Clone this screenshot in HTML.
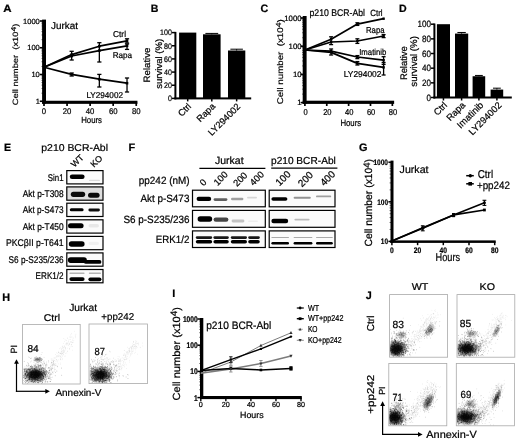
<!DOCTYPE html>
<html lang="en">
<head>
<meta charset="utf-8">
<title>Figure</title>
<style>
html,body{margin:0;padding:0;background:#fff;}
body{width:520px;height:442px;overflow:hidden;}
svg{display:block;font-family:"Liberation Sans", Arial, Helvetica, sans-serif;fill:#000;text-rendering:geometricPrecision;filter:blur(0.3px);}
text{stroke:#000;stroke-width:0.22px;}
</style>
</head>
<body>
<svg width="520" height="442" viewBox="0 0 520 442">
<defs>
<filter id="b1" x="-20%" y="-60%" width="140%" height="220%"><feGaussianBlur stdDeviation="0.75 0.5"/></filter>
<filter id="soft" x="-5%" y="-5%" width="110%" height="110%"><feGaussianBlur stdDeviation="0.32"/></filter>
<radialGradient id="g1"><stop offset="0" stop-color="#000" stop-opacity="0.95"/><stop offset="0.3" stop-color="#000" stop-opacity="0.85"/><stop offset="0.55" stop-color="#000" stop-opacity="0.45"/><stop offset="0.8" stop-color="#000" stop-opacity="0.12"/><stop offset="1" stop-color="#000" stop-opacity="0"/></radialGradient>
<radialGradient id="g2"><stop offset="0" stop-color="#000" stop-opacity="0.8"/><stop offset="0.5" stop-color="#000" stop-opacity="0.45"/><stop offset="1" stop-color="#000" stop-opacity="0"/></radialGradient>
</defs>
<rect width="520" height="442" fill="#fff"/>
<text x="3.20" y="11.80" font-size="10.6" font-weight="bold" textLength="8.30" lengthAdjust="spacingAndGlyphs">A</text>
<rect x="42.10" y="19.60" width="3.90" height="84.05" fill="#000"/>
<line x1="41.50" y1="93.20" x2="43.00" y2="93.20" stroke="#000" stroke-width="0.6"/>
<line x1="41.50" y1="88.49" x2="43.00" y2="88.49" stroke="#000" stroke-width="0.6"/>
<line x1="41.50" y1="85.14" x2="43.00" y2="85.14" stroke="#000" stroke-width="0.6"/>
<line x1="41.50" y1="82.55" x2="43.00" y2="82.55" stroke="#000" stroke-width="0.6"/>
<line x1="41.50" y1="80.43" x2="43.00" y2="80.43" stroke="#000" stroke-width="0.6"/>
<line x1="41.50" y1="78.64" x2="43.00" y2="78.64" stroke="#000" stroke-width="0.6"/>
<line x1="41.50" y1="77.09" x2="43.00" y2="77.09" stroke="#000" stroke-width="0.6"/>
<line x1="41.50" y1="75.72" x2="43.00" y2="75.72" stroke="#000" stroke-width="0.6"/>
<line x1="41.50" y1="66.45" x2="43.00" y2="66.45" stroke="#000" stroke-width="0.6"/>
<line x1="41.50" y1="61.74" x2="43.00" y2="61.74" stroke="#000" stroke-width="0.6"/>
<line x1="41.50" y1="58.39" x2="43.00" y2="58.39" stroke="#000" stroke-width="0.6"/>
<line x1="41.50" y1="55.80" x2="43.00" y2="55.80" stroke="#000" stroke-width="0.6"/>
<line x1="41.50" y1="53.68" x2="43.00" y2="53.68" stroke="#000" stroke-width="0.6"/>
<line x1="41.50" y1="51.89" x2="43.00" y2="51.89" stroke="#000" stroke-width="0.6"/>
<line x1="41.50" y1="50.34" x2="43.00" y2="50.34" stroke="#000" stroke-width="0.6"/>
<line x1="41.50" y1="48.97" x2="43.00" y2="48.97" stroke="#000" stroke-width="0.6"/>
<line x1="41.50" y1="39.70" x2="43.00" y2="39.70" stroke="#000" stroke-width="0.6"/>
<line x1="41.50" y1="34.99" x2="43.00" y2="34.99" stroke="#000" stroke-width="0.6"/>
<line x1="41.50" y1="31.64" x2="43.00" y2="31.64" stroke="#000" stroke-width="0.6"/>
<line x1="41.50" y1="29.05" x2="43.00" y2="29.05" stroke="#000" stroke-width="0.6"/>
<line x1="41.50" y1="26.93" x2="43.00" y2="26.93" stroke="#000" stroke-width="0.6"/>
<line x1="41.50" y1="25.14" x2="43.00" y2="25.14" stroke="#000" stroke-width="0.6"/>
<line x1="41.50" y1="23.59" x2="43.00" y2="23.59" stroke="#000" stroke-width="0.6"/>
<line x1="41.50" y1="22.22" x2="43.00" y2="22.22" stroke="#000" stroke-width="0.6"/>
<line x1="39.80" y1="21.00" x2="43.00" y2="21.00" stroke="#000" stroke-width="1.6"/>
<text x="39.80" y="23.70" font-size="7.5" text-anchor="end">1000</text>
<line x1="39.80" y1="47.75" x2="43.00" y2="47.75" stroke="#000" stroke-width="1.6"/>
<text x="39.80" y="50.45" font-size="7.5" text-anchor="end">100</text>
<line x1="39.80" y1="74.50" x2="43.00" y2="74.50" stroke="#000" stroke-width="1.6"/>
<text x="39.80" y="77.20" font-size="7.5" text-anchor="end">10</text>
<line x1="39.80" y1="101.25" x2="43.00" y2="101.25" stroke="#000" stroke-width="1.6"/>
<text x="39.80" y="103.95" font-size="7.5" text-anchor="end">1</text>
<rect x="42.10" y="100.75" width="95.34" height="3.10" fill="#000"/>
<line x1="44.00" y1="102.25" x2="44.00" y2="105.95" stroke="#000" stroke-width="1.7"/>
<text x="44.00" y="114.40" font-size="8.3" text-anchor="middle" textLength="4.30" lengthAdjust="spacingAndGlyphs">0</text>
<line x1="67.06" y1="102.25" x2="67.06" y2="105.95" stroke="#000" stroke-width="1.7"/>
<text x="67.06" y="114.40" font-size="8.3" text-anchor="middle" textLength="8.60" lengthAdjust="spacingAndGlyphs">20</text>
<line x1="90.12" y1="102.25" x2="90.12" y2="105.95" stroke="#000" stroke-width="1.7"/>
<text x="90.12" y="114.40" font-size="8.3" text-anchor="middle" textLength="8.60" lengthAdjust="spacingAndGlyphs">40</text>
<line x1="113.18" y1="102.25" x2="113.18" y2="105.95" stroke="#000" stroke-width="1.7"/>
<text x="113.18" y="114.40" font-size="8.3" text-anchor="middle" textLength="8.60" lengthAdjust="spacingAndGlyphs">60</text>
<line x1="136.24" y1="102.25" x2="136.24" y2="105.95" stroke="#000" stroke-width="1.7"/>
<text x="136.24" y="114.40" font-size="8.3" text-anchor="middle" textLength="8.60" lengthAdjust="spacingAndGlyphs">80</text>
<text x="91.60" y="123.20" font-size="8.8" text-anchor="middle" textLength="20.80" lengthAdjust="spacingAndGlyphs">Hours</text>
<text xml:space="preserve" font-size="9.4" transform="translate(17.61 105.20) scale(0.82 1) rotate(-90)" textLength="81.50" lengthAdjust="spacingAndGlyphs">Cell number  (x10<tspan font-size="8.5" dy="-2.5">4</tspan><tspan dy="2.5">)</tspan></text>
<text x="51.00" y="28.70" font-size="9.8" textLength="27.00" lengthAdjust="spacingAndGlyphs">Jurkat</text>
<polyline points="44.00,67.30 71.67,54.60 99.34,46.20 127.02,40.80" fill="none" stroke="#000" stroke-width="1.7" stroke-linejoin="round"/>
<polyline points="44.00,67.30 71.67,56.00 99.34,50.60 127.02,45.80" fill="none" stroke="#000" stroke-width="1.7" stroke-linejoin="round"/>
<polyline points="44.00,67.30 71.67,74.40 99.34,79.20 127.02,83.20" fill="none" stroke="#000" stroke-width="1.7" stroke-linejoin="round"/>
<line x1="71.67" y1="51.30" x2="71.67" y2="60.00" stroke="#000" stroke-width="1.3"/>
<line x1="69.57" y1="51.30" x2="73.77" y2="51.30" stroke="#000" stroke-width="1.3"/>
<line x1="69.57" y1="60.00" x2="73.77" y2="60.00" stroke="#000" stroke-width="1.3"/>
<line x1="99.34" y1="42.70" x2="99.34" y2="62.00" stroke="#000" stroke-width="1.3"/>
<line x1="97.24" y1="42.70" x2="101.44" y2="42.70" stroke="#000" stroke-width="1.3"/>
<line x1="97.24" y1="62.00" x2="101.44" y2="62.00" stroke="#000" stroke-width="1.3"/>
<line x1="127.02" y1="38.80" x2="127.02" y2="43.00" stroke="#000" stroke-width="1.3"/>
<line x1="124.92" y1="38.80" x2="129.12" y2="38.80" stroke="#000" stroke-width="1.3"/>
<line x1="124.92" y1="43.00" x2="129.12" y2="43.00" stroke="#000" stroke-width="1.3"/>
<line x1="127.02" y1="44.00" x2="127.02" y2="49.40" stroke="#000" stroke-width="1.3"/>
<line x1="124.92" y1="44.00" x2="129.12" y2="44.00" stroke="#000" stroke-width="1.3"/>
<line x1="124.92" y1="49.40" x2="129.12" y2="49.40" stroke="#000" stroke-width="1.3"/>
<line x1="71.67" y1="73.00" x2="71.67" y2="76.00" stroke="#000" stroke-width="1.3"/>
<line x1="69.57" y1="73.00" x2="73.77" y2="73.00" stroke="#000" stroke-width="1.3"/>
<line x1="69.57" y1="76.00" x2="73.77" y2="76.00" stroke="#000" stroke-width="1.3"/>
<line x1="99.34" y1="74.40" x2="99.34" y2="87.00" stroke="#000" stroke-width="1.3"/>
<line x1="97.24" y1="74.40" x2="101.44" y2="74.40" stroke="#000" stroke-width="1.3"/>
<line x1="97.24" y1="87.00" x2="101.44" y2="87.00" stroke="#000" stroke-width="1.3"/>
<line x1="127.02" y1="78.00" x2="127.02" y2="92.00" stroke="#000" stroke-width="1.3"/>
<line x1="124.92" y1="78.00" x2="129.12" y2="78.00" stroke="#000" stroke-width="1.3"/>
<line x1="124.92" y1="92.00" x2="129.12" y2="92.00" stroke="#000" stroke-width="1.3"/>
<rect x="70.37" y="53.30" width="2.60" height="2.60" fill="#000"/>
<rect x="98.04" y="44.90" width="2.60" height="2.60" fill="#000"/>
<rect x="125.72" y="39.50" width="2.60" height="2.60" fill="#000"/>
<rect x="70.37" y="54.70" width="2.60" height="2.60" fill="#000"/>
<rect x="98.04" y="49.30" width="2.60" height="2.60" fill="#000"/>
<rect x="125.72" y="44.50" width="2.60" height="2.60" fill="#000"/>
<rect x="70.37" y="73.10" width="2.60" height="2.60" fill="#000"/>
<rect x="98.04" y="77.90" width="2.60" height="2.60" fill="#000"/>
<rect x="125.72" y="81.90" width="2.60" height="2.60" fill="#000"/>
<text x="113.00" y="36.50" font-size="8.5" textLength="13.00" lengthAdjust="spacingAndGlyphs">Ctrl</text>
<text x="112.70" y="58.30" font-size="8.4" textLength="19.40" lengthAdjust="spacingAndGlyphs">Rapa</text>
<text x="86.40" y="97.70" font-size="8.4" textLength="36.60" lengthAdjust="spacingAndGlyphs">LY294002</text>
<text x="150.80" y="11.50" font-size="10.6" font-weight="bold">B</text>
<rect x="174.40" y="31.90" width="2.00" height="67.50" fill="#000"/>
<rect x="174.40" y="97.40" width="76.80" height="2.00" fill="#000"/>
<line x1="172.00" y1="98.40" x2="175.40" y2="98.40" stroke="#000" stroke-width="1.5"/>
<text x="171.90" y="101.20" font-size="8.0" text-anchor="end" textLength="3.95" lengthAdjust="spacingAndGlyphs">0</text>
<line x1="172.00" y1="85.24" x2="175.40" y2="85.24" stroke="#000" stroke-width="1.5"/>
<text x="171.90" y="88.04" font-size="8.0" text-anchor="end" textLength="7.90" lengthAdjust="spacingAndGlyphs">20</text>
<line x1="172.00" y1="72.08" x2="175.40" y2="72.08" stroke="#000" stroke-width="1.5"/>
<text x="171.90" y="74.88" font-size="8.0" text-anchor="end" textLength="7.90" lengthAdjust="spacingAndGlyphs">40</text>
<line x1="172.00" y1="58.92" x2="175.40" y2="58.92" stroke="#000" stroke-width="1.5"/>
<text x="171.90" y="61.72" font-size="8.0" text-anchor="end" textLength="7.90" lengthAdjust="spacingAndGlyphs">60</text>
<line x1="172.00" y1="45.76" x2="175.40" y2="45.76" stroke="#000" stroke-width="1.5"/>
<text x="171.90" y="48.56" font-size="8.0" text-anchor="end" textLength="7.90" lengthAdjust="spacingAndGlyphs">80</text>
<line x1="172.00" y1="32.60" x2="175.40" y2="32.60" stroke="#000" stroke-width="1.5"/>
<text x="171.90" y="35.40" font-size="8.0" text-anchor="end" textLength="11.85" lengthAdjust="spacingAndGlyphs">100</text>
<rect x="179.10" y="32.60" width="17.20" height="65.80" fill="#000"/>
<line x1="187.70" y1="98.40" x2="187.70" y2="101.40" stroke="#000" stroke-width="1.5"/>
<rect x="203.00" y="34.31" width="17.60" height="64.09" fill="#000"/>
<line x1="211.80" y1="33.41" x2="211.80" y2="34.31" stroke="#000" stroke-width="1.0"/>
<line x1="205.40" y1="33.41" x2="218.20" y2="33.41" stroke="#000" stroke-width="1.0"/>
<line x1="211.80" y1="98.40" x2="211.80" y2="101.40" stroke="#000" stroke-width="1.5"/>
<rect x="228.00" y="50.50" width="17.30" height="47.90" fill="#000"/>
<line x1="236.65" y1="49.20" x2="236.65" y2="50.50" stroke="#000" stroke-width="1.0"/>
<line x1="230.40" y1="49.20" x2="242.90" y2="49.20" stroke="#000" stroke-width="1.0"/>
<line x1="236.65" y1="98.40" x2="236.65" y2="101.40" stroke="#000" stroke-width="1.5"/>
<text x="149.60" y="65.00" font-size="9.3" text-anchor="middle" transform="rotate(-90 149.60 65.00)" textLength="35.00" lengthAdjust="spacingAndGlyphs">Relative</text>
<text x="162.00" y="63.80" font-size="9.3" text-anchor="middle" transform="rotate(-90 162.00 63.80)" textLength="50.00" lengthAdjust="spacingAndGlyphs">survival (%)</text>
<text x="191.80" y="107.00" font-size="9.2" text-anchor="end" transform="rotate(-45 191.80 107.00)">Ctrl</text>
<text x="215.80" y="107.00" font-size="9.2" text-anchor="end" transform="rotate(-45 215.80 107.00)">Rapa</text>
<text x="241.00" y="107.20" font-size="9.2" text-anchor="end" transform="rotate(-45 241.00 107.20)">LY294002</text>
<text x="260.40" y="11.60" font-size="10.8" font-weight="bold">C</text>
<rect x="302.70" y="16.00" width="3.90" height="87.90" fill="#000"/>
<line x1="302.20" y1="94.11" x2="304.00" y2="94.11" stroke="#000" stroke-width="0.6"/>
<line x1="302.20" y1="89.15" x2="304.00" y2="89.15" stroke="#000" stroke-width="0.6"/>
<line x1="302.20" y1="85.62" x2="304.00" y2="85.62" stroke="#000" stroke-width="0.6"/>
<line x1="302.20" y1="82.89" x2="304.00" y2="82.89" stroke="#000" stroke-width="0.6"/>
<line x1="302.20" y1="80.66" x2="304.00" y2="80.66" stroke="#000" stroke-width="0.6"/>
<line x1="302.20" y1="78.77" x2="304.00" y2="78.77" stroke="#000" stroke-width="0.6"/>
<line x1="302.20" y1="77.13" x2="304.00" y2="77.13" stroke="#000" stroke-width="0.6"/>
<line x1="302.20" y1="75.69" x2="304.00" y2="75.69" stroke="#000" stroke-width="0.6"/>
<line x1="302.20" y1="65.91" x2="304.00" y2="65.91" stroke="#000" stroke-width="0.6"/>
<line x1="302.20" y1="60.95" x2="304.00" y2="60.95" stroke="#000" stroke-width="0.6"/>
<line x1="302.20" y1="57.42" x2="304.00" y2="57.42" stroke="#000" stroke-width="0.6"/>
<line x1="302.20" y1="54.69" x2="304.00" y2="54.69" stroke="#000" stroke-width="0.6"/>
<line x1="302.20" y1="52.46" x2="304.00" y2="52.46" stroke="#000" stroke-width="0.6"/>
<line x1="302.20" y1="50.57" x2="304.00" y2="50.57" stroke="#000" stroke-width="0.6"/>
<line x1="302.20" y1="48.93" x2="304.00" y2="48.93" stroke="#000" stroke-width="0.6"/>
<line x1="302.20" y1="47.49" x2="304.00" y2="47.49" stroke="#000" stroke-width="0.6"/>
<line x1="302.20" y1="37.71" x2="304.00" y2="37.71" stroke="#000" stroke-width="0.6"/>
<line x1="302.20" y1="32.75" x2="304.00" y2="32.75" stroke="#000" stroke-width="0.6"/>
<line x1="302.20" y1="29.22" x2="304.00" y2="29.22" stroke="#000" stroke-width="0.6"/>
<line x1="302.20" y1="26.49" x2="304.00" y2="26.49" stroke="#000" stroke-width="0.6"/>
<line x1="302.20" y1="24.26" x2="304.00" y2="24.26" stroke="#000" stroke-width="0.6"/>
<line x1="302.20" y1="22.37" x2="304.00" y2="22.37" stroke="#000" stroke-width="0.6"/>
<line x1="302.20" y1="20.73" x2="304.00" y2="20.73" stroke="#000" stroke-width="0.6"/>
<line x1="302.20" y1="19.29" x2="304.00" y2="19.29" stroke="#000" stroke-width="0.6"/>
<line x1="300.60" y1="18.00" x2="304.00" y2="18.00" stroke="#000" stroke-width="1.6"/>
<text x="301.60" y="20.80" font-size="7.8" text-anchor="end">1000</text>
<line x1="300.60" y1="46.20" x2="304.00" y2="46.20" stroke="#000" stroke-width="1.6"/>
<text x="301.60" y="49.00" font-size="7.8" text-anchor="end">100</text>
<line x1="300.60" y1="74.40" x2="304.00" y2="74.40" stroke="#000" stroke-width="1.6"/>
<text x="301.60" y="77.20" font-size="7.8" text-anchor="end">10</text>
<line x1="300.60" y1="102.60" x2="304.00" y2="102.60" stroke="#000" stroke-width="1.6"/>
<text x="301.60" y="105.40" font-size="7.8" text-anchor="end">1</text>
<rect x="302.70" y="100.70" width="91.44" height="3.20" fill="#000"/>
<line x1="304.90" y1="102.60" x2="304.90" y2="106.00" stroke="#000" stroke-width="1.7"/>
<text x="305.50" y="115.20" font-size="8.6" text-anchor="middle" textLength="4.20" lengthAdjust="spacingAndGlyphs">0</text>
<line x1="326.76" y1="102.60" x2="326.76" y2="106.00" stroke="#000" stroke-width="1.7"/>
<text x="327.36" y="115.20" font-size="8.6" text-anchor="middle" textLength="8.40" lengthAdjust="spacingAndGlyphs">20</text>
<line x1="348.62" y1="102.60" x2="348.62" y2="106.00" stroke="#000" stroke-width="1.7"/>
<text x="349.22" y="115.20" font-size="8.6" text-anchor="middle" textLength="8.40" lengthAdjust="spacingAndGlyphs">40</text>
<line x1="370.48" y1="102.60" x2="370.48" y2="106.00" stroke="#000" stroke-width="1.7"/>
<text x="371.08" y="115.20" font-size="8.6" text-anchor="middle" textLength="8.40" lengthAdjust="spacingAndGlyphs">60</text>
<line x1="392.34" y1="102.60" x2="392.34" y2="106.00" stroke="#000" stroke-width="1.7"/>
<text x="392.94" y="115.20" font-size="8.6" text-anchor="middle" textLength="8.40" lengthAdjust="spacingAndGlyphs">80</text>
<text x="350.80" y="125.80" font-size="9.2" text-anchor="middle" textLength="20.80" lengthAdjust="spacingAndGlyphs">Hours</text>
<text xml:space="preserve" font-size="9.6" transform="translate(283.28 104.20) scale(0.86 1) rotate(-90)" textLength="85.00" lengthAdjust="spacingAndGlyphs">Cell number  (x10<tspan font-size="8.6" dy="-2.6">4</tspan><tspan dy="2.6">)</tspan></text>
<text x="309.50" y="15.50" font-size="9.7" textLength="55.50" lengthAdjust="spacingAndGlyphs">p210 BCR-Abl</text>
<polyline points="304.90,50.00 331.13,39.20 357.36,24.10 383.60,18.70" fill="none" stroke="#000" stroke-width="1.7" stroke-linejoin="round"/>
<polyline points="304.90,50.00 331.13,42.00 357.36,41.00 383.60,36.00" fill="none" stroke="#000" stroke-width="1.7" stroke-linejoin="round"/>
<polyline points="304.90,50.00 331.13,51.20 357.36,57.00 383.60,60.20" fill="none" stroke="#000" stroke-width="1.7" stroke-linejoin="round"/>
<polyline points="304.90,50.00 331.13,52.40 357.36,63.40 383.60,67.40" fill="none" stroke="#000" stroke-width="1.7" stroke-linejoin="round"/>
<line x1="331.13" y1="36.80" x2="331.13" y2="44.60" stroke="#000" stroke-width="1.3"/>
<line x1="329.13" y1="36.80" x2="333.13" y2="36.80" stroke="#000" stroke-width="1.3"/>
<line x1="329.13" y1="44.60" x2="333.13" y2="44.60" stroke="#000" stroke-width="1.3"/>
<line x1="331.13" y1="49.00" x2="331.13" y2="55.00" stroke="#000" stroke-width="1.3"/>
<line x1="329.13" y1="49.00" x2="333.13" y2="49.00" stroke="#000" stroke-width="1.3"/>
<line x1="329.13" y1="55.00" x2="333.13" y2="55.00" stroke="#000" stroke-width="1.3"/>
<line x1="357.36" y1="22.80" x2="357.36" y2="25.40" stroke="#000" stroke-width="1.3"/>
<line x1="355.36" y1="22.80" x2="359.36" y2="22.80" stroke="#000" stroke-width="1.3"/>
<line x1="355.36" y1="25.40" x2="359.36" y2="25.40" stroke="#000" stroke-width="1.3"/>
<line x1="357.36" y1="38.80" x2="357.36" y2="43.40" stroke="#000" stroke-width="1.3"/>
<line x1="355.36" y1="38.80" x2="359.36" y2="38.80" stroke="#000" stroke-width="1.3"/>
<line x1="355.36" y1="43.40" x2="359.36" y2="43.40" stroke="#000" stroke-width="1.3"/>
<line x1="357.36" y1="55.60" x2="357.36" y2="58.60" stroke="#000" stroke-width="1.3"/>
<line x1="355.36" y1="55.60" x2="359.36" y2="55.60" stroke="#000" stroke-width="1.3"/>
<line x1="355.36" y1="58.60" x2="359.36" y2="58.60" stroke="#000" stroke-width="1.3"/>
<line x1="357.36" y1="61.60" x2="357.36" y2="65.00" stroke="#000" stroke-width="1.3"/>
<line x1="355.36" y1="61.60" x2="359.36" y2="61.60" stroke="#000" stroke-width="1.3"/>
<line x1="355.36" y1="65.00" x2="359.36" y2="65.00" stroke="#000" stroke-width="1.3"/>
<line x1="383.60" y1="34.60" x2="383.60" y2="37.60" stroke="#000" stroke-width="1.3"/>
<line x1="381.60" y1="34.60" x2="385.60" y2="34.60" stroke="#000" stroke-width="1.3"/>
<line x1="381.60" y1="37.60" x2="385.60" y2="37.60" stroke="#000" stroke-width="1.3"/>
<line x1="383.60" y1="56.70" x2="383.60" y2="64.40" stroke="#000" stroke-width="1.3"/>
<line x1="381.60" y1="56.70" x2="385.60" y2="56.70" stroke="#000" stroke-width="1.3"/>
<line x1="381.60" y1="64.40" x2="385.60" y2="64.40" stroke="#000" stroke-width="1.3"/>
<line x1="383.60" y1="62.50" x2="383.60" y2="75.00" stroke="#000" stroke-width="1.3"/>
<line x1="381.60" y1="62.50" x2="385.60" y2="62.50" stroke="#000" stroke-width="1.3"/>
<line x1="381.60" y1="75.00" x2="385.60" y2="75.00" stroke="#000" stroke-width="1.3"/>
<rect x="329.93" y="38.00" width="2.40" height="2.40" fill="#000"/>
<rect x="356.16" y="22.90" width="2.40" height="2.40" fill="#000"/>
<rect x="382.40" y="17.50" width="2.40" height="2.40" fill="#000"/>
<rect x="329.93" y="40.80" width="2.40" height="2.40" fill="#000"/>
<rect x="356.16" y="39.80" width="2.40" height="2.40" fill="#000"/>
<rect x="382.40" y="34.80" width="2.40" height="2.40" fill="#000"/>
<rect x="329.93" y="50.00" width="2.40" height="2.40" fill="#000"/>
<rect x="356.16" y="55.80" width="2.40" height="2.40" fill="#000"/>
<rect x="382.40" y="59.00" width="2.40" height="2.40" fill="#000"/>
<rect x="329.93" y="51.20" width="2.40" height="2.40" fill="#000"/>
<rect x="356.16" y="62.20" width="2.40" height="2.40" fill="#000"/>
<rect x="382.40" y="66.20" width="2.40" height="2.40" fill="#000"/>
<text x="370.20" y="16.30" font-size="9.0" textLength="12.40" lengthAdjust="spacingAndGlyphs">Ctrl</text>
<text x="366.00" y="32.70" font-size="8.7" textLength="18.60" lengthAdjust="spacingAndGlyphs">Rapa</text>
<text x="359.20" y="54.80" font-size="8.6" textLength="27.20" lengthAdjust="spacingAndGlyphs">Imatinib</text>
<text x="343.80" y="76.60" font-size="8.6" textLength="37.60" lengthAdjust="spacingAndGlyphs">LY294002</text>
<text x="399.00" y="11.80" font-size="10.6" font-weight="bold">D</text>
<rect x="433.40" y="23.50" width="2.00" height="75.00" fill="#000"/>
<rect x="433.40" y="96.50" width="78.40" height="2.00" fill="#000"/>
<line x1="431.00" y1="97.50" x2="434.40" y2="97.50" stroke="#000" stroke-width="1.5"/>
<text x="430.90" y="100.72" font-size="9.2" text-anchor="end" textLength="4.50" lengthAdjust="spacingAndGlyphs">0</text>
<line x1="431.00" y1="82.84" x2="434.40" y2="82.84" stroke="#000" stroke-width="1.5"/>
<text x="430.90" y="86.06" font-size="9.2" text-anchor="end" textLength="9.00" lengthAdjust="spacingAndGlyphs">20</text>
<line x1="431.00" y1="68.18" x2="434.40" y2="68.18" stroke="#000" stroke-width="1.5"/>
<text x="430.90" y="71.40" font-size="9.2" text-anchor="end" textLength="9.00" lengthAdjust="spacingAndGlyphs">40</text>
<line x1="431.00" y1="53.52" x2="434.40" y2="53.52" stroke="#000" stroke-width="1.5"/>
<text x="430.90" y="56.74" font-size="9.2" text-anchor="end" textLength="9.00" lengthAdjust="spacingAndGlyphs">60</text>
<line x1="431.00" y1="38.86" x2="434.40" y2="38.86" stroke="#000" stroke-width="1.5"/>
<text x="430.90" y="42.08" font-size="9.2" text-anchor="end" textLength="9.00" lengthAdjust="spacingAndGlyphs">80</text>
<line x1="431.00" y1="24.20" x2="434.40" y2="24.20" stroke="#000" stroke-width="1.5"/>
<text x="430.90" y="27.42" font-size="9.2" text-anchor="end" textLength="13.50" lengthAdjust="spacingAndGlyphs">100</text>
<rect x="436.90" y="24.20" width="13.10" height="73.30" fill="#000"/>
<line x1="443.45" y1="97.50" x2="443.45" y2="100.50" stroke="#000" stroke-width="1.5"/>
<rect x="455.00" y="33.58" width="13.20" height="63.92" fill="#000"/>
<line x1="461.60" y1="32.48" x2="461.60" y2="33.58" stroke="#000" stroke-width="1.0"/>
<line x1="457.40" y1="32.48" x2="465.80" y2="32.48" stroke="#000" stroke-width="1.0"/>
<line x1="461.60" y1="97.50" x2="461.60" y2="100.50" stroke="#000" stroke-width="1.5"/>
<rect x="472.60" y="76.24" width="12.60" height="21.26" fill="#000"/>
<line x1="478.90" y1="75.44" x2="478.90" y2="76.24" stroke="#000" stroke-width="1.0"/>
<line x1="475.00" y1="75.44" x2="482.80" y2="75.44" stroke="#000" stroke-width="1.0"/>
<line x1="478.90" y1="97.50" x2="478.90" y2="100.50" stroke="#000" stroke-width="1.5"/>
<rect x="490.60" y="89.58" width="12.60" height="7.92" fill="#000"/>
<line x1="496.90" y1="88.18" x2="496.90" y2="89.58" stroke="#000" stroke-width="1.0"/>
<line x1="493.00" y1="88.18" x2="500.80" y2="88.18" stroke="#000" stroke-width="1.0"/>
<line x1="496.90" y1="97.50" x2="496.90" y2="100.50" stroke="#000" stroke-width="1.5"/>
<text x="406.80" y="63.20" font-size="9.6" text-anchor="middle" transform="rotate(-90 406.80 63.20)" textLength="33.80" lengthAdjust="spacingAndGlyphs">Relative</text>
<text x="417.10" y="61.40" font-size="9.6" text-anchor="middle" transform="rotate(-90 417.10 61.40)" textLength="50.60" lengthAdjust="spacingAndGlyphs">survival (%)</text>
<text x="447.80" y="105.70" font-size="9.4" text-anchor="end" transform="rotate(-45 447.80 105.70)">Ctrl</text>
<text x="466.00" y="105.70" font-size="9.4" text-anchor="end" transform="rotate(-45 466.00 105.70)">Rapa</text>
<text x="484.00" y="105.70" font-size="9.4" text-anchor="end" transform="rotate(-45 484.00 105.70)">Imatinib</text>
<text x="502.20" y="105.90" font-size="9.4" text-anchor="end" transform="rotate(-45 502.20 105.90)">LY294002</text>
<text x="4.00" y="151.00" font-size="10.6" font-weight="bold">E</text>
<text x="41.30" y="150.90" font-size="10" textLength="66.70" lengthAdjust="spacingAndGlyphs">p210 BCR-Abl</text>
<text x="74.60" y="167.80" font-size="8.8" transform="rotate(-45 74.60 167.80)">WT</text>
<text x="94.00" y="167.80" font-size="8.8" transform="rotate(-45 94.00 167.80)">KO</text>
<rect x="66.80" y="170.60" width="36.20" height="13.30" fill="#fbfbfb" stroke="#000" stroke-width="1.2"/>
<text x="63.60" y="180.55" font-size="9.7" text-anchor="end" textLength="15.80" lengthAdjust="spacingAndGlyphs">Sin1</text>
<rect x="66.80" y="186.90" width="36.20" height="13.30" fill="#dedede" stroke="#000" stroke-width="1.2"/>
<text x="63.60" y="196.85" font-size="9.7" text-anchor="end" textLength="40.80" lengthAdjust="spacingAndGlyphs">Akt p-T308</text>
<rect x="66.80" y="203.20" width="36.20" height="13.30" fill="#fbfbfb" stroke="#000" stroke-width="1.2"/>
<text x="63.60" y="213.15" font-size="9.7" text-anchor="end" textLength="40.80" lengthAdjust="spacingAndGlyphs">Akt p-S473</text>
<rect x="66.80" y="219.80" width="36.20" height="13.30" fill="#fbfbfb" stroke="#000" stroke-width="1.2"/>
<text x="63.60" y="229.75" font-size="9.7" text-anchor="end" textLength="40.80" lengthAdjust="spacingAndGlyphs">Akt p-T450</text>
<rect x="66.80" y="236.40" width="36.20" height="13.30" fill="#fbfbfb" stroke="#000" stroke-width="1.2"/>
<text x="63.60" y="246.35" font-size="9.7" text-anchor="end" textLength="57.60" lengthAdjust="spacingAndGlyphs">PKCβII p-T641</text>
<rect x="66.80" y="252.90" width="36.20" height="13.30" fill="#fbfbfb" stroke="#000" stroke-width="1.2"/>
<text x="63.60" y="262.85" font-size="9.7" text-anchor="end" textLength="55.00" lengthAdjust="spacingAndGlyphs">S6 p-S235/236</text>
<rect x="66.80" y="269.50" width="36.20" height="13.30" fill="#fbfbfb" stroke="#000" stroke-width="1.2"/>
<text x="63.60" y="279.45" font-size="9.7" text-anchor="end" textLength="28.00" lengthAdjust="spacingAndGlyphs">ERK1/2</text>
<rect x="69.80" y="174.50" width="14.80" height="4.60" rx="2.30" fill="#000" filter="url(#b1)"/>
<rect x="89.00" y="179.70" width="11.00" height="1.40" rx="0.70" fill="#000" opacity="0.12" filter="url(#b1)"/>
<rect x="70.80" y="191.70" width="14.40" height="5.20" rx="2.60" fill="#000" opacity="0.95" filter="url(#b1)"/>
<rect x="88.00" y="192.80" width="11.60" height="5.00" rx="2.50" fill="#000" opacity="0.95" filter="url(#b1)"/>
<rect x="69.80" y="208.30" width="13.80" height="3.00" rx="1.50" fill="#000" filter="url(#b1)"/>
<rect x="88.40" y="208.60" width="11.50" height="2.80" rx="1.40" fill="#000" opacity="0.95" filter="url(#b1)"/>
<rect x="68.00" y="223.30" width="15.60" height="5.00" rx="2.50" fill="#000" filter="url(#b1)"/>
<rect x="88.50" y="224.10" width="10.50" height="3.40" rx="1.70" fill="#000" opacity="0.07" filter="url(#b1)"/>
<rect x="68.80" y="241.30" width="15.80" height="5.40" rx="2.70" fill="#000" filter="url(#b1)"/>
<rect x="88.50" y="241.70" width="10.50" height="3.40" rx="1.70" fill="#000" opacity="0.04" filter="url(#b1)"/>
<rect x="67.80" y="257.30" width="19.00" height="5.60" rx="2.80" fill="#000" filter="url(#b1)"/>
<rect x="84.00" y="260.00" width="17.40" height="3.80" rx="1.90" fill="#000" filter="url(#b1)"/>
<rect x="69.40" y="272.60" width="15.20" height="1.40" rx="0.70" fill="#000" opacity="0.28" filter="url(#b1)"/>
<rect x="88.80" y="272.60" width="12.20" height="1.40" rx="0.70" fill="#000" opacity="0.28" filter="url(#b1)"/>
<rect x="69.40" y="277.20" width="15.20" height="3.80" rx="1.90" fill="#000" filter="url(#b1)"/>
<rect x="88.40" y="277.40" width="13.00" height="3.80" rx="1.90" fill="#000" filter="url(#b1)"/>
<text x="128.40" y="151.20" font-size="10.9" font-weight="bold">F</text>
<text x="215.00" y="164.40" font-size="10.5" textLength="28.60" lengthAdjust="spacingAndGlyphs">Jurkat</text>
<text x="271.00" y="164.40" font-size="10.1" textLength="64.80" lengthAdjust="spacingAndGlyphs">p210 BCR-Abl</text>
<line x1="199.40" y1="168.40" x2="265.40" y2="168.40" stroke="#000" stroke-width="1.2"/>
<line x1="271.20" y1="168.20" x2="337.40" y2="168.20" stroke="#000" stroke-width="1.2"/>
<text x="138.80" y="184.40" font-size="10.5" textLength="50.80" lengthAdjust="spacingAndGlyphs">pp242 (nM)</text>
<text x="203.60" y="186.60" font-size="9.4" transform="rotate(-45 203.60 186.60)">0</text>
<text x="217.40" y="186.20" font-size="9.4" transform="rotate(-45 217.40 186.20)">100</text>
<text x="237.00" y="187.00" font-size="9.4" transform="rotate(-45 237.00 187.00)">200</text>
<text x="253.60" y="186.20" font-size="9.4" transform="rotate(-45 253.60 186.20)">400</text>
<text x="279.60" y="186.60" font-size="10" transform="rotate(-45 279.60 186.60)">100</text>
<text x="302.00" y="187.40" font-size="10" transform="rotate(-45 302.00 187.40)">200</text>
<text x="324.20" y="186.60" font-size="10" transform="rotate(-45 324.20 186.60)">400</text>
<rect x="192.50" y="190.20" width="72.80" height="16.60" fill="#fbfbfb" stroke="#000" stroke-width="1.2"/>
<rect x="269.20" y="190.20" width="65.80" height="16.60" fill="#fbfbfb" stroke="#000" stroke-width="1.2"/>
<text x="189.40" y="202.20" font-size="10.5" text-anchor="end" textLength="49.00" lengthAdjust="spacingAndGlyphs">Akt p-S473</text>
<rect x="192.50" y="210.40" width="72.80" height="16.90" fill="#fbfbfb" stroke="#000" stroke-width="1.2"/>
<rect x="269.20" y="210.40" width="65.80" height="16.90" fill="#fbfbfb" stroke="#000" stroke-width="1.2"/>
<text x="189.40" y="222.55" font-size="10.5" text-anchor="end" textLength="66.00" lengthAdjust="spacingAndGlyphs">S6 p-S235/236</text>
<rect x="192.50" y="230.90" width="72.80" height="16.60" fill="#fbfbfb" stroke="#000" stroke-width="1.2"/>
<rect x="269.20" y="230.90" width="65.80" height="16.60" fill="#fbfbfb" stroke="#000" stroke-width="1.2"/>
<text x="189.40" y="242.90" font-size="10.5" text-anchor="end" textLength="33.60" lengthAdjust="spacingAndGlyphs">ERK1/2</text>
<rect x="196.60" y="196.80" width="14.60" height="4.20" rx="2.10" fill="#000" filter="url(#b1)"/>
<rect x="213.60" y="198.20" width="13.80" height="2.80" rx="1.40" fill="#000" opacity="0.62" filter="url(#b1)"/>
<rect x="231.00" y="197.80" width="12.40" height="2.40" rx="1.20" fill="#000" opacity="0.36" filter="url(#b1)"/>
<rect x="247.00" y="196.70" width="10.00" height="1.80" rx="0.90" fill="#000" opacity="0.14" filter="url(#b1)"/>
<rect x="271.40" y="197.20" width="16.00" height="3.60" rx="1.80" fill="#000" filter="url(#b1)"/>
<rect x="293.60" y="196.80" width="17.20" height="2.00" rx="1.00" fill="#000" opacity="0.42" filter="url(#b1)"/>
<rect x="316.00" y="195.50" width="15.20" height="1.80" rx="0.90" fill="#000" opacity="0.36" filter="url(#b1)"/>
<rect x="197.60" y="216.30" width="14.60" height="5.40" rx="2.70" fill="#000" filter="url(#b1)"/>
<rect x="213.60" y="217.40" width="14.80" height="4.40" rx="2.20" fill="#000" opacity="0.72" filter="url(#b1)"/>
<rect x="231.60" y="219.60" width="12.80" height="2.80" rx="1.40" fill="#000" opacity="0.22" filter="url(#b1)"/>
<rect x="248.00" y="220.40" width="10.00" height="1.60" rx="0.80" fill="#000" opacity="0.05" filter="url(#b1)"/>
<rect x="271.40" y="218.80" width="16.80" height="4.40" rx="2.20" fill="#000" filter="url(#b1)"/>
<rect x="294.40" y="218.70" width="15.20" height="1.80" rx="0.90" fill="#000" opacity="0.25" filter="url(#b1)"/>
<rect x="195.80" y="236.30" width="16.40" height="2.60" rx="1.30" fill="#000" opacity="0.90" filter="url(#b1)"/>
<rect x="195.80" y="240.00" width="16.40" height="3.60" rx="1.80" fill="#000" filter="url(#b1)"/>
<rect x="213.40" y="236.30" width="15.40" height="2.60" rx="1.30" fill="#000" opacity="0.90" filter="url(#b1)"/>
<rect x="213.40" y="240.00" width="15.40" height="3.60" rx="1.80" fill="#000" filter="url(#b1)"/>
<rect x="230.80" y="236.30" width="16.20" height="2.60" rx="1.30" fill="#000" opacity="0.90" filter="url(#b1)"/>
<rect x="230.80" y="240.00" width="16.20" height="3.60" rx="1.80" fill="#000" filter="url(#b1)"/>
<rect x="248.20" y="236.30" width="11.60" height="2.60" rx="1.30" fill="#000" opacity="0.90" filter="url(#b1)"/>
<rect x="248.20" y="240.00" width="11.60" height="3.60" rx="1.80" fill="#000" filter="url(#b1)"/>
<rect x="271.40" y="236.90" width="17.60" height="1.00" rx="0.50" fill="#000" opacity="0.32" filter="url(#b1)"/>
<rect x="271.40" y="242.00" width="17.60" height="2.40" rx="1.20" fill="#000" filter="url(#b1)"/>
<rect x="293.60" y="236.90" width="18.80" height="1.00" rx="0.50" fill="#000" opacity="0.32" filter="url(#b1)"/>
<rect x="293.60" y="242.00" width="18.80" height="2.40" rx="1.20" fill="#000" filter="url(#b1)"/>
<rect x="316.00" y="236.90" width="16.80" height="1.00" rx="0.50" fill="#000" opacity="0.32" filter="url(#b1)"/>
<rect x="316.00" y="242.00" width="16.80" height="2.40" rx="1.20" fill="#000" filter="url(#b1)"/>
<text x="359.00" y="150.60" font-size="10.9" font-weight="bold">G</text>
<rect x="390.50" y="160.60" width="3.00" height="82.20" fill="#000"/>
<line x1="389.60" y1="229.48" x2="392.00" y2="229.48" stroke="#000" stroke-width="0.6"/>
<line x1="389.60" y1="222.51" x2="392.00" y2="222.51" stroke="#000" stroke-width="0.6"/>
<line x1="389.60" y1="217.56" x2="392.00" y2="217.56" stroke="#000" stroke-width="0.6"/>
<line x1="389.60" y1="213.72" x2="392.00" y2="213.72" stroke="#000" stroke-width="0.6"/>
<line x1="389.60" y1="210.59" x2="392.00" y2="210.59" stroke="#000" stroke-width="0.6"/>
<line x1="389.60" y1="207.93" x2="392.00" y2="207.93" stroke="#000" stroke-width="0.6"/>
<line x1="389.60" y1="205.64" x2="392.00" y2="205.64" stroke="#000" stroke-width="0.6"/>
<line x1="389.60" y1="203.61" x2="392.00" y2="203.61" stroke="#000" stroke-width="0.6"/>
<line x1="389.60" y1="189.88" x2="392.00" y2="189.88" stroke="#000" stroke-width="0.6"/>
<line x1="389.60" y1="182.91" x2="392.00" y2="182.91" stroke="#000" stroke-width="0.6"/>
<line x1="389.60" y1="177.96" x2="392.00" y2="177.96" stroke="#000" stroke-width="0.6"/>
<line x1="389.60" y1="174.12" x2="392.00" y2="174.12" stroke="#000" stroke-width="0.6"/>
<line x1="389.60" y1="170.99" x2="392.00" y2="170.99" stroke="#000" stroke-width="0.6"/>
<line x1="389.60" y1="168.33" x2="392.00" y2="168.33" stroke="#000" stroke-width="0.6"/>
<line x1="389.60" y1="166.04" x2="392.00" y2="166.04" stroke="#000" stroke-width="0.6"/>
<line x1="389.60" y1="164.01" x2="392.00" y2="164.01" stroke="#000" stroke-width="0.6"/>
<line x1="388.40" y1="162.20" x2="392.00" y2="162.20" stroke="#000" stroke-width="1.5"/>
<text x="388.00" y="165.00" font-size="7.9" text-anchor="end" font-weight="bold" textLength="14.60" lengthAdjust="spacingAndGlyphs">1000</text>
<line x1="388.40" y1="201.80" x2="392.00" y2="201.80" stroke="#000" stroke-width="1.5"/>
<text x="388.00" y="204.60" font-size="7.9" text-anchor="end" font-weight="bold" textLength="10.80" lengthAdjust="spacingAndGlyphs">100</text>
<line x1="388.40" y1="241.40" x2="392.00" y2="241.40" stroke="#000" stroke-width="1.5"/>
<text x="388.00" y="244.20" font-size="7.9" text-anchor="end" font-weight="bold" textLength="7.20" lengthAdjust="spacingAndGlyphs">10</text>
<rect x="390.20" y="240.40" width="105.50" height="2.50" fill="#000"/>
<line x1="391.90" y1="241.40" x2="391.90" y2="245.20" stroke="#000" stroke-width="1.5"/>
<text x="391.90" y="252.70" font-size="8.0" text-anchor="middle" font-weight="bold" textLength="3.75" lengthAdjust="spacingAndGlyphs">0</text>
<line x1="417.60" y1="241.40" x2="417.60" y2="245.20" stroke="#000" stroke-width="1.5"/>
<text x="417.60" y="252.70" font-size="8.0" text-anchor="middle" font-weight="bold" textLength="7.50" lengthAdjust="spacingAndGlyphs">20</text>
<line x1="443.30" y1="241.40" x2="443.30" y2="245.20" stroke="#000" stroke-width="1.5"/>
<text x="443.30" y="252.70" font-size="8.0" text-anchor="middle" font-weight="bold" textLength="7.50" lengthAdjust="spacingAndGlyphs">40</text>
<line x1="469.00" y1="241.40" x2="469.00" y2="245.20" stroke="#000" stroke-width="1.5"/>
<text x="469.00" y="252.70" font-size="8.0" text-anchor="middle" font-weight="bold" textLength="7.50" lengthAdjust="spacingAndGlyphs">60</text>
<line x1="494.70" y1="241.40" x2="494.70" y2="245.20" stroke="#000" stroke-width="1.5"/>
<text x="494.70" y="252.70" font-size="8.0" text-anchor="middle" font-weight="bold" textLength="7.50" lengthAdjust="spacingAndGlyphs">80</text>
<text x="447.80" y="260.70" font-size="11.4" text-anchor="middle" textLength="24.50" lengthAdjust="spacingAndGlyphs">Hours</text>
<text xml:space="preserve" font-size="10.4" transform="translate(372.32 246.50) scale(1.0 1) rotate(-90)" textLength="87.50" lengthAdjust="spacingAndGlyphs">Cell number (x10<tspan font-size="9.4" dy="-2.8">4</tspan><tspan dy="2.8">)</tspan></text>
<text x="399.60" y="172.50" font-size="10.5" textLength="28.90" lengthAdjust="spacingAndGlyphs">Jurkat</text>
<polyline points="391.90,241.00 422.74,228.20 453.58,215.00 484.42,202.80" fill="none" stroke="#000" stroke-width="1.6" stroke-linejoin="round"/>
<polyline points="391.90,241.00 422.74,227.80 453.58,214.90 484.42,210.00" fill="none" stroke="#000" stroke-width="1.6" stroke-linejoin="round"/>
<line x1="422.74" y1="225.80" x2="422.74" y2="230.80" stroke="#000" stroke-width="1.1"/>
<line x1="420.84" y1="225.80" x2="424.64" y2="225.80" stroke="#000" stroke-width="1.1"/>
<line x1="420.84" y1="230.80" x2="424.64" y2="230.80" stroke="#000" stroke-width="1.1"/>
<line x1="453.58" y1="213.60" x2="453.58" y2="216.60" stroke="#000" stroke-width="1.1"/>
<line x1="451.98" y1="213.60" x2="455.18" y2="213.60" stroke="#000" stroke-width="1.1"/>
<line x1="451.98" y1="216.60" x2="455.18" y2="216.60" stroke="#000" stroke-width="1.1"/>
<line x1="484.42" y1="200.30" x2="484.42" y2="205.40" stroke="#000" stroke-width="1.1"/>
<line x1="482.52" y1="200.30" x2="486.32" y2="200.30" stroke="#000" stroke-width="1.1"/>
<line x1="482.52" y1="205.40" x2="486.32" y2="205.40" stroke="#000" stroke-width="1.1"/>
<circle cx="422.74" cy="228.20" r="1.5"/>
<circle cx="453.58" cy="215.00" r="1.5"/>
<circle cx="484.42" cy="202.80" r="1.5"/>
<rect x="421.34" y="226.40" width="2.80" height="2.80" fill="#000"/>
<rect x="452.18" y="213.50" width="2.80" height="2.80" fill="#000"/>
<rect x="483.02" y="208.60" width="2.80" height="2.80" fill="#000"/>
<line x1="466.20" y1="175.70" x2="473.80" y2="175.70" stroke="#000" stroke-width="1.5"/>
<circle cx="470.3" cy="175.7" r="1.7"/>
<text x="477.70" y="177.70" font-size="11.4" textLength="15.40" lengthAdjust="spacingAndGlyphs">Ctrl</text>
<line x1="466.20" y1="183.80" x2="473.80" y2="183.80" stroke="#000" stroke-width="1.5"/>
<rect x="468.40" y="182.00" width="3.60" height="3.60" fill="#000"/>
<text x="476.90" y="188.50" font-size="10.8" textLength="33.10" lengthAdjust="spacingAndGlyphs">+pp242</text>
<text x="2.20" y="300.80" font-size="10.8" font-weight="bold">H</text>
<text x="69.20" y="311.00" font-size="10.2" textLength="27.80" lengthAdjust="spacingAndGlyphs">Jurkat</text>
<text x="43.70" y="321.40" font-size="9.8" textLength="16.30" lengthAdjust="spacingAndGlyphs">Ctrl</text>
<text x="101.30" y="320.20" font-size="10.0" textLength="32.80" lengthAdjust="spacingAndGlyphs">+pp242</text>
<rect x="22.60" y="324.40" width="57.60" height="59.60" fill="#fff" stroke="#a9a9a9" stroke-width="0.8"/>
<clipPath id="cH1"><rect x="23.00" y="324.80" width="56.80" height="58.80"/></clipPath>
<g clip-path="url(#cH1)" filter="url(#soft)">
<ellipse cx="35.00" cy="374.80" rx="13.95" ry="9.30" fill="url(#g1)" opacity="1.0"/>
<path d="M33.6 373.0h0.6M33.8 375.9h0.6M30.0 375.6h0.6M41.0 373.3h0.6M40.6 373.9h0.6M37.1 374.1h0.6M26.0 371.7h0.6M37.7 373.0h0.6M25.9 381.1h0.6M30.2 376.5h0.6M36.6 375.0h0.6M37.8 377.1h0.6M36.7 373.4h0.6M31.4 368.6h0.6M38.0 370.5h0.6M31.7 377.5h0.6M33.1 375.2h0.6M38.4 373.9h0.6M32.6 378.2h0.6M32.2 370.4h0.6M30.6 373.9h0.6M37.3 380.2h0.6M35.3 370.1h0.6M24.1 376.0h0.6M34.4 377.7h0.6M37.7 375.0h0.6M27.1 371.8h0.6M38.6 371.4h0.6M42.8 373.5h0.6M35.6 379.5h0.6M38.3 377.0h0.6M32.6 379.4h0.6M29.8 376.7h0.6M42.0 382.1h0.6M27.1 373.9h0.6M42.8 372.7h0.6M36.9 377.5h0.6M29.0 371.3h0.6M40.9 374.2h0.6M36.3 373.2h0.6M43.6 372.6h0.6M37.8 372.8h0.6M26.5 370.2h0.6M40.2 372.9h0.6M24.3 377.1h0.6M39.5 381.3h0.6M34.0 371.1h0.6M27.9 369.0h0.6M38.0 375.3h0.6M36.8 372.5h0.6M35.7 370.7h0.6M31.4 376.3h0.6M40.6 374.7h0.6M30.2 371.4h0.6M42.9 376.4h0.6M27.5 375.3h0.6M34.2 375.9h0.6M42.6 378.5h0.6M41.8 379.4h0.6M30.7 372.5h0.6M41.1 371.7h0.6M36.9 374.3h0.6M35.8 372.7h0.6M34.0 373.8h0.6M38.1 374.8h0.6M39.1 372.8h0.6M45.9 373.6h0.6M32.7 376.1h0.6M34.9 371.5h0.6M33.2 373.4h0.6M28.9 373.9h0.6M37.2 373.9h0.6M32.7 372.4h0.6M36.5 376.7h0.6M48.1 373.5h0.6M32.0 375.2h0.6M33.8 375.0h0.6M40.4 379.0h0.6M34.6 371.4h0.6M39.6 369.4h0.6M25.8 376.1h0.6M33.2 372.6h0.6M40.9 380.0h0.6M38.7 380.2h0.6M35.9 370.5h0.6M34.2 374.1h0.6M39.3 374.3h0.6M34.5 369.3h0.6M40.7 375.9h0.6M49.8 378.9h0.6M39.9 375.8h0.6M35.7 372.3h0.6M36.2 372.5h0.6M26.8 380.2h0.6M38.3 378.3h0.6M29.5 380.1h0.6M41.8 372.1h0.6M43.0 378.2h0.6M35.0 378.9h0.6M39.1 369.1h0.6M30.2 369.2h0.6M40.3 375.4h0.6M24.4 369.7h0.6M34.5 377.0h0.6M37.2 373.3h0.6M43.1 378.5h0.6M41.1 369.4h0.6M42.8 375.5h0.6M31.0 371.1h0.6M35.6 374.4h0.6M42.7 375.7h0.6M25.0 371.9h0.6M36.7 377.0h0.6M34.9 371.8h0.6M35.4 370.0h0.6M34.7 371.1h0.6M43.1 369.0h0.6M31.4 371.6h0.6M24.9 378.7h0.6M24.4 371.0h0.6M28.3 374.8h0.6M34.0 374.9h0.6M31.8 374.0h0.6M44.7 374.6h0.6M37.9 371.2h0.6M33.9 379.3h0.6M32.0 370.9h0.6M26.1 377.0h0.6M40.4 371.9h0.6M35.0 371.9h0.6M35.9 379.0h0.6M26.6 377.1h0.6M40.0 376.8h0.6M30.1 377.6h0.6M26.7 375.2h0.6M28.6 373.5h0.6M31.5 381.8h0.6M38.9 375.8h0.6M36.6 376.5h0.6M39.2 372.1h0.6M38.6 373.6h0.6M42.2 372.4h0.6M37.4 382.3h0.6M39.8 370.1h0.6M33.4 376.5h0.6M45.5 381.1h0.6M37.5 366.1h0.6M30.0 372.3h0.6M45.2 375.2h0.6M38.0 371.6h0.6M30.1 375.1h0.6M36.6 371.8h0.6M34.8 375.5h0.6M29.5 376.1h0.6M39.8 374.4h0.6M30.4 377.8h0.6M49.4 370.7h0.6M38.4 373.1h0.6M44.1 373.3h0.6M34.6 372.9h0.6M24.5 371.1h0.6M36.8 377.3h0.6M42.2 368.3h0.6M27.4 377.2h0.6M36.6 374.1h0.6M32.8 378.3h0.6M46.5 371.1h0.6M28.6 379.6h0.6M44.2 371.2h0.6M44.8 371.9h0.6M30.3 373.9h0.6M23.3 377.5h0.6M34.7 372.9h0.6M31.1 375.2h0.6M37.5 373.4h0.6M38.4 374.0h0.6M33.3 372.0h0.6M35.3 377.8h0.6M31.6 374.8h0.6M34.4 374.2h0.6M35.0 374.2h0.6M34.3 379.3h0.6M37.3 371.0h0.6M37.3 375.5h0.6M37.4 378.3h0.6M24.8 374.6h0.6M30.0 372.1h0.6M29.4 369.1h0.6M32.9 379.7h0.6M30.9 372.9h0.6M37.7 374.2h0.6M43.0 372.3h0.6M34.9 372.7h0.6M43.9 371.3h0.6M40.5 378.7h0.6M34.2 372.2h0.6M33.4 371.0h0.6M38.2 371.5h0.6M33.9 365.6h0.6M41.7 375.6h0.6M35.5 365.5h0.6M33.1 371.7h0.6M40.3 374.8h0.6M28.7 374.1h0.6M36.9 370.7h0.6M39.2 374.7h0.6M39.6 372.9h0.6M36.1 374.6h0.6M33.7 372.3h0.6M29.3 377.1h0.6M35.0 380.1h0.6M32.6 382.0h0.6M31.3 372.8h0.6M38.1 375.0h0.6M33.7 379.9h0.6M44.9 372.9h0.6M40.9 378.0h0.6M34.0 381.4h0.6M39.2 371.4h0.6M24.8 375.0h0.6M38.4 381.1h0.6M25.1 378.6h0.6M31.6 379.9h0.6M35.2 373.9h0.6M38.4 372.3h0.6M43.1 370.6h0.6M27.9 376.6h0.6M29.3 378.7h0.6M34.6 374.8h0.6M37.6 380.5h0.6M28.3 374.9h0.6M33.9 375.9h0.6M34.7 377.5h0.6M38.8 373.5h0.6M34.5 377.2h0.6M29.7 374.7h0.6M26.9 374.1h0.6M35.8 379.8h0.6M33.6 375.9h0.6M37.5 372.6h0.6M34.8 377.9h0.6M34.2 375.0h0.6M39.0 373.7h0.6M31.1 379.7h0.6M33.0 377.5h0.6M29.0 375.2h0.6M32.3 374.4h0.6M37.8 376.3h0.6M47.6 376.0h0.6M40.9 374.4h0.6M41.0 383.4h0.6M30.9 373.9h0.6M38.3 366.4h0.6M36.7 370.2h0.6M39.1 371.4h0.6M37.8 375.4h0.6M37.7 378.7h0.6M41.4 378.5h0.6M36.3 367.2h0.6M33.8 374.7h0.6M41.3 374.7h0.6M30.6 373.9h0.6M38.1 372.2h0.6M30.8 368.5h0.6M44.0 374.7h0.6M36.5 376.3h0.6M42.6 377.3h0.6M38.6 376.5h0.6M31.3 372.2h0.6M42.2 374.8h0.6M31.3 371.9h0.6M34.7 373.7h0.6M43.2 370.7h0.6M32.2 366.6h0.6M35.0 372.0h0.6M31.5 375.0h0.6M25.6 368.4h0.6M42.4 379.2h0.6M26.9 380.6h0.6M41.3 376.5h0.6M34.7 375.9h0.6M34.3 378.7h0.6M35.1 380.0h0.6M34.6 373.7h0.6M37.5 375.6h0.6M30.1 374.2h0.6M32.4 369.2h0.6M39.1 375.2h0.6M32.5 377.3h0.6M29.9 376.1h0.6M36.6 372.9h0.6M38.1 367.2h0.6M31.2 374.8h0.6M50.1 381.5h0.6M32.2 374.2h0.6M35.8 373.3h0.6M33.7 373.5h0.6M35.3 372.0h0.6M24.8 378.0h0.6M35.0 378.5h0.6M29.4 372.5h0.6M31.5 372.5h0.6M39.0 373.7h0.6M37.7 375.2h0.6M27.4 374.9h0.6M37.5 376.7h0.6M34.5 372.1h0.6M30.3 372.5h0.6M45.1 376.8h0.6M35.8 375.3h0.6M43.3 373.7h0.6M39.8 377.3h0.6M34.9 374.8h0.6M25.4 369.6h0.6M39.9 381.1h0.6M39.0 375.3h0.6M37.4 373.5h0.6M26.9 375.6h0.6M43.1 376.9h0.6M29.5 379.7h0.6M28.4 373.6h0.6M44.1 373.3h0.6M36.3 366.8h0.6M32.2 377.2h0.6M37.9 372.8h0.6M29.5 379.0h0.6M36.6 373.9h0.6M27.9 375.5h0.6M32.1 373.1h0.6M34.4 375.1h0.6M33.1 371.0h0.6M42.5 376.1h0.6M39.6 377.5h0.6M35.4 372.1h0.6M43.2 376.2h0.6M34.6 374.1h0.6M26.9 374.7h0.6M31.4 373.5h0.6M28.9 381.9h0.6M35.2 373.9h0.6M32.0 371.6h0.6M33.5 377.0h0.6M37.6 380.4h0.6M31.3 374.9h0.6M39.6 375.4h0.6M36.7 377.2h0.6M36.6 368.8h0.6M31.3 366.3h0.6M31.5 374.7h0.6M35.9 371.1h0.6M28.3 382.4h0.6M38.3 371.9h0.6M38.4 365.3h0.6M36.1 373.9h0.6M40.0 373.5h0.6M44.0 379.3h0.6M39.4 376.1h0.6M40.0 367.0h0.6M35.0 375.7h0.6M32.3 377.8h0.6M31.6 372.5h0.6M35.2 374.6h0.6M34.1 371.5h0.6M37.7 375.3h0.6M38.6 375.3h0.6M28.8 369.6h0.6M37.5 378.2h0.6M40.8 373.6h0.6M26.6 369.0h0.6M36.8 371.6h0.6M36.1 375.3h0.6M26.6 371.3h0.6M35.2 375.8h0.6M36.9 374.5h0.6M38.6 376.1h0.6M34.8 382.5h0.6M32.7 372.4h0.6M42.2 376.1h0.6M34.3 369.1h0.6M33.2 372.2h0.6M44.1 374.7h0.6M41.6 377.4h0.6M36.1 375.1h0.6M35.6 370.7h0.6M47.9 377.2h0.6M31.9 373.0h0.6M29.3 373.0h0.6M38.1 375.8h0.6M37.9 380.4h0.6M39.1 380.4h0.6M31.2 376.8h0.6M32.8 371.7h0.6M35.4 376.2h0.6M37.9 369.1h0.6M35.0 373.5h0.6M41.7 373.8h0.6M28.1 365.8h0.6M46.9 381.9h0.6M34.8 373.3h0.6M40.2 372.4h0.6M33.5 378.6h0.6M35.6 371.1h0.6M29.1 378.5h0.6M34.9 381.8h0.6M33.6 376.4h0.6M37.4 377.3h0.6M30.2 376.2h0.6M34.7 377.2h0.6M35.1 372.1h0.6M41.4 368.7h0.6M30.8 376.3h0.6M31.1 374.9h0.6M37.8 379.7h0.6M37.5 374.9h0.6M25.1 373.7h0.6M41.5 381.5h0.6M39.4 374.0h0.6M37.6 373.2h0.6M42.0 375.6h0.6M39.7 376.3h0.6M38.9 377.7h0.6M34.4 368.6h0.6M37.4 375.4h0.6M28.8 377.6h0.6M36.0 371.4h0.6M37.3 372.9h0.6M34.8 369.9h0.6M32.9 376.8h0.6M39.8 374.6h0.6M33.5 376.9h0.6M33.6 372.6h0.6M36.9 379.2h0.6M37.3 374.2h0.6M29.6 372.0h0.6M33.5 376.0h0.6M39.3 370.0h0.6M31.3 373.2h0.6M30.3 366.5h0.6M32.3 370.5h0.6M31.5 371.9h0.6M32.7 373.0h0.6M34.5 377.2h0.6M46.6 374.5h0.6M26.1 371.7h0.6M25.7 370.7h0.6M31.9 374.3h0.6M41.8 374.4h0.6M27.5 380.9h0.6M41.4 372.1h0.6M30.6 371.7h0.6M37.7 372.5h0.6M39.9 372.2h0.6M35.9 373.0h0.6M48.8 378.2h0.6M33.2 374.7h0.6M39.8 376.4h0.6M41.2 377.6h0.6M36.4 376.7h0.6M35.9 377.3h0.6M26.4 370.9h0.6M36.6 376.8h0.6M36.1 371.2h0.6M29.7 375.2h0.6M37.9 372.9h0.6M33.2 382.4h0.6M41.7 373.6h0.6M35.1 375.8h0.6M36.4 376.3h0.6M29.5 377.5h0.6M31.8 377.0h0.6M28.7 372.5h0.6M27.9 372.4h0.6M29.5 373.5h0.6M42.4 374.1h0.6M31.1 374.6h0.6M35.8 381.0h0.6M31.7 374.2h0.6M32.5 374.5h0.6M39.0 372.0h0.6M39.9 372.7h0.6M33.4 374.9h0.6M33.5 375.9h0.6M34.0 381.0h0.6M33.2 374.9h0.6M29.7 374.9h0.6M37.8 375.4h0.6M33.9 381.4h0.6M40.3 365.2h0.6M37.8 375.9h0.6M38.0 382.9h0.6M39.6 373.5h0.6M35.1 376.9h0.6M38.4 376.5h0.6M36.2 376.6h0.6M36.1 372.1h0.6M30.3 374.9h0.6M38.3 374.3h0.6M41.7 367.6h0.6M30.1 381.7h0.6M39.6 369.3h0.6M40.0 371.9h0.6M31.7 377.4h0.6M39.8 378.1h0.6M25.2 378.4h0.6M48.5 367.9h0.6M31.3 377.4h0.6M36.2 377.5h0.6M42.1 375.1h0.6M29.1 370.1h0.6M31.9 374.0h0.6M34.9 375.9h0.6M36.8 377.3h0.6M25.0 382.7h0.6M28.2 377.5h0.6M34.9 374.6h0.6M38.0 374.4h0.6M30.7 377.4h0.6M23.6 375.4h0.6M37.6 372.9h0.6M34.3 375.4h0.6M40.1 374.7h0.6M39.0 372.7h0.6M36.2 370.1h0.6M31.9 376.1h0.6M30.6 377.7h0.6M43.4 368.5h0.6M35.1 372.8h0.6M41.3 371.9h0.6M41.5 379.3h0.6M31.5 373.2h0.6M42.8 374.4h0.6M30.4 376.1h0.6M31.4 377.9h0.6M43.1 377.1h0.6M35.1 367.0h0.6M41.4 373.6h0.6M31.7 373.3h0.6M43.8 372.6h0.6M41.8 374.4h0.6M37.8 375.5h0.6M37.3 370.1h0.6M27.3 375.0h0.6M36.3 376.9h0.6M33.3 372.0h0.6M45.8 372.5h0.6M36.8 380.4h0.6M45.4 374.5h0.6M34.8 378.8h0.6M34.7 378.7h0.6M35.4 373.1h0.6M35.2 373.8h0.6M30.4 369.7h0.6M31.5 381.3h0.6M34.0 377.5h0.6M29.5 376.1h0.6M36.6 379.1h0.6M34.3 369.7h0.6M38.7 375.3h0.6M35.7 375.2h0.6M34.7 372.2h0.6M34.9 378.0h0.6M38.5 377.0h0.6M35.8 367.0h0.6M29.3 378.8h0.6M24.9 373.5h0.6M31.6 381.5h0.6M27.0 372.6h0.6M30.8 376.1h0.6M36.8 369.9h0.6M45.5 371.1h0.6M35.8 374.1h0.6M44.7 369.7h0.6M33.3 373.2h0.6M36.5 374.6h0.6M32.3 379.6h0.6M32.1 380.4h0.6M41.6 372.9h0.6M28.5 369.8h0.6M39.8 381.7h0.6M44.9 371.9h0.6M46.1 379.2h0.6M37.9 373.3h0.6M36.1 374.2h0.6M40.7 380.2h0.6M28.3 379.8h0.6M32.0 377.0h0.6M37.0 373.8h0.6M35.2 377.2h0.6M32.6 371.4h0.6M39.1 374.4h0.6M33.3 369.2h0.6M31.8 372.5h0.6M41.2 375.8h0.6M39.5 378.8h0.6M40.5 374.1h0.6M26.4 372.4h0.6M30.2 370.2h0.6M31.3 375.4h0.6M36.5 376.0h0.6M36.4 376.8h0.6M38.6 374.8h0.6M41.3 374.7h0.6M25.4 374.5h0.6M37.5 370.9h0.6M29.2 369.2h0.6M34.1 366.2h0.6M34.2 372.4h0.6M33.0 378.8h0.6M40.9 371.5h0.6M43.3 371.7h0.6M31.9 380.8h0.6M31.5 377.2h0.6M30.6 372.7h0.6M36.8 375.8h0.6M35.9 375.3h0.6M36.1 372.1h0.6M40.2 377.3h0.6M26.9 369.7h0.6M35.6 370.8h0.6M26.1 376.0h0.6M35.1 380.0h0.6M32.2 372.2h0.6M40.8 369.1h0.6M30.3 379.8h0.6M37.8 371.4h0.6M36.0 379.5h0.6M39.2 371.9h0.6M38.0 376.6h0.6M36.6 372.0h0.6" stroke="#000" stroke-width="0.6" opacity="0.8" fill="none"/>
<path d="M38.4 371.2h0.55M35.7 369.2h0.55M30.6 375.2h0.55M33.0 371.2h0.55M49.2 374.3h0.55M53.2 363.8h0.55M42.4 370.2h0.55M50.7 373.7h0.55M34.6 380.3h0.55M39.6 366.2h0.55M40.2 371.4h0.55M33.9 373.4h0.55M23.4 369.5h0.55M32.1 380.8h0.55M29.2 379.5h0.55M42.9 367.5h0.55M24.0 370.1h0.55M43.2 376.7h0.55M30.2 372.8h0.55M37.6 382.6h0.55M43.3 380.2h0.55M29.7 379.6h0.55M31.0 367.3h0.55M42.9 370.1h0.55M38.3 382.6h0.55M31.1 377.8h0.55M27.2 372.2h0.55M29.3 378.8h0.55M40.7 366.2h0.55M37.1 379.6h0.55M46.0 371.5h0.55M43.5 365.1h0.55M45.2 375.7h0.55M44.6 368.9h0.55M23.4 376.0h0.55M40.5 379.7h0.55M38.8 365.6h0.55M24.3 369.4h0.55M53.3 361.1h0.55M33.8 372.9h0.55M34.3 368.7h0.55M44.5 372.8h0.55M24.0 371.2h0.55M31.6 371.1h0.55M37.8 364.8h0.55M45.3 375.8h0.55M38.6 364.0h0.55M31.0 372.2h0.55M45.8 366.1h0.55M40.0 381.2h0.55M24.8 373.9h0.55M38.9 359.5h0.55M28.2 368.5h0.55M42.2 383.0h0.55M28.6 374.0h0.55M31.4 375.5h0.55M39.6 378.4h0.55M39.6 377.4h0.55M30.9 371.6h0.55M30.7 373.1h0.55M49.3 372.7h0.55M34.4 370.2h0.55M32.5 368.4h0.55M24.6 371.8h0.55M31.2 379.1h0.55M50.7 377.5h0.55M50.6 369.0h0.55M48.0 378.5h0.55M45.9 365.0h0.55M34.6 375.0h0.55M56.6 371.1h0.55M32.0 378.1h0.55M39.4 372.0h0.55M37.1 364.3h0.55M32.8 371.8h0.55M48.1 378.6h0.55M44.5 363.0h0.55M24.0 381.5h0.55M39.9 365.6h0.55M29.3 376.3h0.55M36.1 371.1h0.55M32.6 374.4h0.55M30.9 374.0h0.55M25.6 374.8h0.55M52.0 372.1h0.55M24.8 373.8h0.55M29.3 370.7h0.55M38.9 374.4h0.55M27.7 381.1h0.55M47.1 371.7h0.55M23.9 361.4h0.55M25.8 375.6h0.55M37.4 374.9h0.55M33.2 382.2h0.55M26.6 365.6h0.55M29.1 370.1h0.55M37.8 368.1h0.55M26.0 371.8h0.55M38.9 378.0h0.55M39.7 378.9h0.55M28.8 375.0h0.55M27.0 383.3h0.55M32.0 370.3h0.55M32.1 367.4h0.55M25.7 382.6h0.55M48.9 370.6h0.55M43.7 378.1h0.55M42.5 372.0h0.55M41.1 373.5h0.55M45.9 376.8h0.55M27.4 383.4h0.55M45.5 377.4h0.55M26.7 380.4h0.55M31.8 381.7h0.55M33.1 378.0h0.55M30.9 380.1h0.55M35.9 376.8h0.55M36.6 372.7h0.55M31.0 379.1h0.55M42.2 382.4h0.55M29.5 376.5h0.55M32.7 368.9h0.55M31.8 369.1h0.55M46.0 370.7h0.55M39.8 373.1h0.55M39.7 380.6h0.55M43.7 376.4h0.55M44.0 372.9h0.55M45.2 374.0h0.55M32.2 373.2h0.55M32.0 377.6h0.55M36.5 373.3h0.55M48.6 372.6h0.55M51.7 362.4h0.55M50.3 366.8h0.55M36.7 373.3h0.55M34.4 378.4h0.55M35.0 377.9h0.55M49.6 369.8h0.55M35.1 376.6h0.55M26.3 381.5h0.55M35.0 359.7h0.55M35.3 375.1h0.55M47.9 372.2h0.55M37.0 376.2h0.55M30.4 366.3h0.55M44.2 363.7h0.55M32.6 374.3h0.55M28.1 369.5h0.55M23.7 372.2h0.55M45.0 365.3h0.55M27.6 368.9h0.55M29.5 379.1h0.55M24.3 368.8h0.55M49.7 376.1h0.55M29.1 376.8h0.55M57.0 366.4h0.55M29.8 368.1h0.55M51.6 374.1h0.55M29.7 377.7h0.55M26.3 369.1h0.55M38.1 378.3h0.55M42.3 373.5h0.55M25.6 371.7h0.55M51.2 369.8h0.55M29.4 376.8h0.55M44.8 381.5h0.55M33.5 372.5h0.55M40.0 364.8h0.55M41.3 375.3h0.55M25.5 380.5h0.55M29.9 373.9h0.55M35.2 364.8h0.55M38.1 380.0h0.55M48.8 367.5h0.55M36.5 378.2h0.55M43.4 377.9h0.55M24.3 374.2h0.55M37.7 370.6h0.55M41.2 365.7h0.55M28.4 369.4h0.55M27.2 371.1h0.55M37.1 372.7h0.55M43.9 373.5h0.55M45.1 368.3h0.55M36.8 377.3h0.55M29.2 377.8h0.55M33.9 374.5h0.55M61.1 368.1h0.55M42.2 378.4h0.55M29.5 376.6h0.55M37.2 379.9h0.55M49.4 376.0h0.55M35.5 372.6h0.55M37.2 370.6h0.55M38.0 373.0h0.55M38.2 375.0h0.55M28.6 378.2h0.55M51.4 362.9h0.55M35.1 367.0h0.55M31.5 379.5h0.55M30.8 373.6h0.55M61.5 375.3h0.55M36.0 372.6h0.55M35.3 369.0h0.55M50.8 379.7h0.55M37.0 375.6h0.55M38.6 382.5h0.55M40.1 372.7h0.55M32.4 378.8h0.55M23.5 380.6h0.55M41.6 370.5h0.55M35.4 371.3h0.55M30.4 374.3h0.55M35.9 371.0h0.55M35.0 375.1h0.55M34.4 377.9h0.55M54.7 369.4h0.55M39.3 360.9h0.55M47.6 381.8h0.55M41.5 368.9h0.55M51.7 365.2h0.55M42.2 380.2h0.55M28.2 373.4h0.55M39.9 379.5h0.55M32.3 376.8h0.55M36.1 372.3h0.55M33.1 381.4h0.55M46.2 364.1h0.55M34.7 368.5h0.55M39.4 370.1h0.55M39.7 378.1h0.55M40.5 368.0h0.55M27.9 363.9h0.55M53.5 362.1h0.55M52.6 368.3h0.55M32.7 377.9h0.55M28.6 374.2h0.55M35.3 370.5h0.55M55.1 372.4h0.55M41.4 370.9h0.55M37.9 375.1h0.55M34.6 379.0h0.55M37.1 374.2h0.55M38.3 378.7h0.55M35.9 373.9h0.55M40.8 379.7h0.55M39.2 368.3h0.55M40.7 375.8h0.55M31.4 376.0h0.55M41.8 364.8h0.55M34.2 378.0h0.55M38.8 372.7h0.55M27.8 379.1h0.55M34.7 370.5h0.55M25.4 381.0h0.55M39.9 380.7h0.55M36.5 372.1h0.55M34.7 380.0h0.55M35.1 376.1h0.55M38.5 378.6h0.55M44.9 382.7h0.55M34.1 374.3h0.55M43.8 376.8h0.55M40.3 376.9h0.55M41.9 363.8h0.55M32.2 372.0h0.55M27.7 369.5h0.55M46.0 373.0h0.55M25.9 372.9h0.55M45.4 367.1h0.55M29.8 366.8h0.55M25.1 368.9h0.55M51.7 368.3h0.55M45.2 375.1h0.55M25.1 375.8h0.55M33.9 374.6h0.55M41.6 374.4h0.55M37.2 371.6h0.55M35.6 363.8h0.55M39.4 373.3h0.55M33.8 377.9h0.55M47.1 372.2h0.55M26.4 378.3h0.55M34.4 376.8h0.55M44.9 379.8h0.55M39.8 373.0h0.55M25.5 374.9h0.55M34.8 371.5h0.55M31.8 372.9h0.55M42.3 367.7h0.55M35.5 377.6h0.55M28.8 371.1h0.55M41.2 379.5h0.55M36.9 379.1h0.55M36.1 369.1h0.55M45.3 371.0h0.55M54.9 375.7h0.55M35.6 368.3h0.55M30.1 378.7h0.55M32.4 374.9h0.55M26.3 372.4h0.55M40.2 373.3h0.55M50.1 374.6h0.55M46.8 376.2h0.55M37.3 375.0h0.55M31.4 378.1h0.55M32.6 378.6h0.55M30.9 377.6h0.55M26.6 375.9h0.55M42.3 374.9h0.55M31.4 367.0h0.55M44.0 368.2h0.55M45.5 375.1h0.55M34.5 368.0h0.55M30.9 375.3h0.55M38.8 371.8h0.55M33.2 368.9h0.55M34.1 370.3h0.55M44.8 369.6h0.55M41.9 380.1h0.55M24.4 378.8h0.55M39.7 365.3h0.55M25.1 373.5h0.55M28.3 379.1h0.55M33.2 370.5h0.55M37.4 367.4h0.55M27.2 370.0h0.55M43.6 373.0h0.55M39.7 377.0h0.55M26.3 377.4h0.55M30.1 358.5h0.55M31.5 365.3h0.55M37.3 372.3h0.55M42.0 378.0h0.55" stroke="#000" stroke-width="0.55" opacity="0.6" fill="none"/>
<path d="M44.2 368.3h0.5M41.0 368.0h0.5M50.3 374.0h0.5M40.6 365.6h0.5M27.9 363.2h0.5M40.7 380.2h0.5M36.6 381.0h0.5M40.0 373.8h0.5M36.6 372.5h0.5M37.2 382.4h0.5M27.6 376.4h0.5M29.1 377.5h0.5M26.5 370.2h0.5M34.7 378.6h0.5M27.1 366.4h0.5M30.1 367.9h0.5M26.2 372.8h0.5M39.1 365.5h0.5M43.2 363.1h0.5M32.6 374.0h0.5M43.0 374.8h0.5M41.9 372.9h0.5M38.8 371.6h0.5M26.3 376.6h0.5M49.6 377.4h0.5M25.2 374.0h0.5M32.5 379.6h0.5M28.4 364.3h0.5M31.1 381.1h0.5M43.1 366.9h0.5M26.6 366.9h0.5M46.1 373.1h0.5M24.3 369.0h0.5M44.3 371.4h0.5M39.8 365.5h0.5M52.7 372.5h0.5M31.7 372.7h0.5M46.9 378.5h0.5M43.2 376.7h0.5M40.1 366.2h0.5M25.4 373.6h0.5M38.2 367.1h0.5M27.6 380.6h0.5M34.3 373.9h0.5M31.2 361.0h0.5M43.7 371.2h0.5M42.5 380.3h0.5M33.1 376.8h0.5M24.6 372.9h0.5M34.7 360.7h0.5M27.7 376.4h0.5M39.8 368.4h0.5M36.3 375.8h0.5M40.5 368.7h0.5M23.6 382.5h0.5M37.3 371.4h0.5M37.0 378.9h0.5M34.2 379.4h0.5M39.4 366.2h0.5M51.8 360.5h0.5M28.8 376.3h0.5M27.6 370.3h0.5M53.8 364.8h0.5M24.4 368.9h0.5M36.0 369.6h0.5M52.0 377.2h0.5M28.4 357.0h0.5M39.1 377.9h0.5M36.4 364.1h0.5M34.7 377.6h0.5M29.3 357.5h0.5M36.2 367.1h0.5M32.4 368.3h0.5M43.3 372.5h0.5M31.9 373.8h0.5M27.3 374.4h0.5M33.3 370.6h0.5M48.0 360.5h0.5M32.0 367.6h0.5M38.7 365.7h0.5M36.2 369.9h0.5M31.8 378.6h0.5M43.8 361.0h0.5M42.0 368.0h0.5M38.4 375.4h0.5M37.8 376.3h0.5M27.3 362.6h0.5M41.8 352.6h0.5M29.5 372.7h0.5M31.4 371.2h0.5M34.1 378.1h0.5M45.7 377.4h0.5M31.4 368.0h0.5M31.2 375.9h0.5M39.2 374.6h0.5M24.8 373.8h0.5M34.0 358.6h0.5M26.1 365.2h0.5M28.9 375.5h0.5M33.1 370.1h0.5M43.8 357.4h0.5M30.3 361.9h0.5M45.0 364.7h0.5M29.2 365.4h0.5M35.0 369.3h0.5M33.6 366.9h0.5M46.0 362.1h0.5M34.2 364.2h0.5M49.1 378.3h0.5M49.3 381.5h0.5M40.9 366.8h0.5M49.3 368.6h0.5M31.7 378.7h0.5M24.7 366.9h0.5M33.9 377.9h0.5M40.8 377.7h0.5M32.1 376.0h0.5M50.9 359.0h0.5M38.5 371.2h0.5M39.1 367.2h0.5M33.1 364.9h0.5M43.5 369.7h0.5M32.3 376.2h0.5M42.2 380.2h0.5M34.6 378.1h0.5M23.5 368.3h0.5M35.8 371.7h0.5M43.9 383.2h0.5M35.4 369.8h0.5M43.5 380.0h0.5M42.4 369.7h0.5M48.2 361.9h0.5M40.9 354.5h0.5M36.0 375.4h0.5M32.9 379.8h0.5" stroke="#000" stroke-width="0.5" opacity="0.4" fill="none"/>
<ellipse cx="37.80" cy="359.60" rx="5.10" ry="3.06" fill="url(#g2)" opacity="0.45"/>
<path d="M37.7 362.5h0.5M37.6 358.9h0.5M40.3 360.1h0.5M41.3 360.6h0.5M37.5 362.5h0.5M35.9 360.8h0.5M41.5 358.8h0.5M35.1 358.8h0.5M39.0 359.9h0.5M37.9 360.1h0.5M36.4 362.2h0.5M37.6 357.7h0.5M41.4 360.0h0.5M35.9 359.9h0.5M40.0 359.1h0.5M36.3 359.1h0.5M37.3 358.8h0.5M36.8 361.8h0.5M37.9 358.5h0.5M35.0 359.8h0.5M40.0 360.2h0.5M36.2 356.6h0.5M39.9 358.1h0.5M35.5 357.2h0.5M33.7 360.4h0.5M39.6 357.6h0.5M35.5 360.6h0.5M38.3 362.5h0.5M39.4 358.8h0.5M36.7 358.8h0.5M39.7 359.1h0.5M39.1 357.4h0.5M36.6 359.4h0.5M36.5 358.1h0.5M36.8 358.9h0.5M38.1 359.5h0.5M42.0 359.7h0.5M41.3 358.4h0.5M41.1 359.8h0.5M40.1 358.5h0.5M36.3 359.2h0.5M37.5 359.7h0.5M41.0 360.7h0.5M33.7 362.2h0.5M36.7 360.6h0.5M37.8 358.8h0.5M42.1 359.1h0.5M38.9 360.7h0.5M39.2 357.6h0.5M41.1 362.5h0.5M40.0 357.3h0.5M39.8 361.8h0.5M37.0 358.7h0.5M38.8 360.8h0.5M35.6 358.2h0.5M34.5 357.5h0.5M37.8 359.2h0.5M34.5 360.5h0.5M39.5 361.8h0.5M42.9 361.7h0.5M34.8 359.5h0.5M39.0 358.5h0.5M36.9 359.9h0.5M37.2 360.4h0.5M31.5 358.2h0.5M38.4 359.4h0.5M36.3 359.2h0.5M37.8 359.7h0.5M40.5 362.1h0.5M38.4 361.2h0.5" stroke="#000" stroke-width="0.5" opacity="0.55" fill="none"/>
<path d="M53.2 359.9h.5M56.6 359.8h.5M66.6 343.4h.5M51.1 369.6h.5M60.5 353.6h.5M48.8 372.4h.5M75.7 334.2h.5M74.9 336.1h.5M71.1 344.4h.5M61.6 353.7h.5M67.1 338.2h.5M52.2 366.4h.5M50.1 375.6h.5M62.0 358.4h.5M54.6 357.9h.5M58.3 352.4h.5M53.1 373.7h.5M65.1 356.1h.5M56.7 365.4h.5M50.7 363.9h.5M52.3 364.1h.5M59.4 353.5h.5M60.3 359.1h.5M64.8 339.8h.5M72.1 350.2h.5M69.2 349.2h.5M60.5 364.3h.5M61.7 350.8h.5M68.4 345.0h.5M60.4 359.6h.5M51.9 369.0h.5M61.0 354.9h.5M63.6 338.5h.5M71.0 344.5h.5M56.5 356.5h.5M69.6 344.2h.5M69.6 344.4h.5M48.1 370.7h.5M61.6 351.5h.5M69.3 337.0h.5M47.9 367.5h.5M62.4 351.8h.5M51.2 367.3h.5M60.3 356.3h.5M60.4 363.1h.5M59.2 348.7h.5M73.1 338.1h.5M46.3 367.4h.5M68.8 343.7h.5M66.5 340.4h.5M62.2 359.6h.5M59.9 355.9h.5M49.0 371.8h.5M68.8 339.5h.5M50.2 369.0h.5M60.0 353.2h.5M46.1 371.7h.5M41.1 374.2h.5M51.4 374.4h.5M54.1 365.9h.5M51.4 362.0h.5M71.7 337.6h.5M62.1 347.0h.5M64.1 341.6h.5M55.8 364.1h.5M72.6 339.2h.5M55.7 357.5h.5M58.6 352.4h.5M60.5 353.1h.5M52.6 367.5h.5M58.3 356.6h.5M52.8 365.5h.5M50.1 370.7h.5M56.7 355.6h.5M54.1 367.6h.5M54.9 358.3h.5M67.3 343.3h.5M63.4 352.2h.5M64.4 351.3h.5M61.9 346.6h.5M44.1 371.0h.5M54.6 363.4h.5M51.5 370.9h.5M51.8 365.9h.5M64.9 347.9h.5M52.0 359.1h.5M66.6 353.0h.5M68.2 341.8h.5M47.4 364.8h.5M64.9 348.5h.5M55.8 357.1h.5M56.7 355.9h.5M48.7 371.3h.5M61.5 352.4h.5M62.2 353.8h.5M51.3 371.0h.5M75.1 337.7h.5M64.8 347.2h.5M54.5 370.7h.5M51.2 367.2h.5M58.1 351.3h.5M61.9 347.3h.5M65.6 349.7h.5M66.7 342.6h.5M69.4 344.0h.5M48.6 361.8h.5M54.1 368.3h.5M64.1 346.3h.5M72.3 340.7h.5M51.5 369.9h.5M46.1 370.7h.5M54.7 365.4h.5M53.5 371.3h.5M70.4 339.4h.5M67.0 351.6h.5M58.4 352.7h.5M65.0 344.0h.5M73.0 342.2h.5M48.0 368.5h.5M71.9 342.3h.5M63.3 354.8h.5M63.4 351.8h.5M52.6 364.1h.5M53.1 361.8h.5M57.0 361.9h.5M64.5 356.2h.5M68.4 345.2h.5M67.3 344.8h.5M60.8 354.1h.5M62.1 346.1h.5M63.2 350.4h.5M66.3 343.8h.5M70.9 345.8h.5M71.7 336.7h.5M51.0 368.8h.5M72.4 342.7h.5M52.3 372.8h.5M47.1 374.6h.5M70.5 341.6h.5M49.2 376.4h.5M67.5 348.2h.5M52.5 364.9h.5M50.7 372.1h.5M71.3 342.6h.5M49.8 368.7h.5M67.0 351.1h.5M61.9 356.0h.5M62.0 353.5h.5M58.4 363.9h.5M65.3 347.5h.5M55.1 363.5h.5M57.4 356.0h.5M60.7 359.8h.5M60.5 347.9h.5M69.8 346.9h.5M63.4 347.8h.5M60.6 357.1h.5M56.0 359.5h.5M75.5 336.2h.5M70.1 342.3h.5M57.1 360.8h.5M53.3 364.9h.5M73.6 340.6h.5M53.8 358.4h.5M55.7 361.3h.5M67.8 342.9h.5M64.1 351.0h.5M63.0 347.2h.5M62.6 348.6h.5M61.7 348.3h.5M61.3 349.2h.5M62.2 356.0h.5M58.8 352.4h.5M59.7 356.8h.5M67.1 338.1h.5M61.4 351.7h.5M53.4 364.0h.5M65.9 344.4h.5M71.3 341.6h.5M68.5 341.0h.5M51.7 368.5h.5M57.6 356.8h.5M61.1 357.6h.5M71.0 333.4h.5M60.8 351.1h.5M50.5 365.2h.5M60.7 356.2h.5M55.8 360.8h.5M52.0 365.2h.5M51.9 364.4h.5M56.0 365.9h.5M46.8 365.7h.5M48.8 367.7h.5M62.3 350.7h.5M55.9 359.7h.5M51.9 364.1h.5M65.9 345.1h.5M63.4 350.8h.5M70.7 334.6h.5M63.5 349.2h.5M63.8 347.2h.5M63.5 352.1h.5M46.2 370.5h.5M60.5 353.6h.5M61.5 353.7h.5M55.0 354.5h.5M63.9 345.6h.5M47.6 368.5h.5M66.6 343.2h.5M57.5 367.1h.5M54.1 371.5h.5M65.2 353.4h.5M64.2 346.8h.5M61.6 349.1h.5M74.1 331.3h.5M49.9 370.3h.5M50.2 372.6h.5M53.5 365.1h.5M65.7 340.2h.5M60.2 358.2h.5M70.4 336.1h.5M54.4 364.3h.5M58.8 355.2h.5M57.6 353.7h.5M69.0 348.9h.5M63.5 353.1h.5M58.0 355.1h.5M55.1 365.6h.5M53.8 357.7h.5M56.4 352.8h.5M59.3 355.9h.5M57.9 356.3h.5M71.9 342.6h.5M55.3 364.8h.5M63.3 343.4h.5M63.7 349.7h.5M71.7 346.6h.5M53.9 366.0h.5M69.4 343.2h.5M63.5 354.3h.5M65.0 348.4h.5M69.5 348.5h.5M55.4 365.5h.5M54.3 360.6h.5M67.6 343.7h.5M53.9 360.4h.5M59.9 359.0h.5M63.9 352.5h.5M46.2 370.5h.5M57.8 355.9h.5M72.1 346.4h.5M74.9 335.0h.5M52.5 365.8h.5M61.0 354.1h.5M61.9 352.4h.5M62.2 353.7h.5M58.4 359.8h.5M54.0 364.3h.5M64.7 350.4h.5M70.2 337.4h.5" stroke="#000" stroke-width=".5" opacity="0.2" fill="none"/>
</g>
<rect x="89.00" y="324.00" width="58.40" height="59.60" fill="#fff" stroke="#a9a9a9" stroke-width="0.8"/>
<clipPath id="cH2"><rect x="89.40" y="324.40" width="57.60" height="58.80"/></clipPath>
<g clip-path="url(#cH2)" filter="url(#soft)">
<ellipse cx="100.20" cy="375.00" rx="13.33" ry="9.30" fill="url(#g1)" opacity="1.0"/>
<path d="M97.4 371.6h0.6M100.3 369.1h0.6M104.1 369.3h0.6M99.6 373.7h0.6M98.0 375.6h0.6M91.6 377.0h0.6M95.5 377.3h0.6M106.3 374.1h0.6M106.3 372.0h0.6M104.8 371.5h0.6M97.2 372.2h0.6M98.6 376.8h0.6M106.1 367.5h0.6M95.3 369.0h0.6M104.3 377.9h0.6M101.6 373.7h0.6M102.1 376.2h0.6M93.8 374.9h0.6M104.5 372.3h0.6M103.5 371.2h0.6M95.3 375.1h0.6M101.9 371.5h0.6M101.0 373.2h0.6M100.9 367.7h0.6M112.5 374.2h0.6M91.1 374.5h0.6M93.1 377.4h0.6M101.3 369.1h0.6M102.5 372.7h0.6M105.3 374.3h0.6M95.9 375.3h0.6M101.9 376.0h0.6M96.9 376.2h0.6M92.7 378.6h0.6M99.7 376.3h0.6M100.4 370.1h0.6M101.7 375.1h0.6M94.4 378.7h0.6M102.1 378.0h0.6M102.3 378.7h0.6M100.9 375.3h0.6M105.1 376.4h0.6M98.4 374.1h0.6M100.5 369.1h0.6M98.9 376.9h0.6M98.6 373.4h0.6M101.4 372.6h0.6M93.3 366.4h0.6M109.3 375.1h0.6M94.2 374.5h0.6M102.3 382.7h0.6M100.3 380.1h0.6M102.5 370.2h0.6M105.3 380.2h0.6M107.1 371.9h0.6M98.4 373.3h0.6M107.7 376.1h0.6M100.1 376.9h0.6M105.9 382.5h0.6M107.2 378.4h0.6M104.8 380.6h0.6M95.5 377.1h0.6M104.3 380.6h0.6M103.2 377.2h0.6M106.4 376.1h0.6M102.6 375.6h0.6M109.1 376.2h0.6M100.1 368.1h0.6M100.6 372.6h0.6M96.5 374.3h0.6M97.0 380.2h0.6M93.2 371.0h0.6M102.3 380.3h0.6M109.2 377.4h0.6M98.4 374.1h0.6M94.6 380.6h0.6M96.5 370.9h0.6M104.9 380.5h0.6M106.2 374.9h0.6M102.7 374.8h0.6M102.3 378.5h0.6M95.7 377.4h0.6M98.4 372.9h0.6M94.2 369.5h0.6M97.1 377.0h0.6M103.7 373.5h0.6M98.5 378.7h0.6M95.2 380.5h0.6M105.9 371.2h0.6M109.5 373.3h0.6M101.9 372.4h0.6M104.9 375.9h0.6M101.9 367.5h0.6M91.8 379.9h0.6M95.4 372.4h0.6M106.1 376.2h0.6M103.5 375.2h0.6M101.7 376.9h0.6M100.1 375.0h0.6M105.8 367.3h0.6M91.2 373.2h0.6M100.2 371.6h0.6M105.5 372.3h0.6M104.2 378.3h0.6M91.7 369.2h0.6M106.2 378.3h0.6M106.6 372.7h0.6M95.3 371.0h0.6M96.8 377.6h0.6M92.5 375.8h0.6M105.3 377.3h0.6M91.0 367.6h0.6M109.4 372.6h0.6M97.5 379.2h0.6M92.1 373.1h0.6M106.7 378.7h0.6M100.2 376.0h0.6M98.9 373.3h0.6M110.6 377.2h0.6M104.4 371.2h0.6M98.8 375.5h0.6M93.5 371.3h0.6M97.6 377.3h0.6M100.5 378.0h0.6M95.0 376.0h0.6M107.6 375.7h0.6M102.8 380.1h0.6M90.5 368.7h0.6M98.2 380.3h0.6M99.7 372.9h0.6M91.6 378.1h0.6M101.5 378.2h0.6M104.2 371.7h0.6M102.4 376.5h0.6M100.0 377.2h0.6M99.6 373.9h0.6M98.7 371.6h0.6M113.1 376.9h0.6M101.9 372.1h0.6M103.4 375.8h0.6M97.8 371.5h0.6M103.3 373.2h0.6M96.2 372.8h0.6M104.2 375.6h0.6M103.4 367.4h0.6M90.8 372.9h0.6M94.4 379.7h0.6M99.0 373.1h0.6M100.5 379.1h0.6M93.0 376.9h0.6M100.3 377.9h0.6M92.7 368.9h0.6M96.0 375.5h0.6M97.5 377.0h0.6M100.4 376.0h0.6M103.3 379.1h0.6M92.8 368.2h0.6M99.8 372.3h0.6M106.1 373.1h0.6M100.4 380.4h0.6M92.2 371.6h0.6M103.6 373.0h0.6M91.9 382.4h0.6M94.9 379.1h0.6M101.0 378.6h0.6M108.1 377.2h0.6M97.4 372.0h0.6M101.8 378.1h0.6M104.3 368.3h0.6M94.1 375.9h0.6M94.8 381.8h0.6M103.3 372.6h0.6M105.1 373.5h0.6M90.1 375.1h0.6M96.9 379.1h0.6M94.7 372.3h0.6M98.7 368.1h0.6M102.6 381.7h0.6M104.7 370.6h0.6M100.4 379.2h0.6M109.1 379.6h0.6M99.8 381.7h0.6M93.9 381.0h0.6M105.7 370.9h0.6M98.2 379.7h0.6M99.9 373.7h0.6M92.5 379.1h0.6M99.7 372.5h0.6M100.6 373.4h0.6M101.8 378.2h0.6M99.6 376.3h0.6M102.6 377.7h0.6M107.5 374.9h0.6M102.9 372.8h0.6M105.4 373.6h0.6M91.4 377.2h0.6M109.6 373.3h0.6M103.0 373.4h0.6M97.0 377.4h0.6M96.9 370.9h0.6M102.0 368.7h0.6M102.7 368.3h0.6M102.5 379.2h0.6M109.0 373.8h0.6M106.2 374.2h0.6M98.5 374.4h0.6M94.5 379.2h0.6M95.7 376.9h0.6M93.3 375.4h0.6M101.7 367.8h0.6M109.5 375.2h0.6M104.7 375.8h0.6M102.2 375.1h0.6M97.5 374.7h0.6M92.7 373.4h0.6M98.7 378.8h0.6M98.4 373.0h0.6M96.8 373.3h0.6M103.1 369.5h0.6M94.7 375.4h0.6M102.8 369.7h0.6M101.5 372.3h0.6M92.7 377.1h0.6M108.6 376.0h0.6M111.2 377.6h0.6M98.8 380.7h0.6M103.4 374.1h0.6M110.5 374.4h0.6M98.9 380.0h0.6M99.8 371.6h0.6M104.0 370.6h0.6M104.6 375.2h0.6M103.3 374.4h0.6M93.4 368.9h0.6M102.1 378.7h0.6M102.2 374.0h0.6M105.3 369.9h0.6M108.0 378.4h0.6M90.7 374.0h0.6M101.9 373.8h0.6M94.5 376.7h0.6M101.2 372.3h0.6M111.4 374.0h0.6M105.7 375.5h0.6M99.6 378.5h0.6M104.0 381.4h0.6M100.8 374.6h0.6M101.7 370.3h0.6M99.7 374.7h0.6M104.6 380.5h0.6M98.7 374.8h0.6M105.1 377.9h0.6M104.3 373.6h0.6M92.6 380.3h0.6M92.9 374.5h0.6M101.3 372.4h0.6M104.4 377.0h0.6M105.7 372.1h0.6M102.6 373.3h0.6M93.6 373.7h0.6M94.9 379.3h0.6M98.4 374.5h0.6M99.9 376.2h0.6M95.1 374.3h0.6M96.4 380.0h0.6M100.7 369.8h0.6M98.1 378.8h0.6M107.3 368.9h0.6M98.7 375.8h0.6M101.3 364.4h0.6M100.9 371.4h0.6M102.5 381.5h0.6M94.5 379.4h0.6M102.4 374.6h0.6M109.4 376.0h0.6M101.8 374.7h0.6M100.9 366.7h0.6M101.7 369.7h0.6M106.9 377.2h0.6M103.7 376.4h0.6M100.8 374.4h0.6M100.3 376.7h0.6M108.2 376.0h0.6M103.8 369.0h0.6M103.4 371.3h0.6M107.3 371.1h0.6M109.0 380.1h0.6M110.3 374.9h0.6M91.2 377.3h0.6M93.0 375.1h0.6M92.5 378.6h0.6M101.7 374.4h0.6M96.1 375.8h0.6M99.7 374.7h0.6M100.2 375.8h0.6M104.7 380.8h0.6M97.7 374.5h0.6M98.1 377.0h0.6M97.9 374.2h0.6M106.6 375.7h0.6M98.8 373.7h0.6M99.0 382.0h0.6M101.6 376.4h0.6M97.2 372.7h0.6M100.4 377.0h0.6M100.3 375.4h0.6M102.5 374.2h0.6M97.7 379.6h0.6M94.6 375.5h0.6M94.3 372.3h0.6M93.4 381.4h0.6M99.2 381.4h0.6M108.6 378.6h0.6M99.9 375.9h0.6M96.0 381.4h0.6M90.6 371.9h0.6M105.5 367.2h0.6M92.7 373.0h0.6M100.1 372.0h0.6M97.5 372.4h0.6M104.8 372.8h0.6M107.7 375.6h0.6M108.2 377.5h0.6M100.3 377.9h0.6M100.2 371.3h0.6M103.9 374.7h0.6M109.0 380.3h0.6M96.0 369.6h0.6M101.9 382.5h0.6M102.0 379.3h0.6M107.8 370.9h0.6M97.4 370.3h0.6M95.9 371.7h0.6M103.2 375.5h0.6M92.9 376.0h0.6M90.7 370.6h0.6M103.2 373.7h0.6M97.6 367.4h0.6M104.2 374.8h0.6M102.7 371.5h0.6M97.1 380.1h0.6M100.0 381.0h0.6M100.2 372.2h0.6M108.0 374.0h0.6M101.2 372.3h0.6M107.4 376.1h0.6M93.9 377.8h0.6M93.7 378.2h0.6M99.6 373.8h0.6M101.0 374.7h0.6M98.4 373.5h0.6M104.8 372.3h0.6M107.9 376.0h0.6M98.9 368.9h0.6M101.2 373.5h0.6M98.5 371.5h0.6M98.1 378.6h0.6M99.9 376.6h0.6M104.5 376.4h0.6M100.8 375.8h0.6M102.0 377.3h0.6M105.9 380.1h0.6M98.2 377.6h0.6M103.5 374.9h0.6M102.7 376.2h0.6M96.5 379.0h0.6M98.5 376.9h0.6M101.6 373.7h0.6M105.2 375.4h0.6M96.3 378.8h0.6M100.5 373.7h0.6M110.3 374.3h0.6M109.3 368.3h0.6M94.8 370.6h0.6M106.1 370.2h0.6M100.1 371.6h0.6M97.7 375.3h0.6M100.3 368.6h0.6M99.1 371.6h0.6M100.5 377.6h0.6M101.5 372.6h0.6M96.5 372.7h0.6M96.5 378.2h0.6M101.3 375.8h0.6M95.1 380.9h0.6M100.3 374.1h0.6M97.8 374.3h0.6M92.3 373.6h0.6M102.3 374.0h0.6M97.0 374.7h0.6M100.9 371.2h0.6M101.6 374.1h0.6M96.5 371.9h0.6M106.3 376.8h0.6M103.5 373.9h0.6M100.0 379.6h0.6M109.3 381.7h0.6M101.8 376.4h0.6M106.1 376.5h0.6M100.4 372.8h0.6M102.6 376.9h0.6M103.7 373.6h0.6M105.3 376.8h0.6M100.0 376.4h0.6M95.9 374.1h0.6M102.3 369.9h0.6M98.5 373.6h0.6M106.1 375.4h0.6M100.5 374.5h0.6M96.6 378.5h0.6M105.9 374.4h0.6M99.8 379.5h0.6M100.8 370.8h0.6M94.3 378.2h0.6M105.9 369.9h0.6M108.2 377.0h0.6M103.3 377.7h0.6M102.9 376.3h0.6M101.2 370.2h0.6M101.9 375.9h0.6M100.5 374.0h0.6M97.6 374.3h0.6M103.3 369.4h0.6M89.6 379.3h0.6M93.8 371.9h0.6M112.7 374.3h0.6M100.8 370.9h0.6M97.6 376.7h0.6M101.9 377.1h0.6M105.9 375.0h0.6M102.2 365.9h0.6M97.9 371.7h0.6M96.0 370.5h0.6M105.1 374.5h0.6M105.3 369.2h0.6M107.3 375.0h0.6M99.9 371.0h0.6M92.7 377.2h0.6M102.7 373.0h0.6M109.7 368.7h0.6M101.9 373.4h0.6M93.5 375.7h0.6M101.5 375.8h0.6M100.5 372.8h0.6M95.3 377.0h0.6M91.1 370.9h0.6M94.8 381.1h0.6M104.1 375.8h0.6M105.1 376.3h0.6M111.1 372.5h0.6M101.0 374.6h0.6M99.1 372.1h0.6M110.4 376.5h0.6M94.6 372.9h0.6M105.6 380.3h0.6M96.7 378.5h0.6M103.1 373.2h0.6M96.5 379.0h0.6M103.7 382.3h0.6M103.5 375.6h0.6M110.0 371.5h0.6M97.2 376.0h0.6M98.8 377.6h0.6M100.6 371.6h0.6M92.5 375.8h0.6M107.8 372.4h0.6M96.1 377.9h0.6M95.9 380.7h0.6M106.1 374.8h0.6M96.7 380.1h0.6M98.2 376.8h0.6M109.0 376.6h0.6M100.8 371.2h0.6M103.6 375.6h0.6M103.2 376.5h0.6M99.7 378.4h0.6M95.6 380.3h0.6M102.7 373.2h0.6M101.1 372.2h0.6M102.9 374.6h0.6M95.7 372.9h0.6M106.2 372.8h0.6M106.5 376.7h0.6M95.2 370.6h0.6M97.2 374.1h0.6M99.2 374.9h0.6M98.8 376.9h0.6M91.2 368.3h0.6M101.2 381.8h0.6M95.6 379.0h0.6M103.1 369.2h0.6M99.0 372.4h0.6M103.2 379.4h0.6M106.4 381.0h0.6M97.3 376.3h0.6M106.6 374.6h0.6M99.6 377.8h0.6M100.7 374.9h0.6M103.9 370.1h0.6M103.9 374.9h0.6M99.4 369.4h0.6M101.2 375.1h0.6M109.3 369.5h0.6M103.1 375.4h0.6M97.0 371.2h0.6M97.9 371.6h0.6M96.2 374.6h0.6M102.2 374.5h0.6M101.4 373.7h0.6M94.5 378.9h0.6M99.5 368.6h0.6M99.6 378.3h0.6M96.9 374.9h0.6M106.2 377.0h0.6M103.0 374.3h0.6M98.4 378.3h0.6M99.4 377.5h0.6M102.9 381.2h0.6M105.9 372.3h0.6M103.1 369.7h0.6M103.2 381.0h0.6M100.5 373.4h0.6M96.8 379.0h0.6M102.4 373.2h0.6M98.1 375.9h0.6M97.6 377.0h0.6M99.9 371.2h0.6M92.1 376.2h0.6M108.3 373.9h0.6M101.0 372.1h0.6M95.1 379.2h0.6M91.8 380.1h0.6M101.5 372.0h0.6M98.1 377.4h0.6M102.2 372.8h0.6M101.5 381.7h0.6M101.4 378.0h0.6M96.9 369.7h0.6M106.8 373.3h0.6M101.6 374.4h0.6M97.3 375.2h0.6M109.8 378.1h0.6M96.9 374.4h0.6M104.7 372.1h0.6M95.3 375.5h0.6M98.9 379.3h0.6M100.6 376.7h0.6M104.8 373.5h0.6M96.3 374.7h0.6M98.4 377.2h0.6M97.8 371.3h0.6M98.1 381.0h0.6M96.3 372.2h0.6M111.0 378.7h0.6M98.4 376.2h0.6M93.1 373.6h0.6M99.9 374.0h0.6M111.4 375.9h0.6M104.2 372.1h0.6M97.0 377.1h0.6M108.0 372.5h0.6M100.9 378.8h0.6M104.6 373.2h0.6M111.2 369.8h0.6M104.2 374.1h0.6M100.5 376.9h0.6M101.7 374.1h0.6M103.5 371.2h0.6M101.8 376.9h0.6M104.3 369.6h0.6M96.0 373.5h0.6M103.0 373.1h0.6M102.7 375.3h0.6M99.7 369.1h0.6M108.9 379.9h0.6M96.8 376.8h0.6M92.2 373.8h0.6M99.9 376.9h0.6M104.7 366.5h0.6M107.6 370.9h0.6M98.1 372.7h0.6M100.0 371.0h0.6M103.1 375.1h0.6M103.0 377.5h0.6M104.2 369.7h0.6M98.4 373.1h0.6M91.8 371.7h0.6M104.6 378.6h0.6M108.9 374.6h0.6M91.5 379.8h0.6M104.6 376.0h0.6M105.7 380.4h0.6M99.7 371.6h0.6M96.8 372.6h0.6M98.4 373.8h0.6M101.8 367.2h0.6M94.0 372.3h0.6M106.8 378.9h0.6M100.6 366.9h0.6M99.0 381.0h0.6M101.7 377.5h0.6M97.4 377.9h0.6M101.7 376.6h0.6M95.7 375.8h0.6M102.2 378.0h0.6M105.8 380.8h0.6M102.2 376.4h0.6M108.1 377.2h0.6M96.9 379.7h0.6M110.2 372.8h0.6M94.8 376.2h0.6M95.4 369.7h0.6M102.3 382.1h0.6M101.3 371.8h0.6M100.2 373.3h0.6M99.6 374.3h0.6M101.3 377.5h0.6M101.9 374.4h0.6M100.0 377.4h0.6M95.1 374.1h0.6M97.5 370.3h0.6M104.8 377.5h0.6M107.0 378.5h0.6M96.2 368.2h0.6M98.0 375.8h0.6M91.9 378.5h0.6M94.3 375.5h0.6M91.0 371.3h0.6M98.4 377.1h0.6M97.0 372.4h0.6M107.9 376.4h0.6" stroke="#000" stroke-width="0.6" opacity="0.8" fill="none"/>
<path d="M113.6 364.2h0.55M111.5 371.6h0.55M97.6 373.7h0.55M102.7 379.3h0.55M103.1 365.0h0.55M102.6 378.0h0.55M93.5 372.9h0.55M102.9 369.6h0.55M94.5 367.0h0.55M104.8 367.4h0.55M113.5 362.0h0.55M111.3 373.3h0.55M102.3 377.7h0.55M109.5 377.3h0.55M101.3 373.2h0.55M117.3 380.9h0.55M96.6 376.0h0.55M90.8 382.9h0.55M91.0 371.9h0.55M100.4 369.9h0.55M92.2 372.1h0.55M97.3 374.3h0.55M108.2 373.4h0.55M101.3 370.0h0.55M95.8 375.3h0.55M104.0 366.9h0.55M98.6 364.0h0.55M103.2 375.0h0.55M109.1 375.6h0.55M103.5 373.0h0.55M104.4 382.1h0.55M106.5 368.9h0.55M93.6 366.9h0.55M101.0 370.6h0.55M105.2 369.0h0.55M95.7 378.2h0.55M103.8 370.7h0.55M105.4 372.0h0.55M96.9 368.7h0.55M104.6 368.1h0.55M95.5 374.3h0.55M97.0 376.5h0.55M102.3 372.3h0.55M94.5 372.1h0.55M94.0 372.7h0.55M97.8 379.9h0.55M110.2 364.2h0.55M100.0 374.8h0.55M108.5 381.0h0.55M93.8 368.8h0.55M108.1 376.4h0.55M94.5 373.1h0.55M105.6 369.6h0.55M109.4 381.5h0.55M90.4 380.0h0.55M90.3 364.1h0.55M92.9 377.0h0.55M102.5 371.7h0.55M112.5 379.2h0.55M107.9 372.8h0.55M91.3 374.6h0.55M94.9 369.4h0.55M111.3 376.8h0.55M93.5 374.4h0.55M92.3 370.3h0.55M102.2 378.5h0.55M95.2 370.9h0.55M94.4 376.2h0.55M93.3 366.1h0.55M107.5 366.4h0.55M106.1 373.3h0.55M114.6 369.2h0.55M104.3 370.8h0.55M106.8 372.2h0.55M117.5 379.9h0.55M116.5 365.9h0.55M95.9 373.4h0.55M98.1 373.0h0.55M110.3 380.2h0.55M103.5 373.7h0.55M102.0 373.4h0.55M97.8 382.4h0.55M104.5 371.8h0.55M105.5 366.9h0.55M93.3 372.9h0.55M100.7 370.3h0.55M127.0 374.6h0.55M99.4 377.9h0.55M102.8 371.3h0.55M92.9 367.8h0.55M110.2 370.9h0.55M99.9 375.8h0.55M92.8 378.1h0.55M108.9 378.7h0.55M96.5 370.0h0.55M116.0 376.7h0.55M109.8 377.1h0.55M104.0 371.3h0.55M91.5 369.6h0.55M115.5 372.6h0.55M103.0 380.8h0.55M115.4 372.5h0.55M90.4 371.2h0.55M118.9 376.1h0.55M95.5 378.2h0.55M96.2 371.8h0.55M112.7 378.8h0.55M113.2 373.6h0.55M95.1 366.4h0.55M99.9 366.8h0.55M109.6 364.1h0.55M94.3 374.8h0.55M103.8 375.2h0.55M113.2 377.1h0.55M109.0 365.9h0.55M93.4 378.3h0.55M104.0 375.0h0.55M101.4 376.9h0.55M100.1 371.7h0.55M106.9 378.2h0.55M99.9 378.8h0.55M99.3 382.6h0.55M108.6 369.8h0.55M99.8 378.4h0.55M97.1 378.5h0.55M127.7 378.5h0.55M91.3 372.1h0.55M105.7 382.7h0.55M96.8 374.3h0.55M100.8 377.6h0.55M99.6 376.2h0.55M111.0 373.9h0.55M100.5 377.4h0.55M95.6 379.1h0.55M100.9 364.0h0.55M109.9 372.1h0.55M114.4 367.3h0.55M102.5 375.1h0.55M91.8 373.9h0.55M90.3 364.6h0.55M102.6 371.4h0.55M102.4 376.8h0.55M104.6 367.9h0.55M98.3 371.8h0.55M109.2 376.2h0.55M102.2 378.4h0.55M105.7 376.0h0.55M110.2 377.7h0.55M114.6 374.7h0.55M93.9 380.2h0.55M106.2 378.7h0.55M115.5 365.6h0.55M105.0 382.0h0.55M100.6 378.5h0.55M118.8 375.5h0.55M107.4 366.5h0.55M92.9 377.1h0.55M103.0 371.5h0.55M91.4 374.2h0.55M99.9 369.1h0.55M96.7 376.6h0.55M106.7 377.3h0.55M123.2 376.0h0.55M107.7 367.9h0.55M108.7 374.7h0.55M94.0 376.5h0.55M106.2 373.1h0.55M105.6 370.7h0.55M93.6 380.4h0.55M112.6 375.9h0.55M94.0 380.4h0.55M108.7 380.0h0.55M93.7 369.2h0.55M94.1 361.0h0.55M101.6 359.2h0.55M101.9 374.0h0.55M95.6 376.2h0.55M96.7 375.0h0.55M107.1 380.9h0.55M113.1 373.5h0.55M100.7 374.7h0.55M109.0 371.7h0.55M107.7 374.6h0.55M99.8 374.8h0.55M106.3 373.5h0.55M107.4 364.1h0.55M116.0 365.0h0.55M99.0 363.0h0.55M93.6 375.6h0.55M108.9 374.8h0.55M99.8 376.5h0.55M111.2 367.3h0.55M100.2 371.3h0.55M92.9 369.0h0.55M125.8 377.0h0.55M112.2 373.5h0.55M98.0 377.4h0.55M99.3 381.6h0.55M89.7 366.2h0.55M100.7 371.3h0.55M103.3 371.4h0.55M106.0 368.2h0.55M91.4 378.6h0.55M92.1 371.6h0.55M103.6 373.9h0.55M95.5 373.0h0.55M101.1 378.6h0.55M103.5 377.9h0.55M108.6 370.1h0.55M95.2 371.7h0.55M101.3 378.3h0.55M91.6 373.4h0.55M110.7 376.9h0.55M102.1 372.3h0.55M107.2 371.2h0.55M110.8 369.0h0.55M94.6 372.8h0.55M101.0 371.1h0.55M98.3 370.0h0.55M111.6 378.0h0.55M96.4 373.4h0.55M104.8 373.2h0.55M107.6 380.4h0.55M107.1 367.2h0.55M109.9 371.0h0.55M98.9 372.4h0.55M95.9 375.1h0.55M96.6 380.1h0.55M98.9 376.7h0.55M101.4 374.6h0.55M102.2 368.7h0.55M101.9 372.0h0.55M97.5 370.9h0.55M98.0 378.2h0.55M90.7 370.4h0.55M96.5 373.5h0.55M110.0 370.4h0.55M119.1 373.2h0.55M108.6 369.7h0.55M95.4 374.7h0.55M96.2 380.7h0.55M103.3 378.5h0.55M114.5 377.1h0.55M96.4 374.4h0.55M96.6 374.5h0.55M95.8 382.9h0.55M113.2 370.6h0.55M102.1 376.9h0.55M99.6 372.8h0.55M93.5 368.1h0.55M92.2 368.7h0.55M97.0 359.4h0.55M100.2 374.3h0.55M111.8 368.3h0.55M108.5 379.6h0.55M110.1 364.0h0.55M100.0 377.2h0.55M91.9 369.6h0.55M103.2 374.1h0.55M90.7 366.3h0.55M108.0 373.8h0.55M112.9 378.5h0.55M108.0 379.3h0.55M112.3 374.7h0.55M110.8 375.7h0.55M104.1 367.6h0.55M93.4 374.6h0.55M94.0 370.3h0.55M95.9 377.0h0.55M99.1 368.0h0.55M92.3 375.4h0.55M98.1 377.8h0.55M94.4 376.0h0.55M102.4 383.0h0.55M102.7 380.9h0.55M100.9 361.5h0.55M92.9 375.6h0.55M98.7 369.1h0.55M102.9 368.2h0.55M96.4 371.1h0.55M92.1 368.0h0.55M100.2 378.3h0.55M102.3 364.4h0.55M93.9 382.1h0.55M92.5 381.8h0.55M100.4 372.5h0.55M99.5 373.4h0.55M110.5 375.0h0.55M102.8 378.0h0.55M98.8 372.3h0.55M104.6 382.8h0.55M93.0 374.8h0.55M99.6 368.1h0.55M110.4 382.6h0.55M92.9 373.0h0.55M92.1 361.3h0.55M102.7 371.2h0.55M97.2 362.3h0.55M105.2 378.0h0.55M111.1 382.8h0.55M96.0 373.3h0.55M101.9 379.7h0.55M113.7 364.8h0.55M93.2 373.1h0.55M95.6 377.4h0.55M108.9 372.8h0.55M99.9 373.9h0.55M91.2 368.5h0.55M94.7 367.7h0.55M97.1 377.4h0.55M112.9 372.1h0.55M95.6 378.0h0.55M105.7 363.3h0.55M105.8 376.1h0.55M91.6 379.1h0.55M99.8 373.1h0.55M95.4 367.7h0.55M93.0 379.2h0.55M104.9 371.3h0.55M97.6 369.3h0.55M118.7 361.5h0.55M101.8 363.2h0.55M101.2 366.9h0.55M99.2 373.5h0.55" stroke="#000" stroke-width="0.55" opacity="0.6" fill="none"/>
<path d="M100.8 356.8h0.5M109.9 366.4h0.5M104.1 359.0h0.5M94.9 372.4h0.5M103.7 372.7h0.5M101.7 357.1h0.5M110.0 364.3h0.5M102.6 369.0h0.5M105.4 367.4h0.5M96.7 364.2h0.5M95.9 370.4h0.5M99.6 378.4h0.5M107.3 369.6h0.5M93.2 371.0h0.5M91.5 359.8h0.5M106.6 354.3h0.5M98.0 364.7h0.5M94.8 376.6h0.5M101.8 366.5h0.5M109.9 370.8h0.5M111.3 361.5h0.5M95.5 371.5h0.5M95.2 357.5h0.5M98.1 363.3h0.5M109.8 370.7h0.5M98.6 367.3h0.5M96.3 379.5h0.5M94.8 367.7h0.5M104.0 356.3h0.5M93.3 361.8h0.5M108.0 368.0h0.5M114.2 371.2h0.5M98.3 377.7h0.5M97.3 369.1h0.5M107.9 359.5h0.5M100.4 375.1h0.5M99.8 372.9h0.5M98.8 372.8h0.5M95.6 370.5h0.5M98.4 371.1h0.5M91.5 369.5h0.5M107.1 364.3h0.5M98.1 378.4h0.5M92.2 379.2h0.5M97.4 372.3h0.5M90.3 375.7h0.5M96.8 363.9h0.5M117.1 370.7h0.5M100.3 372.6h0.5M100.9 370.9h0.5M122.1 375.7h0.5M101.6 375.4h0.5M105.3 373.1h0.5M107.1 377.1h0.5M119.2 366.4h0.5M98.8 378.4h0.5M106.0 373.0h0.5M108.3 373.0h0.5M109.7 367.7h0.5M105.3 368.1h0.5M99.6 372.4h0.5M106.1 363.9h0.5M99.3 353.3h0.5M115.9 376.7h0.5M111.1 369.2h0.5M104.3 375.1h0.5M115.6 374.3h0.5M101.9 374.9h0.5M117.8 358.8h0.5M92.1 373.8h0.5M105.4 372.4h0.5M99.7 377.7h0.5M104.5 377.3h0.5M109.1 351.2h0.5M99.9 357.6h0.5M105.4 374.1h0.5M99.8 376.8h0.5M103.4 364.3h0.5M109.8 370.8h0.5M93.1 370.9h0.5M115.7 366.2h0.5M99.1 365.8h0.5M95.0 360.3h0.5M98.0 376.3h0.5M97.9 370.6h0.5M110.4 372.9h0.5M106.6 357.8h0.5M93.7 359.5h0.5M107.8 365.6h0.5M96.5 376.5h0.5M95.0 363.4h0.5M104.2 361.5h0.5M116.8 368.0h0.5M102.1 355.5h0.5M92.2 373.7h0.5M99.6 372.5h0.5M103.6 375.5h0.5M111.6 378.6h0.5M96.1 382.4h0.5M91.5 366.2h0.5M107.5 370.4h0.5M109.1 364.3h0.5M98.0 370.2h0.5M105.4 354.5h0.5M99.0 367.1h0.5M106.8 360.2h0.5M105.8 361.3h0.5M94.1 372.2h0.5M120.8 366.0h0.5M103.2 367.5h0.5M103.6 379.0h0.5M97.1 371.2h0.5M103.8 375.6h0.5M101.7 374.9h0.5M92.1 375.2h0.5M96.2 363.9h0.5M113.0 364.2h0.5M100.8 373.7h0.5M90.2 374.5h0.5M114.8 359.9h0.5M104.3 371.1h0.5M102.5 366.4h0.5M102.4 366.3h0.5M96.4 369.7h0.5M99.7 361.9h0.5M92.7 360.9h0.5M101.8 373.2h0.5M102.7 368.5h0.5M100.7 366.5h0.5M98.0 382.2h0.5M108.0 369.1h0.5M115.6 365.4h0.5M97.1 366.0h0.5M120.0 359.9h0.5M93.9 370.9h0.5M89.9 365.8h0.5M106.9 376.5h0.5M106.1 362.3h0.5M108.9 373.7h0.5M97.1 378.1h0.5M92.3 368.1h0.5M102.8 359.9h0.5M104.7 371.6h0.5M91.3 359.3h0.5M103.8 369.5h0.5M94.6 377.8h0.5M107.5 376.0h0.5M107.1 364.4h0.5M99.5 381.5h0.5M105.7 358.9h0.5M96.0 379.2h0.5M111.1 367.6h0.5M97.6 361.0h0.5M100.3 366.4h0.5M99.3 375.2h0.5M104.2 375.5h0.5M112.2 360.6h0.5M119.6 360.6h0.5M115.2 366.4h0.5M99.1 366.4h0.5M95.0 364.8h0.5M99.0 367.9h0.5M95.8 371.0h0.5M110.2 370.3h0.5M97.2 367.9h0.5M109.4 370.1h0.5M93.3 381.6h0.5M92.0 362.7h0.5M101.8 366.0h0.5M110.9 366.6h0.5M106.3 372.7h0.5M89.9 366.1h0.5M101.7 365.3h0.5M94.1 371.2h0.5M118.3 374.0h0.5M103.3 359.9h0.5M100.7 368.7h0.5M99.0 360.5h0.5M101.8 372.2h0.5M105.9 370.8h0.5M98.5 358.7h0.5M110.2 367.9h0.5M108.8 362.9h0.5M107.1 368.6h0.5M103.1 366.4h0.5M106.9 366.4h0.5M98.2 370.4h0.5M106.1 376.2h0.5M102.4 364.0h0.5M103.8 371.3h0.5M102.3 372.9h0.5M110.2 371.4h0.5M104.8 367.7h0.5M98.8 379.2h0.5M101.3 375.5h0.5M97.4 369.9h0.5M96.5 367.7h0.5M96.7 373.3h0.5M100.7 359.1h0.5M114.9 361.5h0.5M96.7 369.9h0.5M109.7 362.9h0.5M89.7 371.0h0.5M96.7 364.6h0.5M107.5 372.8h0.5M119.3 369.8h0.5M121.6 368.8h0.5M101.8 355.9h0.5M98.4 373.1h0.5M114.1 368.6h0.5M106.2 378.0h0.5M116.5 361.1h0.5M105.3 364.1h0.5M98.6 373.1h0.5M90.2 367.9h0.5M112.2 362.4h0.5M109.7 363.6h0.5M95.3 379.4h0.5M107.5 367.7h0.5M110.2 370.6h0.5M95.6 366.9h0.5M98.1 381.5h0.5M97.7 376.1h0.5M93.8 374.1h0.5M109.9 351.9h0.5M116.0 371.1h0.5M111.4 369.1h0.5M105.7 373.9h0.5M101.9 381.4h0.5M116.5 373.5h0.5M107.1 373.1h0.5M104.6 377.5h0.5M99.6 363.2h0.5M107.2 382.7h0.5M109.2 378.1h0.5M104.7 365.5h0.5M97.5 372.1h0.5M100.6 366.7h0.5M109.7 359.0h0.5M105.1 355.0h0.5M95.1 357.4h0.5M100.5 364.1h0.5M101.5 368.9h0.5M95.3 367.3h0.5M118.4 366.8h0.5M102.3 369.4h0.5M108.1 370.3h0.5M102.5 367.8h0.5M112.7 361.7h0.5M94.3 374.6h0.5M102.7 363.4h0.5M110.1 370.1h0.5M119.2 369.0h0.5M113.5 358.2h0.5M115.0 366.8h0.5M107.0 379.8h0.5M108.1 361.3h0.5M101.7 362.1h0.5M107.0 358.1h0.5M90.0 376.4h0.5M95.0 377.5h0.5M115.4 374.7h0.5M96.0 372.8h0.5M109.4 372.0h0.5M108.3 364.9h0.5M95.3 378.9h0.5M115.3 373.3h0.5M94.1 367.5h0.5M102.9 376.0h0.5M111.1 362.1h0.5M104.7 374.5h0.5M105.5 366.3h0.5M95.3 369.9h0.5M128.2 375.0h0.5M99.2 373.2h0.5M107.4 369.9h0.5M110.3 365.0h0.5M111.6 367.7h0.5M104.5 379.1h0.5M103.0 363.1h0.5M94.5 369.9h0.5M96.7 377.1h0.5M97.7 360.8h0.5M107.9 369.1h0.5M101.9 368.6h0.5M104.7 367.9h0.5M108.0 377.4h0.5M101.4 370.2h0.5M97.9 366.1h0.5M100.4 371.6h0.5M95.0 372.1h0.5M94.4 369.9h0.5M112.9 361.3h0.5M105.9 378.8h0.5M110.6 362.0h0.5M102.6 371.8h0.5M111.0 376.3h0.5M99.5 353.2h0.5M110.3 382.8h0.5M102.7 359.7h0.5M97.6 365.6h0.5M103.3 379.7h0.5M97.6 361.8h0.5M111.8 372.8h0.5M111.3 373.7h0.5M104.4 369.4h0.5M92.7 368.1h0.5" stroke="#000" stroke-width="0.5" opacity="0.4" fill="none"/>
<path d="M124.6 354.2h.5M124.3 350.4h.5M111.1 377.4h.5M114.6 370.5h.5M129.5 351.1h.5M122.9 365.2h.5M124.1 355.2h.5M131.7 353.5h.5M136.4 346.6h.5M119.8 364.9h.5M113.1 366.0h.5M138.0 344.2h.5M126.5 357.1h.5M131.0 348.9h.5M137.9 345.1h.5M118.3 369.8h.5M129.0 350.6h.5M131.2 348.1h.5M133.9 345.9h.5M136.7 342.1h.5M116.3 369.4h.5M115.9 365.5h.5M132.3 346.8h.5M124.0 357.8h.5M119.1 359.7h.5M131.9 345.8h.5M117.8 364.8h.5M135.5 345.1h.5M129.5 350.2h.5M132.3 346.7h.5M114.5 374.3h.5M125.0 357.1h.5M112.5 374.0h.5M120.9 369.9h.5M114.7 369.2h.5M116.3 360.8h.5M122.4 360.5h.5M121.6 367.0h.5M131.2 347.7h.5M131.9 353.2h.5M119.3 368.1h.5M117.3 368.2h.5M132.2 343.9h.5M127.7 358.3h.5M119.3 356.9h.5M119.2 366.3h.5M125.5 355.9h.5M126.6 359.4h.5M125.3 356.5h.5M124.9 363.9h.5M134.5 348.3h.5M118.4 363.3h.5M118.3 360.3h.5M137.8 343.6h.5M140.4 347.6h.5M130.6 351.2h.5M142.3 343.1h.5M129.6 351.1h.5M118.3 363.5h.5M124.6 364.7h.5M137.0 354.2h.5M116.5 368.0h.5M132.0 351.1h.5M127.7 354.3h.5M111.3 370.5h.5M126.6 358.8h.5M120.2 362.9h.5M133.3 342.1h.5M123.4 362.1h.5M118.3 360.1h.5M127.0 356.4h.5M114.3 371.8h.5M135.2 349.9h.5M120.7 358.6h.5M117.6 373.2h.5M125.6 355.6h.5M132.8 348.5h.5M125.5 354.3h.5M113.4 371.7h.5M129.6 348.7h.5M124.1 360.8h.5M118.6 364.8h.5M127.8 354.7h.5M126.1 352.4h.5M129.3 362.1h.5M125.8 351.4h.5M114.5 371.5h.5M136.5 347.1h.5M135.1 342.0h.5M120.8 367.7h.5M119.9 361.4h.5M127.3 347.3h.5M131.6 347.7h.5M113.7 372.2h.5M123.0 359.0h.5M121.9 367.6h.5M126.6 352.9h.5M114.1 370.1h.5M126.6 358.4h.5M129.6 348.7h.5M123.4 355.4h.5M114.6 365.8h.5M131.6 352.5h.5M123.4 363.7h.5M129.5 349.6h.5M134.1 353.2h.5M118.2 369.5h.5M124.9 362.4h.5M135.1 348.1h.5M128.2 350.7h.5M136.7 343.4h.5M120.3 364.3h.5M124.0 359.3h.5M133.3 347.5h.5M134.8 346.9h.5M115.0 370.4h.5M117.4 370.8h.5M122.9 362.2h.5M131.6 346.6h.5M136.3 341.3h.5M124.0 359.5h.5M133.8 344.8h.5M136.2 343.9h.5M130.4 354.5h.5M131.6 349.6h.5M130.6 355.8h.5M125.1 359.6h.5M132.4 351.5h.5M117.8 371.9h.5M117.6 366.5h.5M129.1 352.7h.5M118.6 363.3h.5M134.5 346.3h.5M132.7 348.9h.5M135.8 348.5h.5M139.8 347.2h.5M132.0 345.5h.5M116.6 369.6h.5M131.8 346.5h.5M126.1 354.1h.5M116.4 370.6h.5M128.0 348.9h.5M119.8 363.5h.5M129.5 360.3h.5M123.3 355.2h.5M137.2 343.4h.5M129.8 347.7h.5M115.9 371.2h.5M128.4 352.6h.5M115.5 371.1h.5M119.5 378.1h.5M131.5 351.5h.5M133.2 342.2h.5M110.8 372.2h.5M112.3 373.3h.5M142.6 346.0h.5M133.5 346.2h.5M127.0 351.6h.5M111.9 368.1h.5M118.2 367.0h.5M119.7 367.6h.5M123.9 350.6h.5M117.8 356.5h.5M120.6 366.6h.5M122.6 365.2h.5M116.5 370.5h.5M133.2 341.8h.5M130.2 353.5h.5M114.8 365.4h.5M133.2 351.0h.5M135.6 340.7h.5M116.2 370.5h.5M130.6 346.8h.5M128.8 348.5h.5M133.3 341.4h.5M123.1 354.9h.5M128.9 357.2h.5M120.3 361.3h.5M119.7 363.5h.5M123.2 361.3h.5M113.0 369.9h.5M121.9 357.7h.5M124.1 366.1h.5M135.4 346.7h.5M126.1 364.9h.5M133.6 349.1h.5M131.0 348.6h.5M123.0 365.6h.5M135.0 345.2h.5M131.6 354.2h.5M124.8 359.5h.5M135.2 352.3h.5M123.9 353.3h.5M135.0 343.3h.5M125.7 355.7h.5M135.6 342.9h.5M116.7 368.7h.5M116.5 364.7h.5M117.0 365.1h.5M138.4 343.0h.5M129.9 355.9h.5M126.7 351.9h.5M116.2 374.3h.5M115.9 371.1h.5M133.1 344.9h.5M126.6 359.3h.5M116.6 370.9h.5M136.1 346.3h.5M116.8 371.2h.5M122.8 358.1h.5M121.1 361.0h.5M129.9 347.6h.5M122.3 364.8h.5M128.2 353.3h.5M118.2 367.2h.5M127.0 352.1h.5M119.1 368.7h.5M129.5 351.8h.5M129.5 351.4h.5M120.5 369.6h.5M125.6 357.7h.5M119.7 366.3h.5M133.3 344.6h.5M134.0 344.5h.5M115.1 373.3h.5M127.5 353.5h.5M123.9 367.0h.5M131.0 350.3h.5M136.9 347.6h.5M114.5 367.4h.5M134.4 346.6h.5M120.3 360.1h.5M127.9 351.1h.5M126.1 368.5h.5M112.2 370.1h.5M112.0 369.6h.5M120.9 368.5h.5M127.5 352.5h.5M135.7 346.9h.5M116.0 365.2h.5" stroke="#000" stroke-width=".5" opacity="0.2" fill="none"/>
</g>
<text x="27.40" y="352.40" font-size="9.9" textLength="11.20" lengthAdjust="spacingAndGlyphs">84</text>
<text x="94.60" y="355.40" font-size="10.2" textLength="10.40" lengthAdjust="spacingAndGlyphs">87</text>
<line x1="16.50" y1="391.90" x2="16.50" y2="362.20" stroke="#000" stroke-width="1.2"/>
<line x1="15.90" y1="391.30" x2="46.90" y2="391.30" stroke="#000" stroke-width="1.2"/>
<path d="M16.50 359.20l-2.4 4.6h4.8z"/>
<path d="M49.90 391.30l-4.6 -2.4v4.8z"/>
<text x="16.70" y="353.40" font-size="9.0" transform="rotate(-90 16.70 353.40)">PI</text>
<text x="55.40" y="395.50" font-size="9.9" textLength="46.00" lengthAdjust="spacingAndGlyphs">Annexin-V</text>
<text x="172.20" y="296.80" font-size="10.9" font-weight="bold">I</text>
<rect x="200.00" y="318.00" width="3.30" height="81.00" fill="#000"/>
<line x1="199.30" y1="389.71" x2="201.00" y2="389.71" stroke="#000" stroke-width="0.6"/>
<line x1="199.30" y1="385.10" x2="201.00" y2="385.10" stroke="#000" stroke-width="0.6"/>
<line x1="199.30" y1="381.83" x2="201.00" y2="381.83" stroke="#000" stroke-width="0.6"/>
<line x1="199.30" y1="379.29" x2="201.00" y2="379.29" stroke="#000" stroke-width="0.6"/>
<line x1="199.30" y1="377.21" x2="201.00" y2="377.21" stroke="#000" stroke-width="0.6"/>
<line x1="199.30" y1="375.46" x2="201.00" y2="375.46" stroke="#000" stroke-width="0.6"/>
<line x1="199.30" y1="373.94" x2="201.00" y2="373.94" stroke="#000" stroke-width="0.6"/>
<line x1="199.30" y1="372.60" x2="201.00" y2="372.60" stroke="#000" stroke-width="0.6"/>
<line x1="199.30" y1="363.51" x2="201.00" y2="363.51" stroke="#000" stroke-width="0.6"/>
<line x1="199.30" y1="358.90" x2="201.00" y2="358.90" stroke="#000" stroke-width="0.6"/>
<line x1="199.30" y1="355.63" x2="201.00" y2="355.63" stroke="#000" stroke-width="0.6"/>
<line x1="199.30" y1="353.09" x2="201.00" y2="353.09" stroke="#000" stroke-width="0.6"/>
<line x1="199.30" y1="351.01" x2="201.00" y2="351.01" stroke="#000" stroke-width="0.6"/>
<line x1="199.30" y1="349.26" x2="201.00" y2="349.26" stroke="#000" stroke-width="0.6"/>
<line x1="199.30" y1="347.74" x2="201.00" y2="347.74" stroke="#000" stroke-width="0.6"/>
<line x1="199.30" y1="346.40" x2="201.00" y2="346.40" stroke="#000" stroke-width="0.6"/>
<line x1="199.30" y1="337.31" x2="201.00" y2="337.31" stroke="#000" stroke-width="0.6"/>
<line x1="199.30" y1="332.70" x2="201.00" y2="332.70" stroke="#000" stroke-width="0.6"/>
<line x1="199.30" y1="329.43" x2="201.00" y2="329.43" stroke="#000" stroke-width="0.6"/>
<line x1="199.30" y1="326.89" x2="201.00" y2="326.89" stroke="#000" stroke-width="0.6"/>
<line x1="199.30" y1="324.81" x2="201.00" y2="324.81" stroke="#000" stroke-width="0.6"/>
<line x1="199.30" y1="323.06" x2="201.00" y2="323.06" stroke="#000" stroke-width="0.6"/>
<line x1="199.30" y1="321.54" x2="201.00" y2="321.54" stroke="#000" stroke-width="0.6"/>
<line x1="199.30" y1="320.20" x2="201.00" y2="320.20" stroke="#000" stroke-width="0.6"/>
<line x1="197.40" y1="319.00" x2="201.00" y2="319.00" stroke="#000" stroke-width="1.5"/>
<text x="197.70" y="321.90" font-size="8.2" text-anchor="end" font-weight="bold" textLength="14.80" lengthAdjust="spacingAndGlyphs">1000</text>
<line x1="197.40" y1="345.20" x2="201.00" y2="345.20" stroke="#000" stroke-width="1.5"/>
<text x="197.70" y="348.10" font-size="8.2" text-anchor="end" font-weight="bold" textLength="11.10" lengthAdjust="spacingAndGlyphs">100</text>
<line x1="197.40" y1="371.40" x2="201.00" y2="371.40" stroke="#000" stroke-width="1.5"/>
<text x="197.70" y="374.30" font-size="8.2" text-anchor="end" font-weight="bold" textLength="7.40" lengthAdjust="spacingAndGlyphs">10</text>
<line x1="197.40" y1="397.60" x2="201.00" y2="397.60" stroke="#000" stroke-width="1.5"/>
<text x="197.70" y="400.50" font-size="8.2" text-anchor="end" font-weight="bold" textLength="3.70" lengthAdjust="spacingAndGlyphs">1</text>
<rect x="200.00" y="396.00" width="101.80" height="3.10" fill="#000"/>
<line x1="200.80" y1="397.60" x2="200.80" y2="401.20" stroke="#000" stroke-width="1.4"/>
<text x="200.80" y="406.60" font-size="7.2" text-anchor="middle">0</text>
<line x1="225.85" y1="397.60" x2="225.85" y2="401.20" stroke="#000" stroke-width="1.4"/>
<text x="225.85" y="406.60" font-size="7.2" text-anchor="middle">20</text>
<line x1="250.90" y1="397.60" x2="250.90" y2="401.20" stroke="#000" stroke-width="1.4"/>
<text x="250.90" y="406.60" font-size="7.2" text-anchor="middle">40</text>
<line x1="275.95" y1="397.60" x2="275.95" y2="401.20" stroke="#000" stroke-width="1.4"/>
<text x="275.95" y="406.60" font-size="7.2" text-anchor="middle">60</text>
<line x1="301.00" y1="397.60" x2="301.00" y2="401.20" stroke="#000" stroke-width="1.4"/>
<text x="301.00" y="406.60" font-size="7.2" text-anchor="middle">80</text>
<text x="251.80" y="418.20" font-size="9.0" text-anchor="middle" textLength="23.60" lengthAdjust="spacingAndGlyphs">Hours</text>
<text xml:space="preserve" font-size="10.4" transform="translate(179.72 400.50) scale(1.0 1) rotate(-90)" textLength="93.50" lengthAdjust="spacingAndGlyphs">Cell number (x10<tspan font-size="9.4" dy="-2.8">4</tspan><tspan dy="2.8">)</tspan></text>
<text x="206.20" y="328.60" font-size="10.8" textLength="65.00" lengthAdjust="spacingAndGlyphs">p210 BCR-Abl</text>
<polyline points="200.80,373.20 230.86,362.00 260.92,345.50 290.98,332.80" fill="none" stroke="#7c7c7c" stroke-width="1.0" stroke-linejoin="round"/>
<polyline points="200.80,373.20 230.86,369.00 260.92,363.60 290.98,356.00" fill="none" stroke="#7c7c7c" stroke-width="1.5" stroke-linejoin="round"/>
<polyline points="200.80,370.60 230.86,359.60 260.92,348.90 290.98,336.60" fill="none" stroke="#000" stroke-width="1.5" stroke-linejoin="round"/>
<polyline points="200.80,370.60 230.86,368.40 260.92,370.00 290.98,368.40" fill="none" stroke="#000" stroke-width="1.5" stroke-linejoin="round"/>
<line x1="230.86" y1="356.80" x2="230.86" y2="362.40" stroke="#000" stroke-width="0.9"/>
<line x1="229.16" y1="356.80" x2="232.56" y2="356.80" stroke="#000" stroke-width="0.9"/>
<line x1="229.16" y1="362.40" x2="232.56" y2="362.40" stroke="#000" stroke-width="0.9"/>
<line x1="230.86" y1="359.00" x2="230.86" y2="365.20" stroke="#7c7c7c" stroke-width="0.8"/>
<line x1="229.16" y1="359.00" x2="232.56" y2="359.00" stroke="#7c7c7c" stroke-width="0.8"/>
<line x1="229.16" y1="365.20" x2="232.56" y2="365.20" stroke="#7c7c7c" stroke-width="0.8"/>
<line x1="230.86" y1="366.20" x2="230.86" y2="372.00" stroke="#7c7c7c" stroke-width="0.8"/>
<line x1="229.16" y1="366.20" x2="232.56" y2="366.20" stroke="#7c7c7c" stroke-width="0.8"/>
<line x1="229.16" y1="372.00" x2="232.56" y2="372.00" stroke="#7c7c7c" stroke-width="0.8"/>
<line x1="260.92" y1="360.50" x2="260.92" y2="366.40" stroke="#7c7c7c" stroke-width="0.8"/>
<line x1="259.22" y1="360.50" x2="262.62" y2="360.50" stroke="#7c7c7c" stroke-width="0.8"/>
<line x1="259.22" y1="366.40" x2="262.62" y2="366.40" stroke="#7c7c7c" stroke-width="0.8"/>
<circle cx="230.86" cy="359.60" r="1.2"/>
<circle cx="260.92" cy="348.90" r="1.2"/>
<circle cx="290.98" cy="336.60" r="1.2"/>
<rect x="229.56" y="367.10" width="2.60" height="2.60" fill="#000"/>
<rect x="259.62" y="368.70" width="2.60" height="2.60" fill="#000"/>
<rect x="289.68" y="367.10" width="2.60" height="2.60" fill="#000"/>
<rect x="289.38" y="366.20" width="3.20" height="4.40" fill="#000"/>
<path d="M229.26 363.20L232.46 363.20L230.86 360.30Z" fill="#333"/>
<path d="M259.32 346.70L262.52 346.70L260.92 343.80Z" fill="#333"/>
<path d="M289.38 334.00L292.58 334.00L290.98 331.10Z" fill="#333"/>
<path d="M229.26 367.80L232.46 367.80L230.86 370.70Z" fill="#333"/>
<path d="M259.32 362.40L262.52 362.40L260.92 365.30Z" fill="#333"/>
<path d="M289.38 354.80L292.58 354.80L290.98 357.70Z" fill="#333"/>
<line x1="296.80" y1="308.00" x2="303.80" y2="308.00" stroke="#000" stroke-width="1.2"/>
<circle cx="300.1" cy="308.0" r="1.4"/>
<line x1="296.80" y1="318.70" x2="303.80" y2="318.70" stroke="#000" stroke-width="1.4"/>
<rect x="298.70" y="317.30" width="2.80" height="2.80" fill="#000"/>
<line x1="297.80" y1="329.30" x2="302.80" y2="329.30" stroke="#7c7c7c" stroke-width="0.7"/>
<path d="M298.7 330.50L301.5 330.50L300.1 327.80Z" fill="#333"/>
<line x1="296.80" y1="340.30" x2="303.80" y2="340.30" stroke="#7c7c7c" stroke-width="0.9"/>
<path d="M298.5 339.10L301.7 339.10L300.1 342.00Z" fill="#333"/>
<text x="307.90" y="310.70" font-size="8.6" textLength="11.20" lengthAdjust="spacingAndGlyphs">WT</text>
<text x="307.90" y="321.40" font-size="8.6" textLength="35.50" lengthAdjust="spacingAndGlyphs">WT+pp242</text>
<text x="307.90" y="331.90" font-size="8.6" textLength="9.60" lengthAdjust="spacingAndGlyphs">KO</text>
<text x="307.90" y="343.00" font-size="8.6" textLength="33.80" lengthAdjust="spacingAndGlyphs">KO+pp242</text>
<text x="365.80" y="299.00" font-size="10.8" font-weight="bold">J</text>
<text x="411.80" y="290.40" font-size="9.8" textLength="16.60" lengthAdjust="spacingAndGlyphs">WT</text>
<text x="479.60" y="290.40" font-size="9.8" textLength="15.40" lengthAdjust="spacingAndGlyphs">KO</text>
<rect x="389.60" y="294.60" width="58.00" height="62.60" fill="#fff" stroke="#a9a9a9" stroke-width="0.8"/>
<clipPath id="cJ1"><rect x="390.00" y="295.00" width="57.20" height="61.80"/></clipPath>
<g clip-path="url(#cJ1)" filter="url(#soft)">
<ellipse cx="396.20" cy="348.80" rx="11.78" ry="9.61" fill="url(#g1)" opacity="1.0"/>
<path d="M400.2 351.4h0.6M404.5 347.0h0.6M400.2 348.4h0.6M400.1 344.8h0.6M396.7 350.7h0.6M393.8 341.8h0.6M395.4 350.5h0.6M393.0 354.9h0.6M394.0 347.6h0.6M394.0 351.5h0.6M398.0 347.1h0.6M394.3 347.7h0.6M391.9 345.7h0.6M391.8 350.0h0.6M396.8 350.3h0.6M391.1 341.2h0.6M403.0 355.1h0.6M396.7 353.4h0.6M397.6 353.5h0.6M398.8 346.9h0.6M403.8 344.4h0.6M394.2 345.4h0.6M394.2 349.2h0.6M394.0 355.2h0.6M398.9 356.2h0.6M395.2 346.9h0.6M396.7 354.5h0.6M393.3 346.3h0.6M401.1 343.0h0.6M394.1 346.0h0.6M399.4 351.1h0.6M394.6 352.3h0.6M401.2 353.6h0.6M392.1 350.0h0.6M394.8 341.1h0.6M397.4 351.8h0.6M398.8 347.6h0.6M397.5 349.0h0.6M398.3 353.0h0.6M390.8 350.3h0.6M391.3 346.3h0.6M404.9 344.3h0.6M398.2 347.6h0.6M393.1 353.5h0.6M398.6 354.2h0.6M397.5 349.3h0.6M399.5 348.6h0.6M396.7 350.9h0.6M399.3 345.0h0.6M402.3 352.4h0.6M392.0 346.3h0.6M394.2 339.5h0.6M397.6 354.3h0.6M393.7 343.1h0.6M394.2 352.5h0.6M405.9 348.4h0.6M395.0 353.0h0.6M397.7 350.5h0.6M392.4 343.8h0.6M398.2 352.0h0.6M402.8 349.0h0.6M398.4 348.3h0.6M401.5 346.6h0.6M394.7 346.2h0.6M394.5 348.3h0.6M403.5 352.6h0.6M391.6 350.3h0.6M394.0 344.1h0.6M403.3 350.4h0.6M397.0 350.1h0.6M399.2 346.4h0.6M399.6 346.0h0.6M404.8 349.4h0.6M399.3 349.5h0.6M396.4 348.0h0.6M396.0 347.5h0.6M392.4 349.4h0.6M393.5 353.0h0.6M393.0 350.6h0.6M395.5 354.5h0.6M395.1 352.9h0.6M392.6 348.1h0.6M401.1 347.8h0.6M394.0 350.4h0.6M402.2 354.7h0.6M401.3 354.2h0.6M393.4 348.6h0.6M395.2 342.8h0.6M398.4 349.0h0.6M400.5 348.7h0.6M392.6 344.7h0.6M402.9 344.2h0.6M391.0 341.9h0.6M394.3 346.0h0.6M401.5 340.2h0.6M401.5 347.0h0.6M398.2 349.5h0.6M396.2 348.0h0.6M399.6 349.8h0.6M392.2 350.1h0.6M405.0 351.3h0.6M395.8 341.9h0.6M400.9 348.4h0.6M399.5 349.8h0.6M392.2 345.2h0.6M396.8 343.0h0.6M395.0 350.2h0.6M397.7 349.5h0.6M394.8 352.1h0.6M397.3 347.6h0.6M404.4 348.9h0.6M406.4 350.4h0.6M392.6 349.4h0.6M395.4 354.3h0.6M398.8 352.0h0.6M399.0 341.8h0.6M401.8 348.1h0.6M393.9 349.7h0.6M400.5 350.7h0.6M398.1 345.3h0.6M392.1 350.9h0.6M398.2 348.8h0.6M395.6 350.7h0.6M395.9 342.1h0.6M402.3 354.7h0.6M396.4 348.5h0.6M396.4 353.8h0.6M395.6 348.3h0.6M393.2 347.7h0.6M396.7 347.4h0.6M395.5 350.5h0.6M397.0 344.9h0.6M400.2 349.1h0.6M394.1 344.9h0.6M398.6 345.6h0.6M395.0 351.9h0.6M397.0 351.1h0.6M401.3 345.7h0.6M402.2 345.0h0.6M394.1 351.9h0.6M400.5 345.1h0.6M396.5 353.0h0.6M392.5 351.3h0.6M398.2 345.0h0.6M402.0 349.0h0.6M394.7 346.5h0.6M391.1 353.3h0.6M396.3 343.1h0.6M400.7 348.8h0.6M400.7 350.3h0.6M390.9 354.9h0.6M397.4 345.5h0.6M397.9 348.9h0.6M394.4 344.8h0.6M396.0 354.0h0.6M402.3 351.2h0.6M398.0 348.8h0.6M400.9 347.9h0.6M401.7 348.0h0.6M394.1 350.7h0.6M399.1 351.8h0.6M400.4 349.7h0.6M392.0 352.0h0.6M395.6 342.3h0.6M399.7 348.7h0.6M392.1 341.9h0.6M395.0 348.8h0.6M394.3 343.9h0.6M397.0 350.5h0.6M397.0 352.4h0.6M391.5 349.4h0.6M405.1 352.9h0.6M395.6 354.6h0.6M397.0 348.0h0.6M399.5 353.7h0.6M393.5 351.2h0.6M395.1 340.5h0.6M395.3 348.9h0.6M393.9 345.9h0.6M407.7 344.6h0.6M403.1 352.7h0.6M400.9 348.7h0.6M401.8 344.9h0.6M399.1 354.9h0.6M396.8 350.6h0.6M398.2 348.7h0.6M400.9 354.6h0.6M392.9 349.1h0.6M397.6 350.3h0.6M396.1 348.6h0.6M400.9 349.2h0.6M397.3 355.4h0.6M398.0 349.2h0.6M396.2 351.5h0.6M394.3 345.8h0.6M397.8 348.9h0.6M394.0 348.0h0.6M401.5 348.9h0.6M394.6 353.1h0.6M396.6 352.2h0.6M393.4 356.2h0.6M393.0 342.1h0.6M395.7 353.6h0.6M391.3 346.2h0.6M398.0 348.0h0.6M395.3 347.0h0.6M403.1 347.0h0.6M395.5 353.9h0.6M398.2 343.1h0.6M399.1 353.4h0.6M397.0 344.1h0.6M393.4 347.0h0.6M401.6 342.8h0.6M397.9 346.2h0.6M394.6 348.9h0.6M394.4 344.4h0.6M390.5 351.3h0.6M396.1 348.7h0.6M404.2 349.6h0.6M397.8 347.5h0.6M397.4 343.4h0.6M396.8 348.3h0.6M395.7 348.8h0.6M395.9 345.2h0.6M396.3 348.5h0.6M396.0 346.0h0.6M394.1 345.4h0.6M393.6 346.3h0.6M404.8 347.9h0.6M395.8 353.1h0.6M399.5 348.8h0.6M400.3 351.2h0.6M398.5 342.2h0.6M398.0 350.0h0.6M390.3 348.8h0.6M399.2 346.6h0.6M391.2 352.6h0.6M391.8 352.5h0.6M395.0 347.8h0.6M404.8 348.1h0.6M402.7 354.9h0.6M403.1 345.9h0.6M398.2 345.8h0.6M399.0 341.8h0.6M399.8 355.2h0.6M395.8 343.9h0.6M394.7 351.2h0.6M394.7 347.6h0.6M397.0 351.1h0.6M398.6 346.5h0.6M392.1 352.9h0.6M396.2 351.4h0.6M393.5 349.3h0.6M396.3 346.7h0.6M399.9 347.2h0.6M401.2 352.4h0.6M398.9 347.4h0.6M391.5 351.3h0.6M398.2 348.5h0.6M390.5 350.8h0.6M403.1 345.7h0.6M396.6 343.8h0.6M392.1 349.4h0.6M400.5 350.0h0.6M391.2 346.6h0.6M396.9 353.4h0.6M394.9 354.0h0.6M407.9 351.3h0.6M396.4 351.4h0.6M391.7 350.5h0.6M397.1 342.4h0.6M397.5 343.0h0.6M391.4 348.5h0.6M394.2 354.6h0.6M413.0 349.7h0.6M397.3 351.6h0.6M393.6 352.6h0.6M400.8 350.3h0.6M395.5 348.1h0.6M390.7 347.9h0.6M395.4 347.2h0.6M394.5 348.7h0.6M398.5 345.2h0.6M393.1 345.2h0.6M391.8 349.5h0.6M396.8 348.3h0.6M395.4 345.4h0.6M393.0 343.2h0.6M398.6 348.7h0.6M397.4 345.4h0.6M392.6 346.6h0.6M401.0 349.7h0.6M392.4 352.7h0.6M398.1 351.8h0.6M407.4 346.7h0.6M390.3 349.9h0.6M403.1 346.3h0.6M391.6 345.0h0.6M394.1 340.7h0.6M393.7 346.6h0.6M398.7 350.4h0.6M395.5 344.5h0.6M398.4 349.0h0.6M398.2 342.4h0.6M400.4 347.0h0.6M397.7 354.5h0.6M396.8 350.6h0.6M399.5 351.0h0.6M398.2 352.7h0.6M400.2 351.5h0.6M396.1 346.7h0.6M394.7 348.8h0.6M401.0 342.3h0.6M399.2 345.3h0.6M394.1 348.5h0.6M395.3 340.4h0.6M395.3 353.2h0.6M402.1 350.2h0.6M405.0 346.5h0.6M397.9 346.4h0.6M399.8 345.4h0.6M391.8 350.8h0.6M393.7 348.4h0.6M395.1 353.3h0.6M393.1 342.2h0.6M405.8 351.9h0.6M397.9 348.9h0.6M392.4 346.2h0.6M395.9 342.7h0.6M398.3 349.9h0.6M400.0 351.4h0.6M400.2 346.3h0.6M397.6 346.0h0.6M396.9 348.9h0.6M394.6 349.9h0.6M396.2 352.7h0.6M399.1 350.0h0.6M398.6 350.7h0.6M398.1 348.3h0.6M400.2 347.1h0.6M400.4 349.4h0.6M396.0 349.8h0.6M390.6 349.3h0.6M401.1 346.0h0.6M392.4 347.7h0.6M399.6 353.8h0.6M397.8 347.6h0.6M399.6 347.9h0.6M405.1 350.3h0.6M401.9 344.2h0.6M396.6 353.0h0.6M402.4 348.9h0.6M398.5 347.0h0.6M400.5 345.1h0.6M396.8 348.8h0.6M399.7 349.3h0.6M395.4 341.4h0.6M402.4 344.5h0.6M400.9 351.7h0.6M395.8 349.1h0.6M391.3 352.0h0.6M396.9 353.3h0.6M398.6 347.1h0.6M395.1 350.0h0.6M398.9 347.0h0.6M397.8 353.3h0.6M393.3 350.1h0.6M392.9 345.9h0.6M394.3 350.6h0.6M392.7 350.4h0.6M401.6 348.2h0.6M393.8 344.2h0.6M398.4 352.6h0.6M393.6 351.0h0.6M396.0 344.4h0.6M393.0 349.3h0.6M396.7 353.2h0.6M394.1 346.6h0.6M401.3 355.7h0.6M399.4 349.9h0.6M402.0 346.5h0.6M405.1 347.7h0.6M394.4 351.8h0.6M398.5 345.8h0.6M397.8 354.3h0.6M394.4 349.7h0.6M396.9 346.0h0.6M402.6 347.8h0.6M390.8 347.9h0.6M395.2 344.7h0.6M401.1 350.5h0.6M400.5 348.8h0.6M398.3 343.9h0.6M391.0 349.0h0.6M403.1 351.6h0.6M397.2 348.3h0.6M394.3 353.6h0.6M393.1 352.4h0.6M401.1 347.9h0.6M399.4 353.1h0.6M398.5 348.3h0.6M400.9 351.4h0.6M399.9 343.8h0.6M404.3 352.2h0.6M391.1 354.1h0.6M400.5 346.6h0.6M397.7 352.0h0.6M401.9 342.9h0.6M396.0 349.2h0.6M401.6 347.0h0.6M402.3 350.3h0.6M397.7 350.0h0.6M393.6 349.9h0.6M394.9 347.0h0.6M394.8 348.5h0.6M392.6 353.3h0.6M402.6 352.4h0.6M404.4 345.4h0.6M394.3 348.7h0.6M395.4 351.0h0.6M401.8 349.3h0.6M400.5 351.3h0.6M393.1 343.9h0.6M394.9 352.8h0.6M395.4 345.0h0.6M395.5 351.4h0.6M399.1 345.2h0.6M395.3 350.0h0.6M394.6 339.0h0.6M395.4 342.4h0.6M395.5 347.3h0.6M396.4 350.0h0.6M394.4 353.8h0.6M393.3 349.1h0.6M395.4 350.6h0.6M392.9 342.0h0.6M391.2 350.6h0.6M394.9 353.0h0.6M391.9 345.7h0.6M400.4 348.3h0.6M410.8 345.8h0.6M401.8 351.8h0.6M401.1 342.7h0.6M394.5 342.2h0.6M392.6 352.9h0.6M396.0 351.7h0.6M399.1 352.8h0.6M396.6 355.9h0.6M396.1 345.0h0.6M395.0 347.7h0.6M401.1 352.8h0.6M390.5 348.5h0.6M397.5 349.8h0.6M391.8 344.4h0.6M391.0 349.7h0.6M396.0 346.2h0.6M394.2 351.8h0.6M405.3 351.9h0.6M399.8 349.4h0.6M394.1 349.0h0.6M395.1 347.7h0.6M396.5 352.3h0.6M394.5 340.3h0.6M404.5 346.5h0.6M397.3 349.9h0.6M402.5 350.4h0.6M392.5 346.3h0.6M391.9 351.7h0.6M402.7 354.6h0.6M395.9 348.4h0.6M397.4 354.1h0.6M395.2 350.0h0.6M404.9 345.1h0.6M392.8 345.6h0.6M399.2 349.2h0.6M395.1 349.8h0.6M400.4 343.6h0.6M404.6 350.2h0.6M395.0 353.4h0.6M399.9 354.8h0.6M391.5 352.8h0.6M398.0 345.8h0.6M392.1 342.3h0.6M396.9 351.8h0.6M397.8 348.8h0.6M400.0 347.5h0.6M406.1 344.6h0.6M393.3 345.9h0.6M399.6 352.4h0.6M392.8 351.7h0.6M395.2 344.3h0.6M393.7 348.5h0.6M399.5 345.3h0.6M397.7 352.6h0.6M406.1 345.6h0.6M402.4 342.9h0.6M402.5 347.3h0.6M398.4 346.5h0.6M391.8 347.3h0.6M391.7 346.2h0.6M394.0 339.8h0.6M397.1 347.0h0.6M392.2 349.8h0.6M396.0 349.8h0.6M394.3 352.0h0.6M399.7 350.2h0.6M392.6 347.5h0.6M392.6 349.4h0.6M393.9 352.2h0.6M395.2 351.8h0.6M390.6 347.5h0.6M394.9 354.1h0.6M394.5 348.1h0.6M398.2 347.4h0.6M397.4 346.6h0.6M394.0 351.7h0.6M399.0 350.3h0.6M396.3 346.4h0.6M400.5 344.4h0.6M393.1 350.1h0.6M398.7 354.0h0.6M390.6 346.6h0.6M393.5 352.1h0.6M399.8 346.9h0.6M400.4 350.0h0.6M394.9 350.0h0.6M397.6 356.1h0.6M393.1 346.2h0.6M392.7 349.0h0.6M396.8 346.9h0.6M394.1 352.9h0.6M407.4 351.4h0.6M403.9 355.2h0.6M396.7 349.5h0.6M404.7 341.4h0.6M400.6 352.5h0.6M392.6 351.5h0.6M393.9 347.8h0.6M392.7 349.7h0.6M402.8 343.6h0.6M394.6 344.1h0.6M394.8 341.9h0.6M397.9 343.6h0.6M392.4 349.9h0.6M400.8 346.7h0.6M397.0 346.5h0.6M393.4 342.5h0.6M396.9 343.6h0.6M398.0 348.5h0.6M394.8 353.0h0.6M400.1 346.1h0.6M400.4 350.2h0.6M391.7 350.2h0.6M394.8 348.8h0.6M400.7 352.1h0.6M394.1 346.3h0.6M400.3 340.8h0.6M398.6 351.9h0.6M391.6 351.6h0.6M396.6 347.9h0.6M396.0 351.0h0.6M395.4 349.1h0.6M398.9 348.5h0.6M392.6 353.0h0.6M402.9 349.1h0.6M395.5 348.9h0.6M401.3 349.9h0.6M397.0 349.6h0.6M398.8 352.4h0.6M397.2 345.1h0.6M401.6 346.6h0.6M397.6 343.1h0.6M399.4 343.7h0.6M390.9 352.7h0.6M399.8 349.8h0.6M394.3 352.2h0.6M402.9 353.1h0.6M396.7 353.8h0.6M395.5 340.7h0.6M407.1 350.6h0.6M391.7 342.9h0.6M392.4 355.2h0.6M397.8 352.7h0.6M393.0 352.6h0.6M397.0 349.5h0.6M401.3 348.5h0.6M403.4 344.7h0.6M404.2 344.8h0.6M396.6 346.8h0.6M396.4 354.4h0.6M391.0 346.1h0.6" stroke="#000" stroke-width="0.6" opacity="0.8" fill="none"/>
<path d="M395.5 351.0h0.55M397.4 355.4h0.55M394.8 346.3h0.55M404.3 343.3h0.55M407.4 354.9h0.55M401.7 338.8h0.55M399.7 354.1h0.55M399.7 350.8h0.55M392.4 342.7h0.55M395.7 354.6h0.55M392.1 337.7h0.55M390.9 345.1h0.55M398.2 341.4h0.55M394.9 353.7h0.55M392.4 354.5h0.55M415.2 344.8h0.55M394.7 341.4h0.55M401.6 348.6h0.55M401.3 346.1h0.55M404.9 337.9h0.55M394.7 348.6h0.55M395.6 341.4h0.55M399.6 343.4h0.55M403.3 351.0h0.55M397.8 340.3h0.55M403.4 342.8h0.55M394.9 350.4h0.55M390.9 350.4h0.55M396.5 356.3h0.55M405.1 351.5h0.55M398.7 344.6h0.55M403.7 345.0h0.55M395.1 342.0h0.55M403.2 352.8h0.55M395.1 340.4h0.55M391.0 344.2h0.55M403.6 337.7h0.55M400.1 343.5h0.55M414.3 342.7h0.55M397.4 346.6h0.55M397.1 351.6h0.55M396.8 348.9h0.55M401.6 343.8h0.55M403.8 344.0h0.55M399.3 350.9h0.55M410.1 352.7h0.55M399.9 343.3h0.55M397.7 344.3h0.55M392.0 352.2h0.55M397.8 355.6h0.55M398.2 350.2h0.55M401.7 353.3h0.55M393.2 351.8h0.55M394.3 354.1h0.55M395.1 356.0h0.55M400.7 343.9h0.55M396.8 349.2h0.55M390.7 354.3h0.55M395.4 353.4h0.55M396.8 350.5h0.55M391.2 349.2h0.55M392.1 351.2h0.55M398.2 344.0h0.55M402.2 350.9h0.55M405.4 353.6h0.55M395.7 341.0h0.55M413.6 345.4h0.55M394.4 350.6h0.55M393.9 352.8h0.55M405.3 351.5h0.55M408.8 342.0h0.55M401.4 350.9h0.55M398.8 349.5h0.55M399.6 351.6h0.55M400.3 356.2h0.55M405.9 349.0h0.55M391.8 349.0h0.55M395.8 337.1h0.55M403.1 354.8h0.55M393.6 355.0h0.55M404.6 347.0h0.55M401.6 348.4h0.55M394.0 348.1h0.55M396.4 337.4h0.55M409.5 344.5h0.55M396.1 334.8h0.55M391.3 344.3h0.55M405.4 349.4h0.55M395.3 350.9h0.55M402.5 347.4h0.55M407.4 340.2h0.55M396.8 333.6h0.55M394.7 351.9h0.55M395.3 353.3h0.55M394.0 348.9h0.55M403.1 356.3h0.55M394.8 345.9h0.55M391.4 340.3h0.55M393.2 349.8h0.55M397.3 341.5h0.55M399.0 347.8h0.55M393.1 347.7h0.55M399.7 349.8h0.55M393.2 342.0h0.55M406.8 347.4h0.55M395.7 333.8h0.55M394.0 342.9h0.55M392.6 341.0h0.55M405.0 353.2h0.55M405.9 330.9h0.55M395.3 355.2h0.55M398.8 350.2h0.55M398.6 356.6h0.55M404.4 344.7h0.55M395.6 340.4h0.55M390.4 345.1h0.55M401.3 350.7h0.55M396.1 344.6h0.55M407.5 339.5h0.55M400.1 349.3h0.55M402.9 347.7h0.55M401.8 345.8h0.55M395.5 348.4h0.55M396.6 341.6h0.55M395.1 351.5h0.55M401.4 344.0h0.55M399.9 346.2h0.55M407.1 340.6h0.55M398.3 349.2h0.55M393.2 352.6h0.55M398.1 350.2h0.55M414.0 341.9h0.55M399.7 335.1h0.55M396.9 350.0h0.55M405.4 342.4h0.55M403.3 340.6h0.55M394.3 352.2h0.55M391.9 348.2h0.55M403.8 353.3h0.55M393.2 356.2h0.55M410.8 342.0h0.55M398.4 354.9h0.55M397.1 355.3h0.55M395.3 341.5h0.55M397.0 347.6h0.55M395.9 352.2h0.55M403.2 352.2h0.55M399.1 356.5h0.55M400.9 344.6h0.55M394.2 343.5h0.55M390.8 348.7h0.55M408.6 346.9h0.55M400.6 349.3h0.55M398.9 352.8h0.55M404.9 338.9h0.55M391.0 346.2h0.55M409.5 354.7h0.55M397.3 351.7h0.55M396.2 347.8h0.55M398.8 342.9h0.55M400.4 341.8h0.55M403.9 341.1h0.55M392.2 346.4h0.55M394.3 353.3h0.55M410.4 344.9h0.55M395.3 344.0h0.55M395.5 351.5h0.55M407.1 348.7h0.55M394.6 349.0h0.55M395.2 342.4h0.55M400.8 348.1h0.55M394.4 349.8h0.55M408.6 348.5h0.55M401.4 356.6h0.55M399.1 344.0h0.55M405.7 345.3h0.55M400.9 345.9h0.55M404.3 335.7h0.55M398.3 352.7h0.55M401.0 348.3h0.55M401.3 343.2h0.55M397.9 350.6h0.55M399.0 355.0h0.55M398.8 353.0h0.55M400.0 347.1h0.55M395.4 355.2h0.55M397.2 352.0h0.55M395.9 344.4h0.55M403.5 354.7h0.55M403.3 339.7h0.55M404.7 345.7h0.55M396.2 338.4h0.55M397.5 346.5h0.55M410.6 345.9h0.55M402.3 350.8h0.55M406.1 350.9h0.55M394.9 348.3h0.55M393.1 343.6h0.55M397.9 343.1h0.55M402.9 342.5h0.55M393.5 346.3h0.55M406.4 349.0h0.55M393.0 353.1h0.55M403.9 342.4h0.55M412.9 331.7h0.55M398.0 345.7h0.55M394.0 352.4h0.55M407.4 341.6h0.55M406.9 346.3h0.55M394.0 349.0h0.55M398.7 349.7h0.55M408.1 338.6h0.55M402.9 349.4h0.55M397.8 344.9h0.55M398.2 342.1h0.55M404.3 347.3h0.55M400.6 347.3h0.55M398.1 350.7h0.55M394.1 341.8h0.55M395.0 348.6h0.55M405.1 341.6h0.55M394.2 347.1h0.55M399.1 347.9h0.55M398.0 346.0h0.55M397.4 350.9h0.55M390.2 350.4h0.55M408.0 348.1h0.55M392.4 351.5h0.55M403.2 344.2h0.55M404.1 347.8h0.55M401.3 356.4h0.55M399.9 340.2h0.55M401.5 347.2h0.55M399.9 343.0h0.55M396.7 349.4h0.55M399.1 349.7h0.55M413.6 350.5h0.55M404.1 349.6h0.55M398.0 349.3h0.55M398.8 356.2h0.55M397.5 351.4h0.55M404.4 343.7h0.55M400.8 340.9h0.55M402.2 348.4h0.55M393.2 354.2h0.55M398.8 346.3h0.55M396.0 344.8h0.55M402.3 350.8h0.55M403.4 352.7h0.55M409.1 354.1h0.55M394.9 354.6h0.55M397.2 340.7h0.55M391.7 338.7h0.55M406.7 344.8h0.55M392.8 343.5h0.55M403.6 347.6h0.55M414.2 349.9h0.55M400.9 338.0h0.55M405.7 350.9h0.55M393.7 355.5h0.55M402.2 342.8h0.55M401.0 346.3h0.55M403.8 348.0h0.55M401.9 342.9h0.55M406.0 344.1h0.55M397.5 344.1h0.55M408.2 346.0h0.55M395.8 347.9h0.55M391.6 343.2h0.55M398.8 350.4h0.55M397.0 347.2h0.55M412.8 349.9h0.55M406.3 341.1h0.55M392.5 349.2h0.55M398.3 349.2h0.55M399.7 341.6h0.55M400.7 347.8h0.55M395.5 338.1h0.55M402.1 347.0h0.55M391.7 338.3h0.55M405.5 341.9h0.55M397.6 349.9h0.55M391.8 348.4h0.55M400.7 344.7h0.55M395.9 355.9h0.55M400.8 344.2h0.55M411.9 341.0h0.55M397.0 354.8h0.55M416.2 349.7h0.55M398.3 343.7h0.55M400.5 340.1h0.55M398.1 355.1h0.55M392.6 340.8h0.55M399.0 348.5h0.55M392.9 348.4h0.55M396.7 354.4h0.55M402.5 354.9h0.55M406.0 349.0h0.55" stroke="#000" stroke-width="0.55" opacity="0.6" fill="none"/>
<path d="M400.4 351.6h0.5M412.4 332.7h0.5M414.7 336.3h0.5M408.8 348.7h0.5M408.4 347.4h0.5M397.7 355.7h0.5M398.6 341.8h0.5M397.6 353.8h0.5M405.3 337.1h0.5M397.4 338.9h0.5M405.9 352.0h0.5M391.2 342.6h0.5M394.3 333.4h0.5M398.2 344.0h0.5M396.6 352.0h0.5M409.2 330.3h0.5M392.1 343.0h0.5M390.9 338.9h0.5M391.4 346.8h0.5M408.5 339.8h0.5M402.2 344.1h0.5M408.1 342.8h0.5M392.3 346.4h0.5M397.3 345.2h0.5M418.0 338.4h0.5M400.3 346.8h0.5M392.7 353.4h0.5M409.1 334.0h0.5M390.4 329.5h0.5M398.3 352.9h0.5M407.3 340.5h0.5M392.0 336.5h0.5M397.3 352.8h0.5M391.3 338.5h0.5M397.2 338.6h0.5M410.5 325.5h0.5M396.4 344.2h0.5M416.9 331.1h0.5M390.4 350.3h0.5M403.9 343.3h0.5M392.0 335.8h0.5M402.2 336.4h0.5M396.7 335.0h0.5M394.3 354.3h0.5M398.0 356.1h0.5M408.1 338.2h0.5M404.9 347.2h0.5M401.4 349.3h0.5M397.5 345.7h0.5M401.9 352.3h0.5M394.0 341.3h0.5M394.0 355.9h0.5M404.0 342.3h0.5M403.9 347.1h0.5M395.2 335.2h0.5M402.2 345.0h0.5M398.8 340.1h0.5M391.9 343.4h0.5M399.7 344.0h0.5M403.3 340.0h0.5M403.7 338.1h0.5M419.6 347.4h0.5M405.4 336.2h0.5M410.4 354.8h0.5M401.1 341.0h0.5M408.1 351.1h0.5M398.2 347.9h0.5M396.7 346.3h0.5M397.7 344.5h0.5M392.5 350.8h0.5M391.0 332.9h0.5M405.5 345.7h0.5M402.9 318.2h0.5M390.2 342.0h0.5M393.2 333.6h0.5M406.9 345.1h0.5M403.0 350.9h0.5M411.2 346.1h0.5M415.3 352.9h0.5M390.2 347.3h0.5M407.8 343.6h0.5M397.9 344.8h0.5M404.9 344.6h0.5M399.3 345.5h0.5M392.4 356.1h0.5M394.5 345.1h0.5M404.6 356.1h0.5M401.1 353.5h0.5M391.0 333.8h0.5M410.9 348.8h0.5M392.5 340.5h0.5M407.8 341.9h0.5M400.6 346.0h0.5M406.1 350.7h0.5M410.8 343.9h0.5M394.5 343.5h0.5M397.0 350.6h0.5M391.9 338.6h0.5M402.2 347.3h0.5M399.0 352.6h0.5M397.6 351.8h0.5M394.6 352.2h0.5M399.9 353.9h0.5M397.9 344.2h0.5M405.7 350.1h0.5M404.1 349.4h0.5M405.9 344.8h0.5M392.6 339.2h0.5M393.1 340.1h0.5M420.4 333.8h0.5M400.6 354.6h0.5M393.8 350.7h0.5M391.1 339.4h0.5M399.2 338.9h0.5M404.9 353.5h0.5M398.3 344.3h0.5M391.5 337.5h0.5M402.0 335.5h0.5M395.2 339.8h0.5M397.5 352.6h0.5M396.6 343.7h0.5M403.6 352.9h0.5M419.0 341.7h0.5M391.9 351.0h0.5M412.2 352.9h0.5M397.1 345.7h0.5M392.1 351.3h0.5M408.4 332.6h0.5M395.7 339.6h0.5M401.7 343.8h0.5M396.9 335.4h0.5M402.6 346.3h0.5M396.1 337.7h0.5M393.2 351.2h0.5M395.8 349.2h0.5M408.1 341.1h0.5M397.3 349.3h0.5M409.4 340.3h0.5M414.7 336.1h0.5M396.3 349.6h0.5M395.7 343.8h0.5M404.3 340.5h0.5M410.6 355.9h0.5M398.2 356.3h0.5M392.8 353.3h0.5" stroke="#000" stroke-width="0.5" opacity="0.4" fill="none"/>
<ellipse cx="401.30" cy="334.80" rx="5.78" ry="4.08" fill="url(#g2)" opacity="0.4"/>
<path d="M400.4 332.8h0.5M398.1 339.5h0.5M399.6 333.0h0.5M399.7 334.0h0.5M398.2 332.0h0.5M402.6 332.7h0.5M400.5 332.2h0.5M401.5 335.8h0.5M399.4 334.7h0.5M398.7 337.2h0.5M401.7 333.3h0.5M400.5 333.1h0.5M405.9 337.4h0.5M402.0 336.8h0.5M399.4 334.4h0.5M394.4 333.6h0.5M403.7 333.7h0.5M403.2 331.1h0.5M400.2 332.6h0.5M405.5 333.8h0.5M396.1 335.1h0.5M400.4 338.1h0.5M401.1 333.3h0.5M400.5 335.2h0.5M405.6 336.1h0.5M398.6 334.7h0.5M404.5 333.6h0.5M401.5 335.8h0.5M404.9 333.0h0.5M396.3 334.1h0.5M394.3 331.7h0.5M403.1 336.1h0.5M397.6 335.4h0.5M396.2 333.6h0.5M399.8 338.4h0.5M401.2 332.4h0.5M397.6 335.5h0.5M406.6 334.4h0.5M399.7 334.4h0.5M403.6 336.9h0.5M401.0 338.1h0.5M396.7 338.0h0.5M403.7 334.2h0.5M403.4 332.3h0.5M401.4 334.3h0.5M402.5 333.8h0.5M398.2 335.4h0.5M400.9 334.7h0.5M399.1 335.1h0.5M402.1 334.4h0.5M403.0 333.1h0.5M402.9 332.8h0.5M403.7 332.0h0.5M403.1 336.1h0.5M408.0 332.5h0.5M404.9 333.3h0.5M401.4 337.1h0.5M402.6 335.5h0.5M400.1 339.2h0.5M405.8 337.2h0.5M398.1 333.8h0.5M402.9 336.4h0.5M401.3 334.3h0.5M401.8 333.7h0.5M403.5 335.6h0.5M396.6 330.4h0.5M400.2 336.8h0.5M403.5 333.6h0.5M399.5 330.0h0.5M394.5 332.2h0.5M401.2 334.2h0.5M402.2 335.3h0.5M402.2 337.5h0.5M400.1 331.0h0.5M393.8 332.3h0.5M394.8 336.5h0.5M403.8 335.6h0.5M399.6 337.9h0.5M400.9 335.2h0.5M399.4 338.0h0.5M401.7 333.9h0.5M404.6 333.7h0.5M405.7 332.4h0.5M393.1 331.4h0.5M401.0 336.9h0.5M402.6 332.8h0.5M396.8 337.3h0.5M403.3 335.9h0.5M405.5 334.4h0.5M399.7 337.5h0.5" stroke="#000" stroke-width="0.5" opacity="0.55" fill="none"/>
<ellipse cx="429.60" cy="330.00" rx="7.82" ry="3.91" fill="url(#g2)" opacity="0.5" transform="rotate(-58 429.60 330.00)"/>
<path d="M433.9 329.8h0.5M429.0 336.0h0.5M430.3 322.1h0.5M429.8 331.2h0.5M428.9 326.2h0.5M423.9 330.4h0.5M427.2 329.5h0.5M424.5 338.4h0.5M424.6 330.3h0.5M431.4 332.2h0.5M435.1 323.9h0.5M431.8 331.4h0.5M430.8 327.4h0.5M429.7 331.5h0.5M429.6 332.8h0.5M424.4 333.6h0.5M434.0 328.4h0.5M426.3 333.7h0.5M434.9 322.2h0.5M429.4 331.4h0.5M430.5 329.3h0.5M430.3 325.1h0.5M428.0 326.3h0.5M430.1 331.4h0.5M439.6 321.6h0.5M430.3 338.1h0.5M432.3 329.9h0.5M435.6 328.6h0.5M430.0 330.9h0.5M425.3 332.6h0.5M427.9 330.9h0.5M428.2 331.7h0.5M428.5 331.5h0.5M430.6 331.1h0.5M430.9 328.7h0.5M429.3 334.6h0.5M428.2 327.0h0.5M427.4 335.1h0.5M428.8 327.3h0.5M433.3 328.8h0.5M428.1 328.9h0.5M430.5 329.4h0.5M426.7 334.0h0.5M429.4 330.2h0.5M430.8 323.4h0.5M427.4 332.5h0.5M428.7 331.0h0.5M431.6 323.2h0.5M430.8 330.6h0.5M428.6 330.2h0.5M426.6 330.6h0.5M431.7 331.2h0.5M439.2 326.0h0.5M429.2 331.1h0.5M429.8 325.3h0.5M430.1 323.1h0.5M430.1 328.8h0.5M431.9 326.4h0.5M427.6 334.9h0.5M430.0 327.0h0.5M425.1 332.6h0.5M432.9 330.6h0.5M428.9 327.2h0.5M431.3 328.5h0.5M425.9 331.6h0.5M430.1 329.2h0.5M430.5 332.5h0.5M426.1 337.0h0.5M430.7 325.3h0.5M425.4 330.7h0.5M430.9 331.9h0.5M429.3 325.0h0.5M430.9 332.7h0.5M433.7 332.9h0.5M427.0 328.1h0.5M431.5 329.8h0.5M432.0 328.0h0.5M433.0 325.9h0.5M434.7 323.2h0.5M431.7 330.4h0.5M426.2 334.1h0.5M432.1 329.8h0.5M431.6 328.5h0.5M428.5 332.0h0.5M429.2 327.8h0.5M431.7 325.2h0.5M429.2 333.3h0.5M432.5 330.0h0.5M429.9 331.0h0.5M429.1 330.1h0.5M429.0 324.5h0.5M429.8 325.8h0.5M425.4 332.6h0.5M434.8 326.9h0.5M436.2 321.7h0.5M421.2 336.5h0.5M431.2 330.7h0.5M426.5 330.8h0.5M430.8 329.5h0.5M433.8 327.0h0.5M428.7 333.6h0.5M426.7 331.9h0.5M430.9 332.0h0.5M432.1 333.8h0.5M429.8 329.3h0.5M431.4 328.1h0.5M432.1 329.6h0.5M429.4 329.7h0.5M425.9 333.6h0.5M429.8 329.4h0.5M425.0 329.5h0.5M431.0 330.8h0.5M426.7 332.3h0.5M430.5 331.6h0.5M426.4 331.5h0.5M427.9 328.5h0.5M431.6 331.4h0.5M430.9 326.6h0.5M428.7 332.6h0.5M426.0 332.5h0.5M427.8 330.9h0.5M430.6 329.4h0.5M430.9 329.0h0.5M427.7 334.6h0.5M425.7 333.3h0.5M432.1 328.4h0.5M430.5 327.6h0.5M433.4 327.6h0.5M431.4 331.0h0.5M425.7 330.9h0.5M426.8 338.1h0.5M429.3 327.4h0.5M431.4 335.0h0.5M425.2 335.6h0.5M430.4 325.1h0.5M425.6 331.1h0.5M428.1 330.0h0.5M426.4 328.9h0.5M432.2 334.2h0.5M428.6 330.9h0.5M431.5 329.8h0.5M431.1 332.1h0.5M428.9 330.7h0.5M427.2 327.4h0.5M424.3 336.5h0.5M432.6 329.8h0.5M429.8 329.8h0.5M426.1 332.7h0.5M432.6 322.6h0.5M429.4 326.1h0.5M427.6 329.4h0.5M427.5 332.6h0.5M428.9 326.1h0.5M429.5 331.3h0.5M430.8 328.4h0.5M428.5 328.6h0.5M426.4 331.7h0.5M430.9 329.0h0.5M428.0 335.1h0.5M427.9 329.1h0.5M424.0 336.1h0.5M432.0 330.6h0.5M430.8 326.6h0.5M432.3 329.5h0.5M425.6 332.9h0.5M432.0 324.7h0.5M430.0 331.2h0.5M424.1 334.9h0.5M427.2 329.0h0.5M426.2 331.4h0.5" stroke="#000" stroke-width="0.5" opacity="0.55" fill="none"/>
<path d="M415.8 339.2h.5M429.7 323.8h.5M417.4 335.6h.5M418.2 332.6h.5M422.5 335.2h.5M422.7 333.1h.5M411.8 332.9h.5M428.7 320.3h.5M428.8 330.6h.5M424.2 323.5h.5M426.1 321.1h.5M434.9 309.8h.5M429.6 316.3h.5M437.1 312.9h.5M419.7 332.1h.5M433.7 314.0h.5M421.6 330.5h.5M419.8 337.3h.5M413.7 330.7h.5M420.4 333.2h.5M427.3 319.9h.5M410.8 345.1h.5M434.5 318.1h.5M419.7 329.9h.5M420.3 318.7h.5M411.9 344.3h.5M417.3 337.5h.5M429.0 325.1h.5M430.1 319.3h.5M426.9 323.8h.5M419.8 329.2h.5M421.0 331.7h.5M423.3 335.1h.5M430.2 318.9h.5M420.1 331.5h.5M420.9 326.4h.5M422.8 335.9h.5M411.1 338.5h.5M433.9 328.1h.5M429.7 320.7h.5M424.3 326.2h.5M421.0 327.6h.5M416.1 333.0h.5M415.8 339.5h.5M432.7 318.8h.5M424.7 330.3h.5M414.1 334.8h.5M427.4 324.7h.5M428.4 329.7h.5M428.5 326.2h.5M427.7 321.9h.5M421.5 338.5h.5M423.9 322.0h.5M423.7 330.0h.5M418.3 340.0h.5M435.2 317.0h.5M410.3 341.2h.5M420.0 331.4h.5M434.3 317.3h.5M430.8 324.2h.5M413.9 339.1h.5M419.2 331.7h.5M433.0 317.0h.5M420.6 328.1h.5M438.1 314.9h.5M415.5 338.3h.5M419.7 330.8h.5M408.3 338.5h.5M428.3 327.4h.5M416.8 335.8h.5M422.7 330.1h.5M423.5 331.3h.5M421.6 326.6h.5M420.4 328.6h.5M423.1 324.3h.5M425.8 324.8h.5M418.7 334.8h.5M425.5 320.9h.5M428.7 324.1h.5M433.4 324.6h.5M428.3 328.5h.5M418.2 335.6h.5M424.2 322.5h.5M434.3 310.7h.5M424.2 322.4h.5M428.4 329.1h.5M422.6 327.3h.5M425.9 326.9h.5M428.8 326.0h.5M412.6 334.0h.5M412.8 341.9h.5M414.6 341.8h.5M428.7 323.3h.5M413.6 336.3h.5M428.3 318.7h.5M426.9 330.4h.5M426.2 329.7h.5M417.1 340.9h.5M431.6 314.7h.5M425.7 320.6h.5M427.3 319.3h.5M421.8 337.6h.5M429.2 327.9h.5M419.3 337.1h.5M423.4 332.1h.5M432.0 323.1h.5M419.4 330.7h.5M421.8 331.2h.5M429.5 320.2h.5M430.3 318.8h.5M408.2 344.7h.5M433.0 313.6h.5M417.2 339.1h.5M423.2 324.4h.5M428.2 327.2h.5M423.5 336.6h.5M416.1 335.3h.5M418.8 332.6h.5M412.5 338.8h.5M422.2 329.7h.5M414.2 337.6h.5M415.0 339.9h.5M417.7 341.9h.5M435.7 322.4h.5M428.7 320.8h.5M422.6 333.3h.5M429.9 324.4h.5M431.9 318.5h.5M421.7 330.2h.5M419.7 338.6h.5M424.0 330.7h.5M428.0 330.4h.5M430.0 318.9h.5M423.6 329.1h.5M425.2 322.4h.5M415.0 331.5h.5M416.8 333.7h.5M419.2 329.9h.5M424.0 326.4h.5M411.5 343.1h.5M419.9 326.2h.5M427.7 314.4h.5M417.7 337.4h.5M426.3 323.7h.5M422.5 335.0h.5M429.2 317.1h.5M425.4 328.4h.5M407.1 347.1h.5M429.0 321.9h.5M429.8 328.3h.5M426.3 330.6h.5M430.2 328.7h.5M413.8 347.4h.5M421.1 320.3h.5M418.5 340.6h.5M416.2 336.6h.5M430.6 322.3h.5M422.5 334.3h.5M415.6 339.7h.5M426.2 320.9h.5M410.6 340.7h.5M423.4 328.3h.5M413.7 339.1h.5M412.7 346.3h.5M427.7 326.4h.5M413.1 342.5h.5M429.5 325.9h.5M427.9 322.8h.5M431.4 322.2h.5M433.2 319.5h.5M422.9 318.4h.5M418.9 332.7h.5M418.4 335.6h.5M433.2 313.6h.5M418.9 336.4h.5M437.7 317.5h.5M419.8 335.8h.5M423.7 331.2h.5M426.3 325.7h.5M414.3 342.1h.5M423.2 329.7h.5M431.3 318.1h.5M409.5 345.5h.5M427.0 328.7h.5M423.1 325.7h.5M436.0 318.2h.5M435.7 315.7h.5M418.8 331.3h.5M414.6 343.9h.5M426.0 328.4h.5M405.4 349.9h.5M408.3 342.5h.5M428.6 322.8h.5M437.1 314.9h.5M415.4 331.2h.5M425.3 321.6h.5M426.2 324.8h.5M410.7 342.2h.5M416.1 339.7h.5M423.8 332.1h.5M420.4 330.6h.5M426.4 319.4h.5M419.4 336.7h.5M412.0 344.0h.5M418.9 332.0h.5M424.5 323.1h.5M421.8 327.9h.5M410.7 341.4h.5M426.8 323.7h.5M412.3 344.8h.5M417.0 337.5h.5M415.9 334.7h.5M431.8 320.5h.5M412.1 343.6h.5M412.0 333.0h.5M411.7 349.1h.5M423.4 327.9h.5M412.2 348.3h.5M405.9 344.1h.5M409.3 348.9h.5M424.5 322.0h.5M418.4 335.7h.5M424.6 329.7h.5M422.6 324.3h.5M420.0 326.8h.5M433.3 317.3h.5M435.4 311.3h.5M418.8 339.1h.5M418.3 333.3h.5M420.5 330.0h.5M425.7 323.0h.5M419.4 338.8h.5M423.1 326.5h.5M425.8 326.9h.5M426.6 327.6h.5M420.8 333.3h.5M426.1 322.3h.5M411.3 347.9h.5M423.8 325.0h.5M421.6 333.8h.5M431.5 316.3h.5M414.3 338.9h.5M413.9 343.4h.5M420.3 338.3h.5M431.7 310.3h.5M430.9 317.2h.5M414.9 334.5h.5M420.8 341.5h.5M425.3 327.9h.5M434.0 321.4h.5M420.2 335.5h.5M430.6 318.1h.5M413.5 341.7h.5M440.3 314.7h.5M418.5 324.8h.5M425.2 329.6h.5M414.0 340.5h.5M413.9 342.7h.5M421.3 336.9h.5M425.1 319.6h.5M423.4 325.3h.5M413.3 344.7h.5M417.5 332.7h.5M419.5 334.7h.5M433.2 314.2h.5M424.7 325.7h.5M411.6 339.1h.5M410.5 350.6h.5M422.6 325.9h.5M422.2 330.2h.5M428.6 319.1h.5M431.0 317.3h.5M430.6 320.0h.5M428.1 317.4h.5M431.3 324.7h.5M411.9 340.4h.5M418.4 339.4h.5M424.2 330.2h.5M415.9 336.2h.5M422.3 315.7h.5M423.1 324.7h.5M423.3 330.4h.5M432.8 313.4h.5M423.8 323.9h.5M423.0 317.6h.5M426.5 323.7h.5M411.7 341.4h.5M423.0 334.5h.5M431.2 322.1h.5M426.4 318.3h.5M414.3 334.5h.5M430.9 314.8h.5M430.3 315.1h.5M427.0 326.8h.5M426.4 318.9h.5M413.1 339.5h.5M427.2 318.6h.5M419.9 335.7h.5M426.4 325.2h.5M410.9 336.3h.5" stroke="#000" stroke-width=".5" opacity="0.2" fill="none"/>
</g>
<rect x="457.00" y="294.60" width="57.80" height="62.60" fill="#fff" stroke="#a9a9a9" stroke-width="0.8"/>
<clipPath id="cJ2"><rect x="457.40" y="295.00" width="57.00" height="61.80"/></clipPath>
<g clip-path="url(#cJ2)" filter="url(#soft)">
<ellipse cx="466.60" cy="348.60" rx="13.95" ry="8.99" fill="url(#g1)" opacity="1.0"/>
<path d="M462.5 346.3h0.6M475.1 349.6h0.6M461.3 347.7h0.6M467.1 346.6h0.6M459.0 347.7h0.6M471.4 346.2h0.6M470.0 344.4h0.6M462.1 344.3h0.6M467.7 352.1h0.6M465.0 347.7h0.6M468.4 343.9h0.6M467.6 350.4h0.6M478.4 349.8h0.6M462.1 345.4h0.6M464.3 351.3h0.6M460.8 344.5h0.6M460.8 348.2h0.6M464.1 349.3h0.6M462.2 348.1h0.6M469.9 344.9h0.6M464.7 352.7h0.6M458.6 348.6h0.6M466.8 348.2h0.6M459.0 350.8h0.6M462.6 346.2h0.6M464.4 346.4h0.6M469.4 355.3h0.6M465.3 344.2h0.6M463.8 348.1h0.6M465.9 352.9h0.6M478.4 349.0h0.6M470.1 350.1h0.6M474.2 344.6h0.6M473.0 345.3h0.6M470.4 343.7h0.6M468.8 348.1h0.6M471.0 351.7h0.6M467.4 351.0h0.6M465.1 351.9h0.6M462.0 347.9h0.6M467.3 345.7h0.6M466.1 346.4h0.6M470.3 351.0h0.6M465.2 350.4h0.6M478.6 351.0h0.6M469.2 351.2h0.6M470.3 353.0h0.6M471.8 347.9h0.6M464.4 352.7h0.6M475.6 350.6h0.6M460.1 342.3h0.6M476.3 348.5h0.6M472.0 346.5h0.6M464.7 348.1h0.6M460.4 353.2h0.6M467.3 346.0h0.6M467.5 352.8h0.6M471.2 348.3h0.6M470.7 349.6h0.6M465.2 344.9h0.6M474.0 352.7h0.6M460.6 345.2h0.6M468.5 348.4h0.6M461.3 345.0h0.6M467.6 347.8h0.6M468.7 350.4h0.6M468.8 348.1h0.6M470.5 347.2h0.6M459.7 351.0h0.6M465.1 344.5h0.6M463.1 344.6h0.6M472.4 345.5h0.6M478.8 348.6h0.6M468.3 344.3h0.6M468.8 345.1h0.6M465.9 343.6h0.6M468.5 355.2h0.6M472.5 349.2h0.6M461.8 349.6h0.6M465.1 344.6h0.6M468.4 348.8h0.6M466.5 351.7h0.6M463.1 350.2h0.6M465.4 352.6h0.6M464.4 345.1h0.6M469.1 348.6h0.6M468.5 349.4h0.6M460.2 345.5h0.6M478.8 346.8h0.6M470.3 340.0h0.6M460.0 346.7h0.6M464.7 349.5h0.6M457.6 348.8h0.6M468.8 354.1h0.6M465.4 350.3h0.6M461.2 346.4h0.6M475.5 347.1h0.6M472.2 345.9h0.6M466.3 346.5h0.6M473.8 350.0h0.6M465.8 353.3h0.6M471.5 347.3h0.6M468.0 344.0h0.6M467.1 345.9h0.6M474.1 351.4h0.6M461.9 347.2h0.6M466.3 350.6h0.6M465.9 351.1h0.6M467.3 349.9h0.6M475.8 352.2h0.6M469.7 348.3h0.6M475.2 351.9h0.6M464.1 342.6h0.6M463.0 349.9h0.6M464.5 351.9h0.6M473.2 343.3h0.6M465.8 351.1h0.6M459.3 346.3h0.6M463.7 346.7h0.6M470.0 347.1h0.6M467.3 348.6h0.6M464.7 350.1h0.6M467.4 346.8h0.6M471.6 349.3h0.6M473.2 351.8h0.6M477.0 345.2h0.6M464.4 339.1h0.6M474.4 343.1h0.6M460.1 348.9h0.6M469.2 344.9h0.6M467.0 353.0h0.6M473.2 349.1h0.6M469.0 349.7h0.6M466.0 353.3h0.6M470.2 350.7h0.6M466.4 345.2h0.6M471.0 352.7h0.6M465.6 348.6h0.6M467.1 352.2h0.6M467.0 345.2h0.6M473.3 343.5h0.6M465.1 350.4h0.6M471.5 348.6h0.6M468.6 346.9h0.6M465.4 343.8h0.6M476.5 345.7h0.6M463.6 347.7h0.6M471.9 346.1h0.6M462.9 345.3h0.6M470.5 346.6h0.6M464.3 348.7h0.6M464.2 349.6h0.6M465.1 349.7h0.6M467.1 348.2h0.6M463.3 349.0h0.6M466.1 346.9h0.6M469.0 349.8h0.6M462.1 354.2h0.6M459.8 347.2h0.6M461.6 343.0h0.6M465.7 349.9h0.6M465.7 350.4h0.6M463.2 348.3h0.6M458.8 348.1h0.6M466.1 351.7h0.6M472.2 347.3h0.6M472.5 350.9h0.6M459.9 352.6h0.6M458.1 355.1h0.6M475.1 350.2h0.6M467.6 350.4h0.6M465.8 343.1h0.6M467.3 351.7h0.6M470.4 344.1h0.6M471.4 346.0h0.6M465.7 345.1h0.6M462.3 352.7h0.6M465.2 349.4h0.6M473.2 352.0h0.6M472.8 351.2h0.6M459.8 354.4h0.6M466.4 353.5h0.6M467.8 348.4h0.6M464.4 355.2h0.6M463.8 347.0h0.6M466.7 350.4h0.6M467.7 346.3h0.6M466.5 351.2h0.6M470.9 350.9h0.6M468.6 345.2h0.6M473.7 343.1h0.6M472.1 348.1h0.6M465.5 347.9h0.6M469.5 338.3h0.6M470.2 351.4h0.6M474.8 354.0h0.6M472.0 353.0h0.6M460.7 350.3h0.6M465.1 353.2h0.6M470.0 349.0h0.6M473.9 352.1h0.6M465.4 345.2h0.6M467.1 341.9h0.6M459.9 355.1h0.6M464.1 343.7h0.6M475.2 353.3h0.6M463.3 354.9h0.6M462.0 351.9h0.6M468.9 344.7h0.6M479.5 349.8h0.6M471.0 347.8h0.6M467.3 341.9h0.6M470.4 343.2h0.6M468.2 345.6h0.6M469.4 348.9h0.6M462.8 350.0h0.6M466.7 349.9h0.6M464.8 351.0h0.6M471.3 349.4h0.6M466.0 349.3h0.6M473.7 350.4h0.6M474.2 351.5h0.6M474.9 346.5h0.6M464.0 347.0h0.6M472.8 351.9h0.6M465.4 347.5h0.6M465.5 349.6h0.6M466.7 347.5h0.6M470.8 343.5h0.6M464.9 338.5h0.6M464.8 342.5h0.6M465.9 353.6h0.6M464.3 349.8h0.6M472.4 355.5h0.6M463.2 349.0h0.6M470.2 347.2h0.6M471.2 349.1h0.6M465.3 344.4h0.6M475.9 347.3h0.6M467.5 351.5h0.6M478.0 347.2h0.6M470.0 354.1h0.6M469.9 340.2h0.6M465.7 349.3h0.6M474.9 349.2h0.6M471.2 341.9h0.6M460.3 351.4h0.6M470.3 348.2h0.6M466.8 349.2h0.6M467.3 347.4h0.6M464.0 349.5h0.6M467.9 352.3h0.6M469.0 356.1h0.6M470.1 349.0h0.6M460.3 343.9h0.6M460.3 341.5h0.6M462.7 344.4h0.6M466.3 343.0h0.6M465.4 345.0h0.6M464.9 355.0h0.6M468.7 346.9h0.6M468.8 342.8h0.6M462.7 353.5h0.6M468.0 351.0h0.6M466.1 348.6h0.6M462.2 344.8h0.6M466.0 342.4h0.6M468.0 344.9h0.6M465.1 350.9h0.6M463.8 351.6h0.6M469.0 348.1h0.6M460.8 353.9h0.6M462.0 354.9h0.6M461.9 353.8h0.6M470.4 352.6h0.6M463.5 349.0h0.6M466.8 347.1h0.6M470.7 346.4h0.6M464.8 344.3h0.6M468.6 351.0h0.6M474.7 352.7h0.6M469.2 344.3h0.6M467.2 347.4h0.6M467.3 346.3h0.6M467.8 348.6h0.6M470.4 355.1h0.6M468.0 349.6h0.6M477.1 347.6h0.6M463.1 346.3h0.6M464.6 352.7h0.6M465.1 346.9h0.6M473.0 345.0h0.6M467.9 349.1h0.6M467.7 344.4h0.6M466.0 344.6h0.6M462.4 348.6h0.6M470.8 346.2h0.6M467.7 350.4h0.6M462.1 350.0h0.6M475.1 351.2h0.6M471.2 348.7h0.6M460.7 348.2h0.6M470.6 352.7h0.6M460.4 349.9h0.6M470.5 350.7h0.6M468.9 347.0h0.6M466.7 347.0h0.6M473.4 349.2h0.6M468.4 352.3h0.6M462.8 348.9h0.6M471.0 350.9h0.6M459.2 345.4h0.6M461.0 348.2h0.6M469.2 351.9h0.6M468.4 344.8h0.6M465.2 346.1h0.6M467.3 351.8h0.6M463.4 350.7h0.6M473.7 344.6h0.6M467.9 354.0h0.6M464.0 350.0h0.6M468.1 353.1h0.6M464.4 350.2h0.6M476.4 346.3h0.6M470.7 348.3h0.6M459.8 345.4h0.6M463.0 355.2h0.6M470.5 349.8h0.6M466.6 346.8h0.6M465.4 347.2h0.6M473.5 349.7h0.6M464.7 348.5h0.6M470.0 350.0h0.6M467.1 350.9h0.6M466.2 346.7h0.6M462.3 349.2h0.6M458.9 351.0h0.6M467.0 346.8h0.6M461.2 348.9h0.6M461.7 347.5h0.6M468.0 347.1h0.6M465.5 353.5h0.6M463.7 353.2h0.6M463.0 348.8h0.6M472.3 350.8h0.6M462.5 347.9h0.6M458.5 345.1h0.6M471.8 345.3h0.6M466.1 346.1h0.6M464.8 345.3h0.6M463.2 351.4h0.6M468.6 350.1h0.6M470.2 351.5h0.6M468.0 352.0h0.6M466.1 341.2h0.6M460.9 352.8h0.6M458.2 349.4h0.6M475.1 350.1h0.6M471.5 349.2h0.6M463.3 341.7h0.6M472.3 354.9h0.6M461.5 347.2h0.6M470.0 349.4h0.6M468.3 346.8h0.6M464.8 345.2h0.6M462.2 346.0h0.6M471.4 347.9h0.6M464.8 348.7h0.6M459.1 355.5h0.6M470.6 351.7h0.6M468.5 348.4h0.6M465.2 347.0h0.6M467.0 352.9h0.6M463.8 348.2h0.6M459.9 350.1h0.6M463.7 355.9h0.6M475.6 345.6h0.6M464.2 345.3h0.6M461.1 343.4h0.6M464.7 348.1h0.6M463.6 348.3h0.6M468.3 348.5h0.6M462.3 346.0h0.6M469.5 348.6h0.6M472.1 351.1h0.6M473.3 349.1h0.6M474.5 350.1h0.6M465.3 347.9h0.6M472.3 343.7h0.6M464.2 351.1h0.6M470.6 344.3h0.6M470.3 349.7h0.6M473.3 348.7h0.6M467.5 346.5h0.6M463.6 356.4h0.6M467.8 346.1h0.6M468.9 346.7h0.6M467.5 345.0h0.6M467.2 343.5h0.6M466.9 345.9h0.6M463.7 347.6h0.6M468.8 348.1h0.6M474.7 348.4h0.6M472.5 347.4h0.6M472.3 351.7h0.6M464.7 345.3h0.6M462.3 347.2h0.6M469.6 347.9h0.6M468.9 346.7h0.6M465.4 347.2h0.6M463.9 350.1h0.6M458.3 348.9h0.6M457.7 348.5h0.6M467.7 352.3h0.6M467.0 347.6h0.6M464.8 351.7h0.6M466.0 347.2h0.6M471.4 342.0h0.6M468.9 350.8h0.6M468.3 341.4h0.6M467.2 343.9h0.6M472.2 350.1h0.6M474.7 354.6h0.6M465.6 351.0h0.6M467.7 348.4h0.6M472.6 350.6h0.6M476.7 354.5h0.6M467.7 339.4h0.6M466.1 346.4h0.6M464.1 337.3h0.6M471.3 349.8h0.6M470.4 355.6h0.6M464.1 346.7h0.6M458.3 353.2h0.6M468.7 344.7h0.6M472.7 350.9h0.6M469.3 354.7h0.6M458.9 346.7h0.6M464.5 352.1h0.6M478.3 355.5h0.6M461.1 344.7h0.6M467.0 344.7h0.6M466.2 342.3h0.6M466.4 349.0h0.6M468.9 347.4h0.6M458.8 351.9h0.6M465.4 347.4h0.6M460.2 351.1h0.6M462.7 347.4h0.6M464.4 346.5h0.6M468.6 351.7h0.6M465.1 352.9h0.6M467.2 345.8h0.6M461.4 354.7h0.6M469.3 349.6h0.6M466.5 347.0h0.6M468.6 345.4h0.6M464.2 356.2h0.6M464.1 349.7h0.6M464.5 347.2h0.6M465.3 344.1h0.6M463.3 348.6h0.6M464.7 341.3h0.6M461.6 352.1h0.6M464.6 346.0h0.6M466.7 349.2h0.6M458.9 355.8h0.6M465.5 349.4h0.6M475.9 347.3h0.6M468.8 345.3h0.6M461.9 352.8h0.6M464.7 343.5h0.6M471.8 350.6h0.6M460.1 345.4h0.6M472.4 352.4h0.6M475.1 351.3h0.6M470.5 349.3h0.6M464.9 350.7h0.6M470.3 346.5h0.6M470.9 349.6h0.6M462.1 341.2h0.6M475.6 349.3h0.6M460.6 343.4h0.6M467.3 348.4h0.6M471.1 347.4h0.6M467.2 341.7h0.6M461.4 348.3h0.6M465.7 347.7h0.6M478.9 350.0h0.6M471.4 346.4h0.6M468.2 350.3h0.6M470.0 347.7h0.6M474.3 345.7h0.6M474.6 346.9h0.6M467.5 350.7h0.6M479.9 344.0h0.6M467.1 349.9h0.6M469.6 343.9h0.6M469.4 345.3h0.6M468.0 347.4h0.6M459.9 348.2h0.6M466.9 348.9h0.6M465.3 347.5h0.6M463.5 349.3h0.6M459.6 340.6h0.6M461.9 352.8h0.6M463.7 350.0h0.6M475.3 345.1h0.6M464.6 346.7h0.6M460.7 354.2h0.6M468.4 346.6h0.6M462.9 348.6h0.6M472.2 348.0h0.6M467.6 346.6h0.6M459.8 347.8h0.6M463.2 355.1h0.6M471.4 349.2h0.6M471.9 341.6h0.6M457.8 353.0h0.6M472.4 343.7h0.6M468.7 347.3h0.6M470.3 346.3h0.6M459.8 346.0h0.6M471.9 350.0h0.6M461.7 350.3h0.6M463.5 346.8h0.6M470.7 348.5h0.6M465.0 354.7h0.6M464.3 352.1h0.6M463.6 347.4h0.6M467.5 336.5h0.6M461.9 350.5h0.6M460.5 349.5h0.6M465.1 345.1h0.6M470.0 350.4h0.6M462.9 347.9h0.6M469.4 349.2h0.6M465.8 348.5h0.6M460.8 347.7h0.6M469.7 348.4h0.6M460.5 348.6h0.6M466.0 347.5h0.6M464.4 345.7h0.6M472.4 345.7h0.6M467.8 344.4h0.6M466.4 349.2h0.6M458.9 348.5h0.6M473.1 351.9h0.6M470.8 353.0h0.6M468.2 342.3h0.6M466.8 352.6h0.6M468.1 349.1h0.6M470.9 350.4h0.6M469.7 345.1h0.6M468.1 348.5h0.6M470.3 349.3h0.6M464.1 347.8h0.6M472.4 350.3h0.6M469.2 350.8h0.6M462.6 348.0h0.6M459.4 351.5h0.6M460.2 350.7h0.6M461.7 340.6h0.6M469.8 348.3h0.6M468.9 350.7h0.6M472.2 349.9h0.6M459.6 350.8h0.6M458.4 353.4h0.6M470.4 350.4h0.6M470.3 350.5h0.6M465.3 350.5h0.6M463.6 350.8h0.6M474.6 348.8h0.6M473.3 344.8h0.6M466.0 349.1h0.6M464.0 348.2h0.6M469.1 348.6h0.6M462.1 351.9h0.6M475.5 342.8h0.6M459.9 350.8h0.6M466.3 346.6h0.6M465.9 347.8h0.6M468.5 344.7h0.6M459.5 344.9h0.6M468.9 346.8h0.6M458.5 349.4h0.6M465.2 346.4h0.6M470.2 346.3h0.6M459.6 344.3h0.6M466.9 345.4h0.6M466.5 351.0h0.6M480.6 346.4h0.6M470.6 350.2h0.6M465.4 344.8h0.6M468.9 342.7h0.6M473.0 352.2h0.6M458.3 344.7h0.6M469.8 349.5h0.6M465.0 350.5h0.6M476.2 349.1h0.6M459.1 345.5h0.6M466.1 347.4h0.6M464.5 348.7h0.6M462.8 349.9h0.6M468.2 344.3h0.6M469.5 345.2h0.6M461.6 347.5h0.6M468.7 345.4h0.6M463.2 349.2h0.6" stroke="#000" stroke-width="0.6" opacity="0.8" fill="none"/>
<path d="M462.7 342.4h0.55M476.3 349.4h0.55M465.9 346.9h0.55M459.4 349.3h0.55M474.4 343.2h0.55M461.3 352.0h0.55M466.1 355.8h0.55M469.7 347.1h0.55M461.4 349.9h0.55M459.6 341.5h0.55M458.8 344.8h0.55M468.8 340.2h0.55M466.6 348.0h0.55M487.6 347.1h0.55M464.4 354.1h0.55M465.9 339.7h0.55M460.6 346.3h0.55M475.9 342.2h0.55M470.5 344.7h0.55M464.3 350.5h0.55M482.0 354.7h0.55M462.7 351.5h0.55M460.2 342.1h0.55M469.3 355.8h0.55M465.7 345.7h0.55M461.5 349.9h0.55M473.1 348.2h0.55M473.3 350.4h0.55M471.2 340.9h0.55M464.3 350.0h0.55M465.7 345.7h0.55M462.1 341.0h0.55M464.4 352.1h0.55M468.2 349.1h0.55M467.4 346.7h0.55M477.3 349.0h0.55M482.6 340.2h0.55M480.4 345.6h0.55M469.5 353.0h0.55M478.4 352.8h0.55M460.3 348.6h0.55M469.0 346.0h0.55M471.2 341.4h0.55M473.6 345.2h0.55M464.8 351.0h0.55M462.7 348.9h0.55M471.5 350.1h0.55M484.6 351.4h0.55M474.0 348.3h0.55M465.8 350.0h0.55M480.1 348.2h0.55M471.7 346.9h0.55M473.4 344.3h0.55M481.1 350.3h0.55M460.0 339.9h0.55M477.9 346.5h0.55M464.6 346.9h0.55M478.1 350.8h0.55M479.4 347.0h0.55M464.0 350.3h0.55M459.4 347.5h0.55M473.2 347.1h0.55M468.7 345.7h0.55M480.7 343.6h0.55M480.4 347.0h0.55M470.0 351.0h0.55M472.1 351.8h0.55M471.1 350.8h0.55M464.0 342.0h0.55M468.3 343.7h0.55M479.6 347.6h0.55M461.5 343.6h0.55M476.8 350.6h0.55M476.7 348.6h0.55M465.2 347.8h0.55M462.8 342.8h0.55M476.4 346.7h0.55M472.2 344.7h0.55M481.4 354.7h0.55M475.8 342.4h0.55M464.4 348.1h0.55M464.1 341.9h0.55M478.0 343.9h0.55M463.0 350.7h0.55M476.4 351.9h0.55M459.6 343.8h0.55M466.0 355.3h0.55M460.5 351.9h0.55M459.9 342.3h0.55M458.5 346.9h0.55M462.1 345.4h0.55M471.4 340.2h0.55M462.7 353.1h0.55M475.3 346.9h0.55M478.4 350.5h0.55M462.7 352.6h0.55M468.4 350.6h0.55M474.6 351.5h0.55M469.5 346.4h0.55M462.1 350.7h0.55M471.5 328.4h0.55M460.2 349.5h0.55M463.2 345.5h0.55M467.1 345.1h0.55M481.0 348.0h0.55M464.6 346.2h0.55M484.9 348.0h0.55M481.5 340.4h0.55M458.7 346.7h0.55M478.4 346.5h0.55M468.5 336.7h0.55M470.1 336.6h0.55M459.4 340.2h0.55M460.0 351.0h0.55M466.7 344.1h0.55M472.9 344.7h0.55M460.7 339.4h0.55M477.3 346.7h0.55M462.2 348.6h0.55M465.2 351.7h0.55M467.0 351.3h0.55M472.5 350.7h0.55M471.2 345.9h0.55M468.5 345.1h0.55M458.3 335.5h0.55M461.2 344.7h0.55M467.3 350.1h0.55M481.9 340.8h0.55M464.7 345.3h0.55M472.9 339.2h0.55M475.7 347.9h0.55M464.9 354.1h0.55M469.3 343.3h0.55M463.8 344.8h0.55M468.2 350.2h0.55M488.7 343.0h0.55M457.9 354.1h0.55M469.2 344.4h0.55M482.9 345.5h0.55M468.3 345.8h0.55M464.1 349.7h0.55M476.1 356.0h0.55M466.1 345.1h0.55M480.2 344.7h0.55M473.1 343.7h0.55M469.0 345.9h0.55M460.2 349.7h0.55M482.9 352.7h0.55M465.7 354.6h0.55M462.6 352.4h0.55M459.0 346.0h0.55M466.1 346.1h0.55M468.9 341.5h0.55M480.0 351.6h0.55M466.3 346.3h0.55M459.6 348.2h0.55M479.9 355.4h0.55M465.7 354.7h0.55M470.5 354.5h0.55M472.0 347.8h0.55M468.5 354.7h0.55M465.3 345.6h0.55M475.4 336.8h0.55M472.8 347.8h0.55M457.9 350.9h0.55M465.0 345.9h0.55M465.0 335.3h0.55M475.6 345.0h0.55M478.7 343.8h0.55M489.1 341.7h0.55M471.1 339.6h0.55M463.3 351.1h0.55M458.5 347.5h0.55M470.9 342.7h0.55M479.6 343.5h0.55M477.7 348.2h0.55M458.9 344.9h0.55M475.8 340.1h0.55M465.8 350.5h0.55M464.1 346.4h0.55M466.8 348.9h0.55M469.3 349.2h0.55M470.1 350.8h0.55M483.4 350.6h0.55M475.0 340.2h0.55M462.5 347.0h0.55M480.3 345.7h0.55M460.8 348.0h0.55M469.6 349.9h0.55M464.5 352.5h0.55M472.1 346.4h0.55M470.1 350.3h0.55M471.4 349.1h0.55M469.7 348.5h0.55M461.5 354.2h0.55M471.1 330.5h0.55M467.1 329.3h0.55M465.4 354.2h0.55M470.8 336.7h0.55M477.8 353.0h0.55M466.3 351.3h0.55M473.7 354.9h0.55M469.8 346.6h0.55M472.0 345.3h0.55M464.4 353.2h0.55M471.7 348.7h0.55M468.5 342.1h0.55M466.3 339.2h0.55M474.3 355.1h0.55M462.2 342.1h0.55M462.9 342.1h0.55M462.4 349.1h0.55M476.0 355.4h0.55M467.8 350.3h0.55M468.6 338.8h0.55M471.4 354.7h0.55M475.4 349.6h0.55M468.6 341.8h0.55M464.5 343.2h0.55M468.7 352.6h0.55M464.5 355.4h0.55M477.3 346.1h0.55M475.5 353.0h0.55M474.5 353.6h0.55M469.6 347.8h0.55M462.1 346.9h0.55M467.5 352.5h0.55M460.8 355.5h0.55M478.9 346.1h0.55M464.1 344.6h0.55M459.8 354.8h0.55M470.2 339.3h0.55M469.8 346.9h0.55M482.1 354.7h0.55M493.4 351.3h0.55M466.6 355.1h0.55M488.1 350.9h0.55M461.9 347.1h0.55M458.5 350.2h0.55M464.6 349.8h0.55M462.8 349.0h0.55M462.7 353.8h0.55M478.0 336.4h0.55M474.0 351.9h0.55M479.4 344.2h0.55M460.2 345.5h0.55M462.3 345.5h0.55M475.1 341.1h0.55M458.2 349.5h0.55M467.2 354.4h0.55M470.8 344.0h0.55M457.7 355.6h0.55M458.1 341.6h0.55M461.5 350.6h0.55M475.7 341.8h0.55M461.8 350.7h0.55M462.3 338.1h0.55M465.8 341.9h0.55M465.7 348.5h0.55M471.6 345.2h0.55M471.5 345.9h0.55M472.3 347.8h0.55M470.7 354.5h0.55M476.9 353.5h0.55M479.2 341.5h0.55M466.7 349.6h0.55M473.8 349.0h0.55M482.6 342.2h0.55M463.3 348.7h0.55M461.7 348.6h0.55M467.3 351.2h0.55M461.9 334.6h0.55M463.4 350.9h0.55M462.2 351.1h0.55M478.4 343.3h0.55M470.8 345.7h0.55M480.1 343.0h0.55M469.1 346.3h0.55M468.9 347.7h0.55M472.1 347.3h0.55M475.6 345.6h0.55M464.8 345.0h0.55M468.8 350.2h0.55M464.0 350.6h0.55M464.6 350.6h0.55M475.6 331.7h0.55M466.2 342.2h0.55M463.1 349.2h0.55M460.9 355.8h0.55M459.9 351.4h0.55M468.5 349.7h0.55M480.1 351.4h0.55M467.8 342.6h0.55M460.3 351.7h0.55M492.0 339.0h0.55M462.7 347.6h0.55M468.1 347.1h0.55M471.2 349.2h0.55M468.5 355.1h0.55M464.4 340.3h0.55M469.2 351.3h0.55M468.4 342.3h0.55M461.5 350.9h0.55M466.4 351.1h0.55M468.1 347.4h0.55M469.4 344.3h0.55M459.7 351.5h0.55M476.4 344.8h0.55M472.6 346.3h0.55M470.4 342.7h0.55M478.0 336.3h0.55M464.9 343.8h0.55M474.6 345.0h0.55" stroke="#000" stroke-width="0.55" opacity="0.6" fill="none"/>
<path d="M472.7 353.4h0.5M480.9 350.2h0.5M463.5 351.2h0.5M475.6 351.2h0.5M474.6 340.9h0.5M471.0 347.2h0.5M475.9 335.7h0.5M465.4 352.4h0.5M464.0 351.4h0.5M467.6 346.2h0.5M461.9 348.5h0.5M459.9 344.2h0.5M472.2 334.6h0.5M467.2 339.0h0.5M473.1 351.0h0.5M479.9 348.4h0.5M473.5 347.5h0.5M467.8 344.1h0.5M483.2 355.5h0.5M458.9 345.1h0.5M479.7 345.6h0.5M468.1 341.6h0.5M485.7 350.0h0.5M477.6 353.4h0.5M481.2 337.9h0.5M477.9 350.2h0.5M472.6 340.2h0.5M481.2 337.5h0.5M467.2 345.2h0.5M474.5 339.6h0.5M468.1 348.6h0.5M460.3 338.8h0.5M473.4 348.6h0.5M464.5 341.9h0.5M464.0 354.7h0.5M477.4 345.9h0.5M469.7 345.3h0.5M472.9 338.1h0.5M480.9 345.1h0.5M476.5 350.8h0.5M482.6 350.6h0.5M458.8 340.2h0.5M469.0 342.9h0.5M467.0 345.0h0.5M464.2 332.6h0.5M476.5 345.4h0.5M474.7 339.1h0.5M464.7 344.2h0.5M472.0 348.7h0.5M462.3 346.9h0.5M467.0 348.0h0.5M476.5 344.1h0.5M487.1 338.0h0.5M466.4 349.8h0.5M475.0 347.2h0.5M467.0 346.7h0.5M476.1 343.3h0.5M490.2 348.6h0.5M469.0 343.0h0.5M465.6 348.8h0.5M487.4 353.6h0.5M473.5 356.6h0.5M458.4 338.2h0.5M485.4 343.1h0.5M472.4 352.3h0.5M466.5 354.2h0.5M469.1 345.7h0.5M471.2 339.6h0.5M458.3 354.3h0.5M466.3 348.2h0.5M469.6 335.8h0.5M470.3 352.2h0.5M466.9 351.1h0.5M467.6 341.3h0.5M458.7 341.1h0.5M487.8 333.5h0.5M486.2 343.3h0.5M469.5 343.5h0.5M466.4 351.6h0.5M476.2 354.0h0.5M466.3 350.9h0.5M474.9 335.1h0.5M467.2 346.1h0.5M475.6 338.3h0.5M480.3 339.7h0.5M463.4 341.9h0.5M470.1 356.4h0.5M482.3 340.3h0.5M483.6 344.5h0.5M477.2 345.0h0.5M471.6 338.8h0.5M470.6 340.9h0.5M469.6 336.8h0.5M476.5 355.6h0.5M486.5 340.9h0.5M464.9 349.5h0.5M489.8 343.0h0.5M475.1 340.7h0.5M464.0 333.7h0.5M490.9 348.8h0.5M481.3 355.1h0.5M466.7 344.8h0.5M470.5 341.1h0.5M474.0 342.2h0.5M468.6 343.1h0.5M464.5 332.2h0.5M470.6 336.7h0.5M471.0 345.9h0.5M468.2 353.8h0.5M490.7 340.8h0.5M471.3 348.0h0.5M482.7 346.3h0.5M465.4 348.9h0.5M485.3 341.8h0.5M468.6 349.4h0.5M482.8 342.2h0.5M466.7 339.2h0.5M478.7 351.0h0.5M481.4 336.9h0.5M467.6 354.0h0.5M480.9 346.5h0.5M468.0 347.0h0.5M467.3 339.6h0.5M459.2 342.2h0.5M481.5 337.2h0.5M477.2 342.7h0.5M468.1 345.9h0.5M461.4 334.4h0.5M468.9 351.8h0.5M478.3 334.4h0.5M472.8 346.9h0.5M459.0 341.5h0.5M467.6 349.6h0.5M476.0 353.2h0.5M463.9 354.9h0.5M467.7 339.8h0.5M463.3 348.7h0.5M479.9 349.1h0.5M484.4 345.3h0.5M469.1 351.4h0.5M481.4 344.6h0.5M465.3 351.6h0.5M463.8 346.1h0.5M463.0 340.2h0.5M469.7 349.1h0.5M474.6 335.2h0.5M480.7 343.3h0.5M478.2 354.6h0.5M462.7 338.8h0.5M469.2 344.6h0.5M476.3 342.1h0.5M474.5 348.0h0.5M467.2 336.5h0.5M465.3 354.8h0.5M466.7 339.3h0.5M487.7 342.8h0.5M464.0 341.4h0.5M473.1 337.0h0.5M475.2 339.6h0.5M475.1 341.9h0.5M461.2 346.7h0.5M485.8 335.1h0.5M479.6 341.7h0.5M469.1 342.7h0.5M466.9 338.0h0.5M467.1 350.2h0.5M462.8 351.2h0.5M474.1 332.8h0.5M476.7 346.7h0.5M475.7 350.0h0.5M467.7 344.9h0.5M470.3 339.8h0.5M475.5 332.2h0.5M478.3 346.3h0.5M472.7 350.4h0.5M464.3 347.6h0.5M480.1 348.8h0.5M458.5 347.0h0.5M467.3 352.9h0.5M462.5 348.2h0.5M474.1 340.7h0.5M483.1 345.8h0.5M476.4 344.0h0.5M459.6 349.9h0.5M491.6 344.5h0.5M486.3 338.4h0.5M486.5 345.1h0.5M479.4 346.3h0.5M459.5 353.4h0.5M474.6 355.3h0.5M473.9 350.4h0.5M473.8 353.7h0.5M478.6 345.9h0.5M471.0 355.7h0.5M473.5 341.5h0.5M464.0 336.2h0.5M484.4 341.9h0.5M474.8 341.5h0.5M467.8 336.5h0.5M470.6 342.0h0.5M478.4 351.7h0.5M483.8 349.4h0.5M476.5 339.7h0.5M472.1 337.4h0.5M465.6 331.8h0.5M475.1 347.4h0.5M495.6 343.2h0.5M485.4 347.7h0.5M460.8 338.2h0.5M471.0 351.2h0.5M465.7 344.8h0.5M479.9 334.0h0.5M464.4 335.3h0.5M469.1 342.2h0.5M466.2 349.9h0.5M473.1 337.3h0.5M466.5 352.3h0.5M475.8 340.3h0.5M464.5 348.2h0.5M487.5 346.3h0.5M471.6 338.3h0.5M486.6 341.4h0.5M473.7 332.0h0.5M463.1 347.5h0.5M483.1 342.0h0.5M482.1 343.5h0.5M470.8 348.7h0.5" stroke="#000" stroke-width="0.5" opacity="0.4" fill="none"/>
<ellipse cx="471.30" cy="333.60" rx="6.12" ry="4.08" fill="url(#g2)" opacity="0.4"/>
<path d="M467.8 332.6h0.5M472.5 332.5h0.5M469.8 334.4h0.5M472.5 332.4h0.5M477.3 335.3h0.5M474.4 331.9h0.5M470.7 333.3h0.5M471.3 330.6h0.5M479.0 333.0h0.5M470.7 331.8h0.5M472.9 334.0h0.5M473.7 331.9h0.5M470.3 332.0h0.5M464.8 336.1h0.5M470.5 333.3h0.5M467.1 330.7h0.5M470.3 333.3h0.5M471.3 332.1h0.5M469.7 332.2h0.5M469.0 336.5h0.5M472.9 333.3h0.5M474.0 337.3h0.5M471.8 334.8h0.5M470.9 334.4h0.5M470.3 334.9h0.5M474.5 336.9h0.5M466.5 332.9h0.5M477.4 335.1h0.5M468.8 335.9h0.5M468.4 331.2h0.5M473.4 331.9h0.5M472.5 333.1h0.5M469.7 335.5h0.5M473.3 328.8h0.5M470.3 331.1h0.5M469.3 333.5h0.5M476.5 333.7h0.5M473.3 334.7h0.5M477.0 336.0h0.5M473.1 334.1h0.5M472.0 332.9h0.5M475.3 331.9h0.5M474.5 332.9h0.5M468.3 331.0h0.5M476.0 332.7h0.5M473.8 334.0h0.5M467.2 331.7h0.5M469.3 329.9h0.5M473.5 333.6h0.5M469.6 333.4h0.5M468.4 334.3h0.5M476.2 334.2h0.5M476.9 333.8h0.5M472.7 335.4h0.5M470.5 334.5h0.5M467.3 329.8h0.5M473.2 333.8h0.5M468.2 333.5h0.5M468.3 335.5h0.5M470.9 329.4h0.5M466.3 332.5h0.5M469.8 339.2h0.5M467.2 333.9h0.5M471.6 335.1h0.5M476.7 332.6h0.5M469.5 336.8h0.5M471.9 334.9h0.5M474.5 335.6h0.5M475.0 334.5h0.5M472.0 334.1h0.5M473.3 331.4h0.5M469.8 335.4h0.5M477.0 331.7h0.5M477.1 331.7h0.5M471.8 330.4h0.5M469.4 334.4h0.5M470.2 332.3h0.5M468.9 333.9h0.5M468.9 334.1h0.5M474.7 331.4h0.5M470.8 328.6h0.5M469.3 332.7h0.5M470.0 337.9h0.5M467.9 331.2h0.5M466.5 327.9h0.5M471.0 333.1h0.5M475.1 333.5h0.5M469.5 334.8h0.5M468.6 332.5h0.5M470.0 332.6h0.5" stroke="#000" stroke-width="0.5" opacity="0.55" fill="none"/>
<ellipse cx="496.40" cy="331.20" rx="7.14" ry="3.23" fill="url(#g2)" opacity="0.36" transform="rotate(-60 496.40 331.20)"/>
<path d="M494.3 336.2h0.5M499.7 324.2h0.5M494.6 330.5h0.5M494.8 329.0h0.5M493.2 334.2h0.5M493.6 333.9h0.5M498.8 322.0h0.5M494.3 333.5h0.5M498.3 330.2h0.5M498.4 331.2h0.5M496.9 327.3h0.5M495.2 331.1h0.5M501.1 323.6h0.5M492.5 336.8h0.5M496.7 333.2h0.5M496.7 327.4h0.5M495.2 327.9h0.5M495.9 333.4h0.5M501.1 332.0h0.5M490.9 339.5h0.5M496.0 331.7h0.5M494.4 334.0h0.5M499.3 328.3h0.5M497.7 329.4h0.5M496.0 331.5h0.5M498.5 325.9h0.5M497.5 328.8h0.5M491.2 337.2h0.5M496.3 331.1h0.5M497.7 334.0h0.5M496.6 324.9h0.5M501.9 327.6h0.5M499.1 330.3h0.5M496.8 332.1h0.5M496.4 333.7h0.5M494.5 332.0h0.5M498.1 325.2h0.5M496.6 331.3h0.5M496.0 331.9h0.5M495.6 333.2h0.5M498.3 328.6h0.5M495.1 333.8h0.5M496.7 330.9h0.5M495.0 331.4h0.5M497.8 332.1h0.5M498.5 329.9h0.5M496.7 328.0h0.5M496.9 329.3h0.5M494.2 335.6h0.5M495.8 330.2h0.5M494.6 334.8h0.5M493.3 335.9h0.5M496.4 330.8h0.5M498.4 325.2h0.5M496.9 332.2h0.5M494.5 331.9h0.5M498.8 328.6h0.5M496.8 331.9h0.5M497.4 328.8h0.5M496.4 334.2h0.5M500.8 328.1h0.5M497.4 339.5h0.5M501.0 325.1h0.5M497.2 327.9h0.5M496.4 327.5h0.5M495.6 332.7h0.5M497.5 327.5h0.5M496.1 334.2h0.5M493.4 335.6h0.5M497.6 334.1h0.5M494.9 332.7h0.5M497.1 330.7h0.5M495.8 330.1h0.5M495.4 335.7h0.5M497.2 327.4h0.5M494.9 336.2h0.5M498.1 325.9h0.5M494.7 330.8h0.5M497.0 325.6h0.5M495.7 336.7h0.5M495.6 332.8h0.5M495.4 332.1h0.5M497.6 325.5h0.5M498.3 327.9h0.5M498.9 325.4h0.5M496.9 330.4h0.5M490.0 335.3h0.5M495.1 330.5h0.5M500.9 324.0h0.5M492.8 334.1h0.5M498.2 331.1h0.5M498.2 328.0h0.5M498.3 336.3h0.5M494.0 334.0h0.5M493.1 333.7h0.5M500.1 323.8h0.5M497.0 330.5h0.5M498.0 328.3h0.5M496.4 326.6h0.5M499.4 329.2h0.5M498.0 329.2h0.5M495.6 329.3h0.5M494.9 333.1h0.5M500.3 327.1h0.5M495.0 331.2h0.5M494.6 331.0h0.5M496.7 335.6h0.5M497.3 330.0h0.5M495.7 329.3h0.5M498.9 328.0h0.5" stroke="#000" stroke-width="0.5" opacity="0.55" fill="none"/>
<path d="M498.3 321.0h.5M489.9 330.4h.5M501.9 322.1h.5M494.4 328.0h.5M494.1 327.6h.5M482.0 337.7h.5M485.3 339.0h.5M484.4 336.1h.5M495.0 326.3h.5M486.7 333.7h.5M499.6 320.6h.5M486.4 343.5h.5M496.2 327.6h.5M502.6 317.8h.5M511.3 320.4h.5M488.7 335.9h.5M500.8 322.3h.5M494.7 330.0h.5M503.1 315.3h.5M486.8 333.8h.5M486.6 338.4h.5M492.3 328.1h.5M500.0 314.2h.5M483.2 340.9h.5M481.7 350.5h.5M494.4 317.6h.5M482.6 348.5h.5M499.1 325.0h.5M490.4 329.6h.5M488.3 331.8h.5M488.5 332.7h.5M493.0 332.9h.5M492.3 334.3h.5M487.2 338.0h.5M502.2 316.2h.5M488.9 344.9h.5M497.3 316.3h.5M490.4 334.6h.5M489.9 332.4h.5M492.3 333.4h.5M489.2 323.4h.5M488.2 337.1h.5M485.3 340.2h.5M480.5 341.7h.5M499.8 318.0h.5M481.8 334.0h.5M497.7 325.3h.5M488.5 333.4h.5M490.1 342.2h.5M505.2 315.4h.5M496.5 326.0h.5M478.6 350.3h.5M492.9 332.8h.5M493.9 332.1h.5M493.4 319.9h.5M501.2 328.1h.5M494.5 325.2h.5M496.6 328.5h.5M478.1 345.1h.5M490.3 327.2h.5M493.6 324.3h.5M480.6 335.4h.5M497.8 319.1h.5M497.1 328.7h.5M499.4 321.5h.5M481.6 340.3h.5M503.4 317.0h.5M491.8 330.3h.5M488.7 331.4h.5M489.2 342.5h.5M488.1 329.2h.5M495.6 323.9h.5M505.5 319.7h.5M489.1 331.3h.5M500.9 319.1h.5M486.4 340.8h.5M483.5 346.3h.5M476.2 345.2h.5M489.1 323.5h.5M486.8 338.6h.5M492.8 327.6h.5M497.4 329.5h.5M496.8 324.2h.5M491.3 328.8h.5M491.7 327.6h.5M493.7 334.2h.5M482.6 342.8h.5M497.2 332.2h.5M482.2 343.2h.5M501.3 317.8h.5M495.9 330.4h.5M491.1 334.9h.5M485.8 340.2h.5M486.6 340.2h.5M486.6 334.3h.5M491.5 325.4h.5M492.3 330.2h.5M493.2 337.9h.5M495.9 321.7h.5M498.8 326.0h.5M487.8 338.6h.5M499.4 316.9h.5M476.7 349.5h.5M491.9 327.3h.5M501.3 313.7h.5M492.3 334.9h.5M501.2 324.4h.5M497.8 326.5h.5M491.0 333.2h.5M483.9 341.4h.5M496.5 322.5h.5M485.0 341.7h.5M492.7 325.7h.5M495.3 324.1h.5M500.4 322.7h.5M484.4 340.9h.5M500.4 318.7h.5M497.4 326.8h.5M488.4 329.9h.5M497.5 318.4h.5M491.7 328.2h.5M490.4 332.2h.5M498.1 320.5h.5M496.4 319.7h.5M495.3 319.0h.5M490.1 342.0h.5M496.8 328.0h.5M491.0 342.1h.5M488.3 341.1h.5M496.0 323.4h.5M497.1 319.6h.5M496.5 317.6h.5M481.3 347.6h.5M494.8 320.7h.5M482.1 344.5h.5M485.3 341.6h.5M481.7 343.7h.5M487.6 336.7h.5M500.5 321.5h.5M495.0 322.1h.5M484.4 336.1h.5M492.7 333.3h.5M495.9 321.2h.5M500.0 319.6h.5M494.3 324.1h.5M489.6 331.9h.5M493.2 336.6h.5M494.4 324.6h.5M491.8 327.5h.5M492.4 314.4h.5M482.8 340.7h.5M487.2 332.6h.5M484.3 338.6h.5M484.1 341.4h.5M491.9 329.0h.5M500.7 326.1h.5M488.8 325.7h.5M481.4 340.3h.5M478.6 347.7h.5M485.5 331.9h.5M483.1 340.2h.5M481.4 343.8h.5M492.6 334.4h.5M485.9 341.7h.5M487.4 329.7h.5M485.4 339.8h.5M479.3 345.1h.5M488.6 332.4h.5M503.7 318.6h.5M479.4 345.7h.5M490.9 337.6h.5M485.1 344.8h.5M497.5 320.0h.5M492.1 320.2h.5M493.6 324.8h.5M498.6 321.2h.5M505.5 317.8h.5M482.7 340.8h.5M485.2 340.0h.5M498.2 320.5h.5M491.0 329.6h.5M492.6 332.6h.5M483.3 344.8h.5M497.2 325.9h.5M501.7 314.9h.5M500.2 315.4h.5M500.7 315.9h.5M483.9 347.3h.5M493.7 327.9h.5M484.8 345.3h.5M501.8 316.2h.5M494.8 329.5h.5M488.1 338.4h.5M483.8 342.2h.5M493.1 326.3h.5M479.4 344.1h.5M479.9 343.2h.5M494.0 326.6h.5M491.2 323.8h.5M505.6 325.0h.5M481.8 342.4h.5M505.8 315.7h.5M482.0 342.3h.5M492.0 334.6h.5M481.0 344.1h.5M486.8 336.1h.5M496.4 325.1h.5M500.9 319.7h.5M491.3 340.0h.5M489.1 335.5h.5M486.9 338.0h.5M500.8 324.0h.5M480.1 342.0h.5M493.8 328.1h.5M498.6 321.3h.5M487.1 335.9h.5M487.4 333.2h.5M498.6 320.5h.5M480.8 345.0h.5M497.9 330.3h.5M480.7 343.5h.5M499.6 315.6h.5M498.1 327.0h.5M489.7 337.4h.5M488.2 334.0h.5M501.7 313.4h.5M506.8 316.7h.5M501.1 322.1h.5M488.2 338.4h.5M499.2 324.1h.5M496.2 324.7h.5M480.9 341.3h.5M484.4 342.0h.5M482.4 341.2h.5M480.4 345.7h.5M497.9 329.3h.5M499.2 321.3h.5M489.1 324.5h.5M491.8 319.9h.5M491.3 332.1h.5M491.3 324.7h.5M502.3 317.7h.5M494.9 328.4h.5M481.7 346.6h.5M483.5 335.6h.5M494.8 318.8h.5M498.2 318.9h.5M494.6 326.3h.5M492.7 335.1h.5M481.8 343.1h.5M485.5 340.8h.5M501.8 312.6h.5M488.6 326.9h.5M483.0 339.5h.5M486.1 345.0h.5M500.0 317.8h.5M483.9 343.0h.5M497.2 318.1h.5M496.0 329.0h.5M492.9 333.3h.5M491.8 326.9h.5M481.1 343.1h.5M485.5 344.8h.5M499.6 321.3h.5M499.2 319.1h.5M484.9 339.6h.5M494.4 330.1h.5M480.3 346.1h.5M491.5 339.4h.5M482.3 338.8h.5M477.1 343.3h.5M483.2 335.3h.5M491.2 331.2h.5M491.5 327.1h.5M497.5 319.8h.5M485.3 343.6h.5M495.6 329.5h.5M482.4 341.0h.5M501.5 321.5h.5M498.8 320.4h.5" stroke="#000" stroke-width=".5" opacity="0.2" fill="none"/>
</g>
<rect x="388.80" y="363.50" width="58.00" height="62.30" fill="#fff" stroke="#a9a9a9" stroke-width="0.8"/>
<clipPath id="cJ3"><rect x="389.20" y="363.90" width="57.20" height="61.50"/></clipPath>
<g clip-path="url(#cJ3)" filter="url(#soft)">
<ellipse cx="394.60" cy="417.40" rx="11.47" ry="9.61" fill="url(#g1)" opacity="1.0"/>
<path d="M403.1 420.1h0.6M390.9 418.7h0.6M397.0 412.1h0.6M400.6 415.4h0.6M395.0 415.0h0.6M391.3 419.9h0.6M397.0 416.7h0.6M395.7 421.0h0.6M395.7 422.5h0.6M398.7 417.3h0.6M391.9 419.0h0.6M406.6 406.3h0.6M391.7 412.5h0.6M394.8 416.5h0.6M390.6 422.0h0.6M395.7 418.9h0.6M396.8 413.6h0.6M394.2 415.5h0.6M395.4 416.5h0.6M392.5 416.5h0.6M396.6 417.1h0.6M392.7 422.5h0.6M390.1 411.8h0.6M399.0 416.3h0.6M395.9 417.9h0.6M397.6 414.0h0.6M393.6 416.3h0.6M398.8 423.0h0.6M390.7 419.4h0.6M389.7 418.9h0.6M391.1 418.8h0.6M396.7 421.5h0.6M395.1 412.5h0.6M395.5 421.7h0.6M392.1 413.2h0.6M393.6 419.6h0.6M398.0 419.9h0.6M389.9 415.2h0.6M394.8 419.7h0.6M396.7 413.5h0.6M399.3 417.0h0.6M396.6 415.6h0.6M391.9 419.3h0.6M391.2 420.8h0.6M399.4 417.4h0.6M392.2 423.8h0.6M395.4 417.5h0.6M390.3 417.7h0.6M389.5 415.6h0.6M395.1 424.9h0.6M389.9 419.7h0.6M398.1 415.3h0.6M397.4 411.4h0.6M393.5 419.2h0.6M397.1 420.3h0.6M391.0 414.0h0.6M400.2 423.7h0.6M396.7 417.4h0.6M398.6 418.6h0.6M394.2 412.4h0.6M392.2 415.9h0.6M397.4 417.8h0.6M398.4 415.5h0.6M398.2 423.4h0.6M390.3 416.3h0.6M399.7 412.3h0.6M394.8 420.0h0.6M390.0 424.3h0.6M392.6 415.3h0.6M394.4 422.6h0.6M394.3 417.2h0.6M391.5 412.2h0.6M396.6 413.5h0.6M395.1 420.8h0.6M399.3 413.4h0.6M392.2 422.1h0.6M398.2 419.4h0.6M389.7 417.7h0.6M397.0 420.0h0.6M394.8 413.8h0.6M397.9 422.9h0.6M397.7 411.1h0.6M398.6 417.7h0.6M396.3 422.9h0.6M392.2 419.2h0.6M403.5 417.4h0.6M390.5 411.4h0.6M399.9 423.2h0.6M393.8 423.4h0.6M402.6 421.1h0.6M390.2 409.9h0.6M397.0 416.1h0.6M398.3 420.9h0.6M398.4 418.4h0.6M396.9 416.5h0.6M400.6 421.9h0.6M404.8 415.4h0.6M394.0 415.0h0.6M389.6 417.0h0.6M397.8 411.3h0.6M392.6 414.1h0.6M400.4 421.1h0.6M393.5 423.9h0.6M391.0 415.8h0.6M397.8 412.3h0.6M390.4 415.3h0.6M394.6 414.9h0.6M393.4 415.0h0.6M390.6 420.8h0.6M394.0 423.6h0.6M399.9 418.2h0.6M390.5 420.4h0.6M390.6 416.9h0.6M393.1 414.3h0.6M389.8 417.6h0.6M400.5 417.8h0.6M398.5 417.6h0.6M390.0 420.5h0.6M389.9 416.1h0.6M395.7 406.9h0.6M401.8 414.3h0.6M390.5 417.0h0.6M390.8 409.0h0.6M391.6 413.2h0.6M389.5 419.0h0.6M395.4 416.9h0.6M394.4 417.6h0.6M391.0 417.8h0.6M394.4 420.7h0.6M397.1 416.7h0.6M391.5 412.7h0.6M392.3 424.1h0.6M400.0 418.7h0.6M400.9 415.8h0.6M390.9 413.4h0.6M396.6 414.1h0.6M394.9 411.8h0.6M398.6 418.6h0.6M395.0 420.9h0.6M393.9 412.0h0.6M392.7 413.3h0.6M390.7 420.8h0.6M398.7 418.0h0.6M395.6 413.7h0.6M401.6 421.8h0.6M397.1 416.6h0.6M395.3 411.0h0.6M393.6 419.5h0.6M396.8 424.6h0.6M396.2 420.6h0.6M396.1 420.0h0.6M396.8 418.3h0.6M391.6 415.4h0.6M397.8 423.1h0.6M393.0 412.6h0.6M401.4 415.7h0.6M399.3 418.5h0.6M395.8 413.2h0.6M391.9 423.1h0.6M393.8 415.6h0.6M393.7 419.2h0.6M395.0 418.1h0.6M400.6 422.1h0.6M395.8 422.9h0.6M394.5 415.8h0.6M396.1 416.3h0.6M391.5 422.6h0.6M398.7 418.6h0.6M405.6 416.8h0.6M396.0 412.9h0.6M394.7 423.3h0.6M394.0 418.9h0.6M395.9 418.0h0.6M397.0 421.7h0.6M392.3 419.2h0.6M396.4 423.5h0.6M394.7 408.8h0.6M395.1 413.8h0.6M394.9 416.4h0.6M396.2 415.7h0.6M389.5 417.9h0.6M402.4 412.3h0.6M391.1 420.8h0.6M393.9 413.6h0.6M398.5 419.5h0.6M400.9 415.0h0.6M397.2 415.4h0.6M402.5 413.5h0.6M400.8 421.5h0.6M392.4 417.4h0.6M394.6 417.6h0.6M405.4 418.1h0.6M393.8 417.8h0.6M393.2 422.5h0.6M399.4 417.3h0.6M396.2 417.3h0.6M391.3 423.1h0.6M393.4 415.5h0.6M394.1 414.8h0.6M391.3 418.4h0.6M395.3 417.7h0.6M395.4 412.2h0.6M392.9 416.9h0.6M391.9 415.4h0.6M395.6 420.0h0.6M390.3 421.7h0.6M393.4 416.8h0.6M392.5 417.8h0.6M395.2 409.0h0.6M399.6 409.1h0.6M395.2 416.6h0.6M402.9 416.0h0.6M397.4 419.2h0.6M392.3 414.6h0.6M392.1 419.8h0.6M394.2 415.4h0.6M390.9 421.8h0.6M399.3 417.3h0.6M398.0 421.5h0.6M395.9 413.8h0.6M400.3 411.0h0.6M392.4 420.2h0.6M393.7 420.3h0.6M395.1 420.2h0.6M394.8 422.1h0.6M393.2 418.6h0.6M392.7 417.7h0.6M391.1 414.8h0.6M390.6 420.7h0.6M403.1 418.3h0.6M393.0 420.6h0.6M400.9 415.5h0.6M395.7 411.7h0.6M389.5 423.4h0.6M399.3 415.8h0.6M392.4 414.5h0.6M394.2 410.4h0.6M398.8 414.2h0.6M393.1 418.8h0.6M392.8 414.9h0.6M392.9 417.9h0.6M399.0 417.8h0.6M395.6 417.8h0.6M390.6 416.1h0.6M391.9 419.6h0.6M394.8 409.2h0.6M391.4 420.8h0.6M394.4 420.4h0.6M392.9 413.9h0.6M399.0 416.1h0.6M399.5 413.8h0.6M392.6 414.5h0.6M395.3 414.6h0.6M395.8 409.7h0.6M390.0 409.0h0.6M392.4 418.7h0.6M394.5 417.6h0.6M401.9 417.6h0.6M395.7 413.6h0.6M401.0 420.9h0.6M395.9 422.2h0.6M396.7 412.3h0.6M392.4 418.4h0.6M399.7 415.8h0.6M398.0 419.0h0.6M393.3 418.7h0.6M401.3 422.8h0.6M392.4 411.8h0.6M394.3 421.3h0.6M395.6 418.2h0.6M394.1 415.6h0.6M398.0 422.8h0.6M395.5 412.0h0.6M389.6 415.0h0.6M391.0 418.6h0.6M392.8 415.8h0.6M395.4 412.5h0.6M392.4 415.9h0.6M395.7 417.0h0.6M394.5 419.4h0.6M393.5 413.0h0.6M396.5 412.8h0.6M391.5 417.0h0.6M391.8 422.2h0.6M398.4 418.4h0.6M395.6 422.5h0.6M393.5 417.8h0.6M392.9 413.7h0.6M396.5 416.9h0.6M395.6 419.0h0.6M391.6 418.4h0.6M390.2 418.0h0.6M394.1 413.3h0.6M392.7 408.6h0.6M392.4 416.9h0.6M394.5 419.6h0.6M394.3 423.8h0.6M399.3 419.5h0.6M394.5 424.0h0.6M397.0 422.1h0.6M400.4 421.2h0.6M391.5 415.0h0.6M400.0 424.6h0.6M396.5 422.9h0.6M392.7 414.9h0.6M392.9 411.9h0.6M391.5 416.8h0.6M399.5 412.0h0.6M395.6 415.3h0.6M393.1 417.6h0.6M392.1 416.0h0.6M398.2 421.1h0.6M389.6 417.2h0.6M403.1 416.6h0.6M395.1 417.6h0.6M401.0 425.1h0.6M402.2 421.8h0.6M403.3 407.8h0.6M401.0 417.9h0.6M397.1 419.4h0.6M392.7 416.7h0.6M393.2 421.4h0.6M393.4 415.0h0.6M391.3 416.1h0.6M389.7 414.6h0.6M390.1 415.2h0.6M399.2 420.4h0.6M394.8 420.6h0.6M396.6 414.6h0.6M399.5 412.5h0.6M400.1 420.1h0.6M395.1 415.5h0.6M395.4 422.2h0.6M403.2 408.1h0.6M402.3 418.1h0.6M404.2 421.2h0.6M396.8 414.5h0.6M396.7 415.0h0.6M401.4 423.1h0.6M396.2 414.0h0.6M390.4 423.2h0.6M395.7 419.0h0.6M394.2 418.2h0.6M394.1 416.3h0.6M392.3 417.5h0.6M392.2 420.6h0.6M396.0 420.5h0.6M396.8 417.5h0.6M399.2 415.2h0.6M397.4 417.0h0.6M394.7 413.4h0.6M397.4 422.4h0.6M395.0 413.7h0.6M395.2 422.1h0.6M397.9 415.2h0.6M399.4 416.8h0.6M395.0 414.3h0.6M389.9 411.1h0.6M396.3 416.6h0.6M397.8 414.5h0.6M394.1 420.3h0.6M398.4 414.0h0.6M396.2 419.7h0.6M395.0 420.9h0.6M405.3 419.9h0.6M398.3 411.4h0.6M390.9 419.4h0.6M393.6 417.4h0.6M394.7 419.1h0.6M395.0 417.7h0.6M391.5 418.6h0.6M392.1 422.2h0.6M394.4 424.3h0.6M396.8 417.5h0.6M395.3 413.2h0.6M398.6 419.0h0.6M396.0 413.0h0.6M393.9 416.0h0.6M396.3 421.2h0.6M395.7 418.9h0.6M393.4 415.8h0.6M397.3 420.7h0.6M393.5 418.1h0.6M390.5 416.0h0.6M393.7 420.0h0.6M398.5 417.7h0.6M389.6 417.8h0.6M393.8 416.3h0.6M404.1 415.4h0.6M400.7 418.1h0.6M396.5 415.6h0.6M394.1 416.5h0.6M392.6 414.9h0.6M390.7 411.1h0.6M394.0 416.1h0.6M395.2 423.4h0.6M396.4 420.7h0.6M395.4 419.0h0.6M393.4 423.0h0.6M390.0 416.5h0.6M396.9 420.2h0.6M390.5 418.7h0.6M397.9 412.3h0.6M403.7 417.1h0.6M397.2 416.7h0.6M394.5 421.4h0.6M393.0 413.3h0.6M400.4 419.6h0.6M394.7 415.7h0.6M393.8 424.1h0.6M395.9 421.0h0.6M393.3 419.7h0.6M393.4 408.6h0.6M400.9 424.6h0.6M391.7 414.6h0.6M401.2 420.1h0.6M397.0 418.2h0.6M402.0 420.4h0.6M397.2 419.3h0.6M394.1 419.1h0.6M393.9 417.3h0.6M391.9 416.4h0.6M390.5 424.3h0.6M398.1 418.7h0.6M392.3 414.0h0.6M394.4 410.2h0.6M396.4 422.7h0.6M392.4 419.9h0.6M393.3 411.2h0.6M406.1 411.1h0.6M396.5 415.4h0.6M400.5 410.1h0.6M392.3 417.5h0.6M391.5 418.2h0.6M390.9 421.6h0.6M399.7 424.6h0.6M398.9 421.6h0.6M393.5 424.8h0.6M397.3 421.1h0.6M405.1 420.9h0.6M395.6 415.0h0.6M390.4 420.5h0.6M390.0 415.4h0.6M395.8 413.7h0.6M394.0 419.1h0.6M395.9 413.3h0.6M395.1 420.4h0.6M394.4 420.1h0.6M391.8 410.6h0.6M397.4 410.7h0.6M393.6 417.7h0.6M397.6 414.9h0.6M389.6 417.0h0.6M398.5 419.1h0.6M397.5 419.3h0.6M394.5 419.6h0.6M395.3 418.5h0.6M394.5 419.6h0.6M398.3 418.1h0.6M396.2 419.2h0.6M400.1 417.8h0.6M396.4 409.3h0.6M396.4 423.2h0.6M391.7 416.2h0.6M394.0 423.2h0.6M399.2 415.8h0.6M393.2 413.0h0.6M391.7 421.8h0.6M398.4 417.3h0.6M393.6 413.6h0.6M394.0 415.0h0.6M395.5 413.1h0.6M396.9 419.2h0.6M401.0 418.7h0.6M401.9 422.1h0.6M396.8 412.5h0.6M392.9 415.7h0.6M393.6 412.1h0.6M396.0 416.1h0.6M399.2 423.0h0.6M397.5 416.9h0.6M400.1 417.3h0.6M397.1 417.6h0.6M390.4 419.3h0.6M393.8 422.3h0.6M394.4 419.2h0.6M402.3 418.3h0.6M395.1 417.1h0.6M397.5 423.4h0.6M391.0 420.7h0.6M399.5 416.3h0.6M391.1 414.7h0.6M389.8 411.4h0.6M393.2 416.2h0.6M394.5 410.3h0.6M390.5 417.8h0.6M403.7 424.9h0.6M392.5 416.4h0.6M393.7 415.8h0.6M399.5 421.6h0.6M391.8 412.6h0.6M396.9 413.7h0.6M391.7 420.6h0.6M389.8 418.1h0.6M389.7 414.8h0.6M391.7 415.5h0.6M397.4 413.9h0.6M395.7 408.9h0.6M398.7 417.2h0.6M401.4 418.7h0.6M395.2 411.4h0.6M392.6 417.4h0.6M395.7 416.7h0.6M393.6 413.7h0.6M403.8 418.8h0.6M390.2 413.5h0.6M395.3 414.8h0.6M394.1 413.6h0.6M392.9 412.6h0.6M398.3 416.6h0.6M395.7 421.2h0.6M393.9 418.0h0.6M400.4 419.9h0.6M395.2 419.1h0.6M391.4 415.8h0.6M398.7 422.7h0.6M401.0 409.2h0.6M395.3 415.5h0.6M390.2 418.9h0.6M395.9 417.7h0.6M400.5 420.6h0.6M393.6 415.5h0.6M394.3 418.3h0.6M394.1 415.9h0.6M397.8 421.3h0.6M390.8 421.6h0.6M396.5 424.2h0.6M405.0 419.4h0.6M394.6 415.6h0.6M393.8 418.3h0.6M403.3 424.6h0.6M395.7 420.1h0.6M393.1 417.6h0.6M395.5 415.3h0.6M392.1 414.7h0.6M392.6 414.6h0.6M400.3 415.1h0.6M390.2 410.2h0.6M395.5 422.1h0.6M390.4 415.9h0.6M393.2 417.9h0.6M392.7 417.4h0.6M401.5 420.6h0.6M396.8 415.6h0.6M391.8 421.4h0.6M390.8 415.3h0.6M395.3 413.6h0.6M396.2 417.0h0.6M394.7 416.5h0.6M394.8 414.9h0.6M391.0 413.5h0.6M401.5 417.7h0.6M397.0 421.7h0.6M395.1 422.6h0.6M398.8 417.2h0.6M399.2 413.3h0.6M391.5 414.4h0.6M401.2 409.3h0.6M394.2 415.4h0.6M391.9 415.1h0.6M397.2 412.1h0.6M394.0 417.2h0.6M396.7 418.0h0.6M397.6 417.3h0.6M396.4 422.9h0.6" stroke="#000" stroke-width="0.6" opacity="0.8" fill="none"/>
<path d="M399.2 413.2h0.55M406.3 410.7h0.55M391.1 421.5h0.55M394.6 409.7h0.55M406.4 414.9h0.55M399.3 417.2h0.55M389.6 409.0h0.55M398.7 418.6h0.55M406.5 411.6h0.55M396.6 413.3h0.55M403.2 408.2h0.55M393.4 422.0h0.55M393.2 417.0h0.55M391.1 403.1h0.55M390.5 409.2h0.55M389.5 422.0h0.55M393.6 413.0h0.55M394.5 416.9h0.55M399.8 409.6h0.55M393.3 409.9h0.55M395.7 421.9h0.55M398.8 410.7h0.55M396.8 416.7h0.55M393.6 413.2h0.55M396.6 409.5h0.55M395.2 422.0h0.55M413.7 412.6h0.55M390.3 420.8h0.55M402.4 403.7h0.55M395.9 424.3h0.55M401.1 415.5h0.55M392.5 415.9h0.55M397.7 409.7h0.55M408.8 418.6h0.55M397.8 420.9h0.55M396.1 410.1h0.55M399.6 417.9h0.55M407.4 410.1h0.55M403.6 415.2h0.55M404.3 416.4h0.55M401.2 415.8h0.55M401.9 412.6h0.55M391.0 416.9h0.55M399.3 412.6h0.55M403.0 415.0h0.55M396.7 415.0h0.55M392.5 408.5h0.55M390.7 420.4h0.55M402.3 422.6h0.55M405.6 410.1h0.55M409.0 418.4h0.55M393.2 419.6h0.55M400.7 421.2h0.55M395.6 415.5h0.55M408.8 419.8h0.55M401.9 412.7h0.55M401.3 422.3h0.55M401.9 414.9h0.55M405.2 403.1h0.55M390.5 419.7h0.55M405.7 425.0h0.55M397.5 407.8h0.55M400.3 416.3h0.55M398.9 419.8h0.55M392.6 415.2h0.55M391.0 405.8h0.55M394.4 410.4h0.55M401.4 418.0h0.55M393.7 405.4h0.55M396.0 424.5h0.55M389.5 409.5h0.55M405.7 411.5h0.55M389.6 420.4h0.55M391.8 410.9h0.55M398.8 413.0h0.55M392.2 420.1h0.55M402.7 419.3h0.55M393.3 413.8h0.55M394.0 411.2h0.55M399.2 412.5h0.55M411.3 417.9h0.55M409.8 422.4h0.55M390.6 422.0h0.55M400.2 408.8h0.55M411.4 417.8h0.55M402.7 416.9h0.55M401.3 421.4h0.55M399.8 420.1h0.55M398.6 421.9h0.55M398.1 405.8h0.55M397.9 424.4h0.55M389.8 416.6h0.55M400.9 423.3h0.55M407.5 413.5h0.55M397.5 419.0h0.55M408.7 411.7h0.55M394.6 409.7h0.55M399.4 417.9h0.55M392.7 417.0h0.55M404.9 423.9h0.55M402.6 407.3h0.55M399.3 425.1h0.55M401.0 415.1h0.55M394.2 413.1h0.55M401.3 421.4h0.55M392.7 412.7h0.55M390.8 411.3h0.55M399.4 410.9h0.55M391.1 412.7h0.55M393.8 415.7h0.55M399.7 419.5h0.55M390.4 413.7h0.55M399.9 413.0h0.55M398.0 420.2h0.55M392.0 417.6h0.55M391.2 410.4h0.55M397.4 419.9h0.55M398.4 424.5h0.55M396.3 418.6h0.55M391.3 417.6h0.55M397.8 399.0h0.55M400.8 419.6h0.55M397.7 406.7h0.55M392.8 405.9h0.55M389.5 411.3h0.55M391.3 409.8h0.55M401.4 414.0h0.55M389.5 411.3h0.55M397.8 422.9h0.55M399.1 417.3h0.55M394.4 422.7h0.55M396.7 411.5h0.55M389.5 412.7h0.55M397.1 422.2h0.55M396.3 424.5h0.55M408.1 412.8h0.55M402.7 421.4h0.55M404.4 416.6h0.55M403.2 413.4h0.55M397.5 410.3h0.55M391.2 419.8h0.55M402.7 413.1h0.55M391.6 423.7h0.55M401.5 416.9h0.55M398.5 402.8h0.55M392.0 417.6h0.55M394.7 408.4h0.55M397.5 417.5h0.55M390.9 411.4h0.55M390.6 414.9h0.55M398.1 412.0h0.55M400.5 414.5h0.55M408.5 410.5h0.55M390.2 422.8h0.55M390.6 409.5h0.55M398.1 419.9h0.55M400.3 416.6h0.55M400.1 415.2h0.55M404.3 418.5h0.55M394.4 423.6h0.55M393.1 423.0h0.55M397.7 413.1h0.55M397.4 417.6h0.55M390.1 416.3h0.55M389.5 418.9h0.55M397.9 418.0h0.55M391.5 420.1h0.55M391.6 417.6h0.55M394.2 414.8h0.55M401.4 405.0h0.55M397.1 416.8h0.55M396.8 412.7h0.55M402.2 410.4h0.55M401.7 420.9h0.55M390.8 411.5h0.55M395.3 415.1h0.55M392.9 411.7h0.55M396.4 422.5h0.55M397.7 418.6h0.55M393.5 413.7h0.55M396.2 420.1h0.55M394.3 424.0h0.55M391.1 403.5h0.55M391.0 417.0h0.55M396.9 415.6h0.55M394.6 407.5h0.55M397.6 423.4h0.55M401.5 418.9h0.55M394.5 416.3h0.55M396.2 422.8h0.55M403.2 413.4h0.55M397.3 419.0h0.55M402.5 412.7h0.55M389.9 421.1h0.55M415.0 415.0h0.55M398.1 411.9h0.55M393.8 404.3h0.55M405.9 410.1h0.55M400.2 416.8h0.55M394.9 416.0h0.55M398.0 420.0h0.55M402.1 405.6h0.55M391.7 422.9h0.55M396.0 402.1h0.55M390.8 421.8h0.55M402.4 416.9h0.55M394.9 412.7h0.55M402.7 414.4h0.55M405.5 419.5h0.55M391.8 413.2h0.55M393.2 413.0h0.55M394.2 406.3h0.55M393.7 417.3h0.55M392.5 420.8h0.55M400.9 422.2h0.55M402.9 424.4h0.55M406.6 420.7h0.55M394.9 407.2h0.55M398.9 414.3h0.55M397.4 414.6h0.55M405.6 424.9h0.55M390.7 412.2h0.55M411.4 406.8h0.55M398.6 415.8h0.55M394.1 422.1h0.55M389.4 423.2h0.55M398.0 421.9h0.55M396.1 424.4h0.55M397.7 418.3h0.55M394.8 415.6h0.55M403.9 414.4h0.55M390.9 416.3h0.55M397.8 413.2h0.55M402.2 420.7h0.55M413.3 407.1h0.55M397.8 418.0h0.55M399.8 414.7h0.55M397.4 413.2h0.55M397.9 418.6h0.55M398.9 423.0h0.55M392.8 415.6h0.55M394.8 414.3h0.55M406.2 411.1h0.55M393.7 421.9h0.55M399.6 418.4h0.55M396.8 412.7h0.55M409.2 418.5h0.55M400.0 403.4h0.55M405.8 413.6h0.55M390.3 416.3h0.55M391.1 419.7h0.55M398.7 418.6h0.55M395.5 415.9h0.55M393.5 415.2h0.55M394.0 414.1h0.55M389.8 416.9h0.55M406.4 420.0h0.55M389.8 411.8h0.55M397.4 415.5h0.55M396.5 418.9h0.55M391.7 414.1h0.55M396.4 412.7h0.55M398.2 403.1h0.55M395.8 408.3h0.55M396.3 403.2h0.55M401.8 420.3h0.55M405.8 418.6h0.55M402.0 420.2h0.55M397.7 415.4h0.55M400.3 419.0h0.55M392.7 420.8h0.55M401.2 414.4h0.55M394.2 409.9h0.55M390.9 412.6h0.55M393.7 414.1h0.55M393.3 408.6h0.55M392.3 405.1h0.55M400.6 420.8h0.55M392.3 409.0h0.55M405.1 422.5h0.55M396.4 412.7h0.55M411.2 410.6h0.55M393.9 411.2h0.55M395.8 421.5h0.55M395.0 417.9h0.55M393.8 416.2h0.55M397.7 420.8h0.55M399.7 413.1h0.55M398.1 424.9h0.55" stroke="#000" stroke-width="0.55" opacity="0.6" fill="none"/>
<path d="M393.3 412.3h0.5M400.6 407.2h0.5M405.3 422.1h0.5M395.0 415.9h0.5M406.7 410.3h0.5M397.8 406.6h0.5M396.9 402.4h0.5M398.2 417.3h0.5M403.5 402.4h0.5M402.1 399.2h0.5M406.5 418.6h0.5M400.6 407.2h0.5M400.9 406.3h0.5M390.3 407.5h0.5M396.7 416.0h0.5M397.3 410.7h0.5M410.1 391.5h0.5M402.2 412.9h0.5M390.4 412.6h0.5M393.7 406.6h0.5M406.8 405.1h0.5M402.2 404.3h0.5M410.2 419.1h0.5M399.1 418.4h0.5M397.4 415.2h0.5M398.0 407.6h0.5M399.2 404.7h0.5M394.0 401.9h0.5M414.4 411.1h0.5M395.4 409.4h0.5M402.9 424.8h0.5M399.5 422.7h0.5M397.4 403.0h0.5M406.8 423.2h0.5M406.2 408.9h0.5M394.7 413.4h0.5M396.8 413.1h0.5M395.5 419.5h0.5M404.0 399.0h0.5M395.6 402.1h0.5M391.1 424.2h0.5M401.9 410.9h0.5M400.5 420.7h0.5M394.0 405.5h0.5M409.3 410.0h0.5M392.1 403.3h0.5M411.7 418.5h0.5M392.4 416.8h0.5M389.6 408.8h0.5M399.3 423.7h0.5M401.4 411.2h0.5M399.6 418.9h0.5M398.0 416.9h0.5M392.2 418.1h0.5M400.3 399.7h0.5M395.2 395.9h0.5M393.7 412.8h0.5M396.5 415.1h0.5M390.6 407.9h0.5M400.1 415.5h0.5M390.3 411.6h0.5M390.8 420.8h0.5M393.2 406.1h0.5M394.8 414.8h0.5M394.4 408.8h0.5M395.7 406.8h0.5M395.8 406.6h0.5M394.7 419.6h0.5M400.1 414.6h0.5M393.4 402.0h0.5M393.1 420.0h0.5M394.3 401.9h0.5M400.8 416.1h0.5M394.3 419.4h0.5M393.5 408.8h0.5M389.7 416.7h0.5M391.0 415.5h0.5M399.9 403.2h0.5M401.4 409.8h0.5M407.3 406.4h0.5M400.5 408.3h0.5M403.0 421.0h0.5M390.0 413.2h0.5M394.2 410.9h0.5M402.0 402.2h0.5M399.3 401.4h0.5M392.0 410.4h0.5M395.6 421.0h0.5M398.6 405.3h0.5M394.0 412.8h0.5M405.0 414.0h0.5M394.3 411.1h0.5M400.1 409.6h0.5M406.1 408.7h0.5M395.9 399.8h0.5M397.0 416.8h0.5M398.7 408.8h0.5M406.1 422.7h0.5M402.5 411.2h0.5M402.9 403.9h0.5M400.4 419.2h0.5M395.7 404.8h0.5M402.7 398.5h0.5M390.2 418.9h0.5M404.2 414.8h0.5M400.4 419.4h0.5M398.3 420.5h0.5M397.6 417.9h0.5M396.6 413.0h0.5M394.5 418.3h0.5M399.2 412.7h0.5M394.9 414.8h0.5M399.7 404.8h0.5M403.4 406.2h0.5M392.3 412.0h0.5M412.6 422.4h0.5M402.9 414.7h0.5M409.2 410.9h0.5M403.0 417.7h0.5M392.8 400.6h0.5M394.6 423.6h0.5M401.3 422.8h0.5M396.9 415.2h0.5M402.8 410.4h0.5M405.1 399.3h0.5M402.2 414.3h0.5M395.7 408.3h0.5M396.5 399.1h0.5M391.2 408.0h0.5M399.2 413.3h0.5M403.5 414.7h0.5M395.7 410.9h0.5M402.5 419.3h0.5M393.0 419.8h0.5M400.9 409.6h0.5M398.1 423.8h0.5M398.8 409.1h0.5M399.3 400.1h0.5M403.1 424.9h0.5M400.3 411.0h0.5M399.0 419.0h0.5M407.5 411.4h0.5M394.6 424.7h0.5M396.0 405.4h0.5M405.0 406.5h0.5M393.3 423.2h0.5M395.3 412.5h0.5M395.4 415.9h0.5M397.6 425.0h0.5M404.6 422.2h0.5" stroke="#000" stroke-width="0.5" opacity="0.4" fill="none"/>
<ellipse cx="398.50" cy="406.50" rx="5.44" ry="3.74" fill="url(#g2)" opacity="0.2"/>
<path d="M398.7 408.0h0.5M401.9 407.4h0.5M395.9 407.0h0.5M400.6 408.7h0.5M395.0 407.4h0.5M400.3 412.0h0.5M400.7 402.0h0.5M397.9 404.5h0.5M398.0 409.9h0.5M397.2 405.2h0.5M395.4 406.9h0.5M396.6 405.6h0.5M404.8 406.2h0.5M395.0 403.1h0.5M397.6 407.1h0.5M399.6 404.9h0.5M398.9 405.7h0.5M398.8 408.7h0.5M400.4 404.7h0.5M396.3 409.7h0.5M396.8 406.0h0.5M402.0 405.9h0.5M389.8 407.5h0.5M398.5 405.9h0.5M394.4 407.0h0.5M398.7 405.0h0.5M400.5 403.2h0.5M396.6 407.2h0.5M397.2 405.4h0.5M403.6 406.0h0.5M398.8 408.1h0.5M395.0 402.9h0.5M398.1 403.6h0.5M400.5 407.3h0.5M399.0 408.1h0.5M400.0 406.6h0.5M400.4 403.9h0.5M396.8 404.8h0.5M399.5 407.4h0.5M399.1 403.9h0.5M398.8 404.5h0.5M399.3 403.9h0.5M398.0 407.0h0.5M400.0 410.8h0.5M397.0 403.4h0.5M396.4 402.8h0.5M402.6 407.3h0.5M396.4 405.6h0.5M400.7 403.0h0.5M402.4 407.7h0.5" stroke="#000" stroke-width="0.5" opacity="0.55" fill="none"/>
<ellipse cx="428.20" cy="401.80" rx="9.18" ry="4.59" fill="url(#g2)" opacity="0.8" transform="rotate(-62 428.20 401.80)"/>
<path d="M430.9 398.9h0.5M429.3 396.9h0.5M431.3 396.0h0.5M432.6 400.0h0.5M424.7 405.3h0.5M426.2 400.4h0.5M434.4 393.1h0.5M427.7 408.1h0.5M424.0 403.1h0.5M429.4 400.7h0.5M429.8 399.3h0.5M428.5 400.8h0.5M423.1 406.6h0.5M423.4 398.5h0.5M429.5 402.2h0.5M430.0 402.0h0.5M428.7 402.5h0.5M430.7 401.6h0.5M428.6 402.8h0.5M425.9 406.0h0.5M427.9 398.1h0.5M428.9 400.7h0.5M430.7 398.2h0.5M433.3 401.1h0.5M426.9 407.7h0.5M431.1 397.5h0.5M431.4 401.3h0.5M418.4 404.8h0.5M427.7 392.9h0.5M429.5 402.6h0.5M429.1 401.1h0.5M432.5 406.8h0.5M433.4 403.6h0.5M430.3 405.8h0.5M435.3 395.0h0.5M426.3 403.1h0.5M426.7 402.9h0.5M431.5 398.7h0.5M429.4 399.8h0.5M424.4 407.0h0.5M423.3 405.1h0.5M427.6 401.6h0.5M432.1 398.7h0.5M423.0 403.5h0.5M428.6 398.3h0.5M423.5 410.2h0.5M427.2 406.5h0.5M428.0 410.7h0.5M426.2 403.2h0.5M427.3 404.2h0.5M425.2 399.9h0.5M426.4 404.1h0.5M434.3 390.3h0.5M432.5 399.8h0.5M426.7 406.8h0.5M436.3 389.6h0.5M432.3 396.5h0.5M429.4 409.4h0.5M426.0 399.9h0.5M427.2 405.7h0.5M427.2 407.4h0.5M431.6 398.1h0.5M424.3 405.5h0.5M428.7 400.8h0.5M432.0 392.7h0.5M433.5 398.4h0.5M425.0 400.6h0.5M427.7 397.5h0.5M425.3 408.4h0.5M428.6 392.9h0.5M425.3 417.2h0.5M429.4 395.0h0.5M437.4 399.5h0.5M426.5 400.5h0.5M433.0 397.7h0.5M428.7 396.3h0.5M423.3 402.1h0.5M429.0 395.3h0.5M426.4 403.5h0.5M424.3 399.9h0.5M435.6 392.2h0.5M431.7 392.6h0.5M428.1 405.6h0.5M430.9 394.7h0.5M427.0 404.9h0.5M427.5 403.6h0.5M433.8 394.8h0.5M434.2 406.8h0.5M427.1 398.5h0.5M434.2 393.6h0.5M428.3 403.5h0.5M425.2 407.2h0.5M426.8 405.5h0.5M426.7 400.2h0.5M422.8 398.6h0.5M427.7 399.7h0.5M429.5 399.6h0.5M430.0 397.4h0.5M426.2 408.3h0.5M435.2 397.2h0.5M431.9 393.9h0.5M425.9 399.1h0.5M429.7 401.3h0.5M424.4 412.1h0.5M423.8 406.1h0.5M430.5 402.5h0.5M428.9 395.6h0.5M432.7 391.7h0.5M425.0 407.0h0.5M427.9 397.4h0.5M424.0 407.0h0.5M428.8 398.3h0.5M425.4 409.4h0.5M428.3 402.6h0.5M431.1 398.2h0.5M428.6 412.4h0.5M431.0 400.6h0.5M425.5 400.6h0.5M427.0 404.1h0.5M427.5 409.5h0.5M426.9 397.8h0.5M427.0 404.9h0.5M429.9 400.8h0.5M429.2 401.9h0.5M430.7 399.7h0.5M430.1 405.5h0.5M429.7 406.9h0.5M425.6 401.2h0.5M427.0 408.5h0.5M425.3 404.6h0.5M428.2 403.5h0.5M426.5 406.3h0.5M429.1 404.3h0.5M430.4 395.0h0.5M427.1 402.1h0.5M432.2 390.9h0.5M427.0 404.2h0.5M429.8 396.2h0.5M427.3 402.9h0.5M426.3 407.1h0.5M427.7 403.9h0.5M431.3 395.7h0.5M430.9 396.7h0.5M421.9 407.0h0.5M427.2 404.3h0.5M427.6 395.3h0.5M425.7 399.6h0.5M425.6 403.2h0.5M423.9 404.6h0.5M425.4 403.5h0.5M422.2 405.4h0.5M432.6 394.9h0.5M430.4 402.6h0.5M430.9 404.3h0.5M430.0 398.7h0.5M430.9 396.6h0.5M429.5 403.8h0.5M429.9 399.1h0.5M428.7 408.8h0.5M430.6 397.7h0.5M429.2 402.7h0.5M427.0 404.1h0.5M431.3 402.3h0.5M431.9 389.8h0.5M423.5 410.1h0.5M432.3 397.6h0.5M423.8 407.2h0.5M426.7 404.5h0.5M432.0 394.5h0.5M433.0 396.8h0.5M424.8 410.3h0.5M425.8 402.7h0.5M433.6 402.2h0.5M426.5 407.2h0.5M427.9 405.7h0.5M427.1 403.1h0.5M426.7 409.5h0.5M423.4 404.4h0.5M431.0 404.3h0.5M427.3 398.6h0.5M427.1 410.3h0.5M429.1 399.7h0.5M426.1 397.2h0.5M427.5 397.7h0.5M423.9 402.3h0.5M425.8 404.5h0.5M424.4 411.1h0.5M432.1 399.4h0.5M431.9 406.4h0.5M430.3 404.8h0.5M429.4 402.1h0.5M427.3 405.2h0.5M427.2 403.6h0.5M425.1 401.6h0.5M436.2 400.1h0.5M431.8 396.1h0.5M431.0 401.3h0.5M428.4 398.5h0.5M429.4 405.6h0.5M428.4 399.0h0.5M430.8 408.3h0.5M424.7 406.2h0.5M433.3 397.4h0.5M429.3 405.5h0.5M430.8 401.2h0.5M430.8 393.7h0.5M428.6 403.1h0.5M431.4 397.8h0.5M427.1 403.4h0.5M427.5 395.5h0.5M430.1 404.7h0.5M426.5 406.0h0.5M435.5 402.0h0.5M428.8 398.5h0.5M431.9 402.6h0.5M429.6 401.9h0.5M424.7 405.2h0.5M430.7 396.1h0.5M427.4 398.1h0.5M429.2 402.1h0.5M433.1 396.0h0.5M426.8 402.7h0.5M429.4 404.7h0.5M430.8 397.0h0.5M427.9 405.4h0.5M427.8 398.2h0.5M426.2 399.5h0.5M424.8 399.9h0.5M432.9 399.1h0.5M427.3 401.7h0.5M430.4 402.9h0.5M429.5 399.7h0.5M427.6 409.6h0.5M425.4 402.3h0.5M427.8 401.6h0.5M431.0 397.8h0.5M428.5 401.7h0.5M431.8 398.5h0.5M430.7 400.9h0.5M426.1 400.0h0.5M425.4 404.5h0.5M428.0 401.1h0.5M429.3 399.3h0.5M425.5 397.4h0.5M429.1 405.9h0.5M429.2 398.0h0.5M434.2 393.9h0.5M431.1 399.2h0.5M428.5 404.4h0.5M428.5 406.2h0.5M427.9 403.2h0.5M426.7 400.5h0.5M426.5 405.6h0.5M424.5 404.4h0.5M427.0 405.9h0.5M424.2 403.8h0.5M428.1 408.1h0.5M428.2 403.7h0.5M423.8 404.3h0.5M431.6 406.4h0.5M430.7 404.0h0.5M427.9 405.0h0.5M427.2 405.9h0.5M426.1 402.6h0.5M435.5 391.8h0.5M424.8 402.3h0.5M430.4 393.6h0.5M423.5 400.5h0.5M425.9 399.9h0.5M429.8 405.4h0.5M433.2 397.0h0.5M425.7 405.9h0.5M424.8 404.8h0.5M428.9 401.6h0.5M423.9 402.3h0.5M428.9 394.5h0.5M421.8 405.3h0.5M424.8 399.2h0.5M431.0 400.2h0.5M426.0 409.4h0.5M432.0 397.1h0.5M434.8 396.2h0.5M430.0 399.1h0.5M424.4 407.1h0.5M428.0 403.7h0.5M425.8 411.6h0.5M427.1 404.6h0.5M422.0 402.8h0.5M426.9 403.1h0.5M424.8 401.6h0.5M427.4 398.1h0.5M424.5 407.9h0.5M426.6 401.5h0.5M426.5 404.3h0.5M426.9 406.2h0.5M430.2 400.8h0.5M426.7 405.4h0.5M428.1 399.8h0.5M426.6 407.1h0.5M427.9 407.7h0.5" stroke="#000" stroke-width="0.5" opacity="0.55" fill="none"/>
<path d="M417.3 414.1h.5M417.3 414.4h.5M408.4 413.1h.5M434.6 388.9h.5M414.7 417.5h.5M433.3 400.4h.5M411.1 415.4h.5M414.0 409.3h.5M431.4 384.1h.5M426.0 398.6h.5M415.2 411.9h.5M426.5 389.1h.5M433.5 388.8h.5M416.9 400.0h.5M412.4 414.1h.5M410.5 414.3h.5M420.1 402.5h.5M421.4 402.4h.5M426.0 395.9h.5M428.7 392.0h.5M432.0 394.0h.5M413.6 409.8h.5M429.6 391.5h.5M425.6 392.4h.5M423.5 395.2h.5M431.5 398.8h.5M409.8 414.1h.5M430.7 390.3h.5M425.1 393.9h.5M427.4 388.8h.5M421.6 398.4h.5M419.4 399.6h.5M427.5 391.3h.5M407.8 411.2h.5M415.1 405.9h.5M416.4 412.5h.5M434.8 391.5h.5M426.7 381.9h.5M419.6 406.2h.5M420.0 396.7h.5M432.0 387.5h.5M430.2 399.7h.5M431.0 389.8h.5M423.3 405.7h.5M412.5 415.6h.5M417.0 407.5h.5M424.5 391.6h.5M413.6 412.5h.5M409.4 419.0h.5M406.3 414.2h.5M418.5 409.5h.5M428.9 384.9h.5M418.2 412.9h.5M407.2 415.9h.5M415.4 412.5h.5M416.4 399.1h.5M426.2 396.4h.5M414.5 409.4h.5M411.8 408.7h.5M416.2 403.3h.5M427.0 386.4h.5M425.5 397.0h.5M423.9 389.6h.5M426.5 396.3h.5M420.9 405.8h.5M431.0 388.0h.5M420.8 396.1h.5M407.7 413.3h.5M418.3 399.8h.5M433.5 386.1h.5M417.4 407.0h.5M426.9 393.0h.5M413.4 414.9h.5M435.6 386.8h.5M422.1 403.4h.5M423.3 389.6h.5M424.6 396.4h.5M405.5 412.5h.5M422.9 392.8h.5M407.7 416.9h.5M415.8 404.0h.5M433.6 384.6h.5M434.4 391.4h.5M422.3 396.6h.5M424.7 398.7h.5M431.5 386.1h.5M420.9 400.6h.5M417.2 402.7h.5M415.0 408.7h.5M423.9 400.1h.5M420.5 395.5h.5M414.2 409.6h.5M412.8 407.6h.5M421.9 401.3h.5M407.3 419.4h.5M423.5 396.6h.5M416.2 410.9h.5M435.3 385.9h.5M426.9 387.1h.5M411.0 411.1h.5M422.3 403.5h.5M420.7 402.3h.5M427.0 396.5h.5M420.0 403.6h.5M410.2 419.6h.5M420.6 393.1h.5M411.7 422.2h.5M413.3 417.1h.5M423.9 398.3h.5M419.3 399.8h.5M435.5 387.8h.5M426.4 391.5h.5M433.1 388.9h.5M413.7 411.2h.5M406.9 412.8h.5M426.3 392.0h.5M405.7 412.5h.5M416.9 403.5h.5M417.5 398.4h.5M427.3 400.4h.5M427.6 387.7h.5M423.2 409.0h.5M432.0 390.6h.5M424.2 393.6h.5M420.0 411.2h.5M423.2 400.9h.5M430.2 382.3h.5M414.1 416.0h.5M409.5 412.2h.5M430.4 386.8h.5M428.6 387.6h.5M414.3 399.6h.5M420.7 397.7h.5M427.5 382.5h.5M408.4 409.4h.5M418.4 404.1h.5M426.9 394.0h.5M424.5 398.4h.5M412.6 408.4h.5M433.6 385.7h.5M426.6 395.4h.5M414.5 411.6h.5M417.0 398.7h.5M403.7 415.6h.5M408.5 415.7h.5M421.9 401.5h.5M401.9 419.7h.5M409.1 414.2h.5M417.7 409.1h.5M436.3 390.3h.5M423.1 393.0h.5M422.8 399.7h.5M428.9 388.8h.5M436.4 387.4h.5M430.2 395.1h.5M427.0 388.3h.5M430.4 389.8h.5M416.6 404.9h.5M427.5 403.3h.5M421.9 399.3h.5M405.7 419.7h.5M411.2 421.5h.5M425.7 394.6h.5M435.8 384.2h.5M424.0 393.1h.5M424.8 399.6h.5M416.6 415.2h.5M416.8 408.5h.5M420.8 390.7h.5M411.5 412.3h.5M426.4 392.9h.5M421.9 409.3h.5M423.2 403.0h.5M433.5 385.0h.5M406.9 419.1h.5M422.6 400.1h.5M420.7 404.2h.5M427.1 401.3h.5M432.8 393.6h.5M409.2 417.4h.5M406.0 405.5h.5M422.9 400.5h.5M410.0 419.6h.5M412.4 412.5h.5M418.1 401.9h.5M412.9 417.5h.5M418.0 396.3h.5M427.4 400.0h.5M416.1 411.7h.5M416.0 405.3h.5M416.8 403.7h.5M422.8 397.1h.5M422.4 396.9h.5M437.8 386.5h.5M410.6 418.0h.5M412.3 413.7h.5M424.7 396.6h.5M431.7 387.3h.5M429.5 393.9h.5M433.5 397.0h.5M408.9 408.8h.5M426.8 409.1h.5M426.9 389.4h.5M404.7 426.1h.5M429.7 396.7h.5M402.2 415.6h.5M400.3 417.0h.5M405.0 416.6h.5M425.0 389.3h.5M417.4 392.3h.5M424.9 398.5h.5M417.4 396.9h.5M415.3 410.3h.5M427.5 393.0h.5M422.2 395.0h.5M413.8 410.4h.5M413.2 419.0h.5M424.0 389.3h.5M416.9 410.6h.5M415.4 407.0h.5M408.5 415.8h.5M434.3 382.9h.5M428.8 383.9h.5M418.7 406.1h.5M414.2 410.9h.5M420.1 405.5h.5M423.6 396.2h.5M423.4 396.8h.5M430.7 387.3h.5M427.3 389.1h.5M435.0 386.2h.5M418.8 406.6h.5M413.8 406.5h.5M424.4 391.5h.5M420.5 392.9h.5M415.4 416.4h.5M433.0 389.6h.5M425.5 390.0h.5M428.1 392.3h.5M418.2 408.3h.5M430.3 388.7h.5M414.9 410.1h.5M413.6 407.9h.5M408.6 415.9h.5M408.1 413.1h.5M412.4 411.1h.5M411.5 414.0h.5M422.8 388.6h.5M419.0 402.3h.5M429.5 391.4h.5M426.8 391.6h.5M429.4 386.2h.5M416.1 407.9h.5M420.1 393.0h.5M423.7 402.7h.5M428.1 391.2h.5M419.9 402.2h.5M416.9 413.9h.5M406.7 419.9h.5M407.2 413.8h.5M407.7 419.9h.5M421.1 396.5h.5M420.2 404.8h.5M413.6 408.8h.5M426.6 397.5h.5M409.3 416.1h.5M408.2 420.7h.5M411.3 417.7h.5M404.6 409.6h.5M409.4 418.6h.5M416.5 406.5h.5M432.3 383.6h.5M418.0 398.0h.5M419.0 408.6h.5M419.4 395.5h.5M411.4 414.9h.5M409.7 415.4h.5M428.3 395.2h.5M435.7 386.6h.5M431.2 382.7h.5M424.1 405.4h.5M424.0 410.6h.5M405.3 416.1h.5M417.4 403.3h.5M413.1 406.7h.5M433.5 384.3h.5M427.6 389.6h.5M412.1 413.9h.5M409.8 413.9h.5M427.6 380.5h.5M433.4 384.9h.5M406.5 414.9h.5M440.2 386.8h.5M412.8 404.0h.5M420.9 396.1h.5M414.8 405.4h.5M425.0 388.4h.5M408.0 413.8h.5M416.1 409.3h.5M415.5 408.4h.5M433.1 395.2h.5M421.8 401.3h.5M415.5 408.0h.5M428.0 402.8h.5M413.1 412.4h.5M421.1 401.7h.5M413.1 405.4h.5M425.3 388.0h.5M422.3 398.4h.5M419.4 416.4h.5M429.5 399.9h.5M413.4 407.4h.5M413.1 403.1h.5M425.5 397.3h.5M424.5 391.2h.5M422.4 384.0h.5M417.0 403.8h.5M413.3 415.9h.5M414.7 406.7h.5M410.2 417.7h.5M417.5 402.6h.5M404.5 407.3h.5M435.3 390.0h.5M412.0 413.0h.5M426.8 395.4h.5M420.4 409.2h.5M424.2 394.6h.5M416.2 408.7h.5M411.6 420.6h.5M427.5 387.6h.5M417.6 406.1h.5M413.3 413.3h.5M431.5 387.9h.5M420.0 402.6h.5M419.9 397.3h.5M419.6 405.4h.5M408.0 412.8h.5M420.4 405.9h.5M421.4 401.7h.5M414.0 411.8h.5M426.2 395.0h.5M431.1 384.0h.5M412.1 405.9h.5M418.3 409.0h.5M419.8 405.1h.5M420.6 406.4h.5M409.2 405.0h.5M415.7 414.1h.5M417.0 412.4h.5M411.0 408.4h.5M416.9 408.5h.5M428.3 389.5h.5M412.6 414.4h.5M428.2 395.4h.5M410.7 410.5h.5M419.9 396.7h.5M416.1 407.3h.5M410.9 410.7h.5M425.2 400.2h.5M433.0 396.6h.5M416.4 416.3h.5M439.6 387.6h.5M421.3 399.6h.5M431.5 396.5h.5M425.0 387.6h.5M418.8 400.5h.5M423.0 394.8h.5M417.1 400.6h.5M422.1 400.3h.5M424.4 393.1h.5M414.1 413.0h.5M427.4 388.8h.5M421.5 398.3h.5M412.3 413.0h.5M427.7 396.3h.5M420.9 393.6h.5M417.4 410.2h.5M424.4 400.1h.5M417.1 406.5h.5M425.9 385.7h.5" stroke="#000" stroke-width=".5" opacity="0.25" fill="none"/>
</g>
<rect x="456.30" y="363.50" width="58.30" height="62.30" fill="#fff" stroke="#a9a9a9" stroke-width="0.8"/>
<clipPath id="cJ4"><rect x="456.70" y="363.90" width="57.50" height="61.50"/></clipPath>
<g clip-path="url(#cJ4)" filter="url(#soft)">
<ellipse cx="465.80" cy="417.00" rx="14.57" ry="9.30" fill="url(#g1)" opacity="1.0"/>
<path d="M467.1 409.4h0.6M467.5 418.4h0.6M471.6 416.6h0.6M465.8 416.5h0.6M471.2 411.3h0.6M457.8 416.7h0.6M463.1 417.0h0.6M479.0 417.8h0.6M463.1 420.3h0.6M478.2 409.8h0.6M471.5 416.1h0.6M461.7 411.8h0.6M464.4 416.2h0.6M464.8 416.5h0.6M458.5 424.8h0.6M459.2 418.8h0.6M464.7 417.3h0.6M463.3 413.3h0.6M464.4 420.1h0.6M473.5 417.5h0.6M471.9 415.1h0.6M464.2 413.5h0.6M457.5 421.4h0.6M463.3 417.8h0.6M458.4 408.5h0.6M472.8 414.9h0.6M466.9 412.3h0.6M466.3 412.6h0.6M470.7 409.4h0.6M471.7 419.1h0.6M469.2 413.0h0.6M469.5 409.2h0.6M467.4 418.5h0.6M470.7 412.9h0.6M465.7 415.2h0.6M466.5 416.1h0.6M467.8 418.5h0.6M469.9 415.7h0.6M475.5 416.0h0.6M466.4 421.4h0.6M478.5 417.9h0.6M462.9 418.0h0.6M465.8 417.4h0.6M475.3 418.8h0.6M464.5 418.7h0.6M469.2 422.9h0.6M471.4 418.4h0.6M457.7 411.8h0.6M458.3 414.5h0.6M465.9 419.4h0.6M470.0 417.3h0.6M462.5 413.6h0.6M466.0 416.8h0.6M460.9 422.0h0.6M463.1 416.0h0.6M463.4 416.0h0.6M464.3 417.9h0.6M465.5 415.8h0.6M464.6 418.7h0.6M471.3 412.9h0.6M472.2 414.5h0.6M468.3 416.6h0.6M470.0 419.4h0.6M465.0 416.0h0.6M464.9 421.5h0.6M465.2 418.6h0.6M462.1 414.9h0.6M471.8 416.8h0.6M459.3 417.7h0.6M464.7 420.9h0.6M462.3 416.6h0.6M462.4 415.5h0.6M458.4 414.8h0.6M461.8 416.7h0.6M465.8 418.9h0.6M471.6 423.5h0.6M466.8 414.8h0.6M464.3 417.4h0.6M459.3 417.3h0.6M466.7 419.3h0.6M465.8 418.4h0.6M459.9 417.4h0.6M461.3 414.0h0.6M461.3 412.2h0.6M465.6 417.2h0.6M461.6 415.6h0.6M459.9 422.6h0.6M468.1 424.6h0.6M472.1 419.1h0.6M474.6 416.3h0.6M475.0 422.3h0.6M463.2 416.2h0.6M462.5 416.9h0.6M464.8 414.8h0.6M473.8 424.8h0.6M469.2 421.3h0.6M474.9 422.4h0.6M460.9 415.4h0.6M464.7 414.8h0.6M467.8 419.9h0.6M464.5 417.6h0.6M463.9 418.1h0.6M461.6 417.0h0.6M467.1 421.6h0.6M470.6 419.1h0.6M464.8 419.0h0.6M468.0 417.4h0.6M462.5 419.9h0.6M468.2 415.9h0.6M463.2 415.8h0.6M466.7 424.4h0.6M462.4 416.4h0.6M472.9 415.8h0.6M458.7 414.1h0.6M464.1 414.3h0.6M457.7 423.0h0.6M472.4 416.3h0.6M466.7 417.6h0.6M466.8 420.8h0.6M472.7 414.4h0.6M471.2 417.5h0.6M470.5 413.7h0.6M480.0 413.4h0.6M461.4 420.0h0.6M470.7 415.4h0.6M468.8 417.0h0.6M461.1 416.7h0.6M457.4 416.2h0.6M478.7 414.6h0.6M460.8 420.3h0.6M479.5 414.9h0.6M462.8 415.1h0.6M463.8 420.9h0.6M466.5 415.4h0.6M473.1 421.6h0.6M474.2 418.0h0.6M471.4 415.3h0.6M470.5 420.3h0.6M468.7 423.0h0.6M462.0 408.3h0.6M475.2 415.8h0.6M468.6 416.9h0.6M469.3 416.5h0.6M460.4 418.4h0.6M464.8 415.9h0.6M478.6 422.9h0.6M477.8 418.7h0.6M463.3 417.5h0.6M478.3 421.0h0.6M463.6 415.3h0.6M471.2 415.8h0.6M466.4 413.7h0.6M460.1 411.6h0.6M462.9 415.8h0.6M460.4 419.3h0.6M471.5 415.2h0.6M464.7 414.3h0.6M461.0 417.2h0.6M460.9 409.9h0.6M474.6 423.1h0.6M469.6 418.2h0.6M474.2 416.0h0.6M461.5 418.7h0.6M466.0 411.2h0.6M466.3 419.0h0.6M463.5 414.2h0.6M464.0 411.0h0.6M470.9 416.6h0.6M466.4 418.3h0.6M474.5 417.9h0.6M467.4 421.9h0.6M464.6 416.5h0.6M465.3 417.0h0.6M471.5 414.6h0.6M470.3 419.2h0.6M462.8 417.1h0.6M467.7 417.1h0.6M466.2 413.0h0.6M464.4 421.7h0.6M469.6 412.2h0.6M457.2 417.0h0.6M471.4 417.0h0.6M463.2 413.7h0.6M462.0 417.4h0.6M458.5 416.5h0.6M472.9 415.6h0.6M458.3 419.0h0.6M461.4 422.4h0.6M470.0 415.4h0.6M464.7 412.0h0.6M469.9 419.2h0.6M466.0 417.6h0.6M465.7 412.5h0.6M473.1 420.5h0.6M477.1 422.8h0.6M464.2 408.6h0.6M469.7 413.0h0.6M466.6 415.3h0.6M462.0 412.0h0.6M464.6 419.0h0.6M457.2 409.4h0.6M457.2 420.7h0.6M468.6 417.0h0.6M475.8 414.9h0.6M467.7 419.9h0.6M468.9 422.2h0.6M461.4 412.3h0.6M467.4 421.2h0.6M462.1 417.6h0.6M467.6 416.4h0.6M470.0 423.7h0.6M463.2 416.6h0.6M471.9 419.3h0.6M458.1 420.0h0.6M467.3 408.6h0.6M458.7 418.9h0.6M461.7 413.1h0.6M469.1 417.7h0.6M467.6 411.5h0.6M464.2 421.1h0.6M466.0 421.4h0.6M467.1 414.0h0.6M463.7 413.8h0.6M472.8 410.6h0.6M463.8 415.0h0.6M470.5 414.2h0.6M471.3 415.4h0.6M469.9 413.8h0.6M468.7 415.0h0.6M467.5 417.3h0.6M466.1 419.0h0.6M463.3 412.6h0.6M464.3 425.0h0.6M462.8 417.5h0.6M473.0 416.0h0.6M468.9 419.0h0.6M462.6 422.6h0.6M469.5 417.0h0.6M461.8 416.8h0.6M472.2 413.8h0.6M470.4 413.0h0.6M467.3 417.0h0.6M465.8 415.3h0.6M466.1 420.1h0.6M462.6 413.0h0.6M463.6 417.4h0.6M474.4 420.4h0.6M465.6 418.5h0.6M462.9 417.7h0.6M469.0 418.0h0.6M471.3 414.4h0.6M459.7 416.8h0.6M464.8 421.6h0.6M467.6 412.7h0.6M474.8 414.3h0.6M468.0 412.6h0.6M465.1 418.4h0.6M471.5 414.8h0.6M462.9 418.5h0.6M458.6 409.7h0.6M463.7 418.8h0.6M462.4 418.9h0.6M466.6 416.9h0.6M466.6 411.2h0.6M466.1 419.1h0.6M477.3 418.8h0.6M469.8 416.2h0.6M465.0 420.5h0.6M466.8 416.3h0.6M476.2 422.3h0.6M457.0 415.1h0.6M464.0 413.1h0.6M474.3 420.1h0.6M460.8 417.6h0.6M475.0 417.7h0.6M470.3 417.6h0.6M459.7 416.1h0.6M468.2 419.7h0.6M476.9 417.1h0.6M468.3 422.2h0.6M462.9 416.3h0.6M470.1 415.0h0.6M457.8 422.3h0.6M459.4 413.1h0.6M466.5 417.3h0.6M465.4 420.0h0.6M467.8 417.5h0.6M464.7 416.3h0.6M464.5 417.7h0.6M472.2 414.6h0.6M466.2 416.6h0.6M473.6 421.8h0.6M467.0 416.4h0.6M463.8 419.7h0.6M457.4 419.6h0.6M461.1 417.2h0.6M471.1 418.1h0.6M459.3 415.6h0.6M472.7 416.0h0.6M463.2 418.4h0.6M463.9 420.8h0.6M471.0 418.2h0.6M476.7 412.9h0.6M463.0 408.1h0.6M463.1 419.8h0.6M468.0 418.4h0.6M465.1 415.5h0.6M461.3 417.3h0.6M464.3 411.8h0.6M469.6 417.4h0.6M459.9 417.6h0.6M461.2 418.3h0.6M467.7 414.3h0.6M471.5 419.1h0.6M466.8 417.2h0.6M470.5 409.5h0.6M471.5 413.9h0.6M467.2 415.3h0.6M464.9 417.2h0.6M469.9 406.1h0.6M467.3 421.3h0.6M463.6 414.2h0.6M469.8 416.4h0.6M468.9 419.8h0.6M474.3 424.2h0.6M463.8 419.7h0.6M463.2 416.3h0.6M466.4 413.7h0.6M476.5 415.3h0.6M460.5 417.0h0.6M461.4 419.8h0.6M463.5 413.8h0.6M461.3 415.9h0.6M461.5 414.0h0.6M472.3 422.0h0.6M470.0 420.1h0.6M467.7 417.4h0.6M470.6 421.4h0.6M476.5 415.8h0.6M462.2 412.7h0.6M473.5 415.2h0.6M463.0 419.8h0.6M460.8 411.5h0.6M466.1 417.1h0.6M463.7 412.8h0.6M463.8 414.1h0.6M467.7 420.4h0.6M476.6 424.1h0.6M468.0 415.2h0.6M468.3 417.3h0.6M465.2 404.8h0.6M467.3 419.2h0.6M465.7 410.8h0.6M465.7 413.2h0.6M473.5 419.0h0.6M476.7 422.2h0.6M463.0 417.3h0.6M464.3 414.9h0.6M465.2 415.0h0.6M461.2 422.5h0.6M476.1 416.1h0.6M468.0 421.0h0.6M468.4 417.2h0.6M468.5 416.6h0.6M471.7 412.2h0.6M463.8 418.3h0.6M469.9 422.1h0.6M461.8 418.3h0.6M464.3 417.8h0.6M459.1 415.1h0.6M463.2 421.1h0.6M467.7 411.7h0.6M457.4 417.1h0.6M478.0 417.7h0.6M461.8 411.5h0.6M467.1 413.8h0.6M475.1 414.8h0.6M467.6 410.3h0.6M457.3 421.0h0.6M464.6 419.1h0.6M464.9 423.5h0.6M464.7 415.5h0.6M463.6 417.1h0.6M457.3 410.9h0.6M471.7 421.7h0.6M463.3 415.8h0.6M463.4 417.2h0.6M467.0 423.4h0.6M470.0 415.4h0.6M460.3 417.7h0.6M465.3 417.9h0.6M466.1 422.3h0.6M466.1 415.6h0.6M468.0 415.5h0.6M462.6 416.5h0.6M471.2 416.7h0.6M467.0 416.8h0.6M468.8 421.5h0.6M465.5 414.0h0.6M460.7 415.0h0.6M463.2 418.5h0.6M459.5 420.2h0.6M472.4 422.1h0.6M466.6 421.7h0.6M477.2 414.5h0.6M461.3 421.0h0.6M464.2 415.8h0.6M475.2 411.9h0.6M460.3 416.2h0.6M471.0 419.5h0.6M463.1 413.8h0.6M458.0 416.9h0.6M465.4 418.0h0.6M465.9 422.7h0.6M470.4 418.6h0.6M476.8 410.1h0.6M463.2 410.2h0.6M473.8 419.8h0.6M464.3 412.8h0.6M461.7 418.2h0.6M459.2 419.5h0.6M461.7 416.1h0.6M467.2 418.3h0.6M458.1 416.2h0.6M469.3 417.2h0.6M473.5 418.6h0.6M470.5 416.1h0.6M473.2 411.3h0.6M459.3 423.3h0.6M471.6 415.9h0.6M467.7 418.5h0.6M461.6 412.8h0.6M468.5 418.9h0.6M466.1 416.0h0.6M458.5 419.2h0.6M468.7 416.5h0.6M458.1 415.9h0.6M477.0 414.8h0.6M458.4 418.6h0.6M462.3 419.7h0.6M461.2 419.0h0.6M465.3 421.3h0.6M471.0 415.9h0.6M476.8 414.1h0.6M471.2 415.2h0.6M465.2 420.7h0.6M469.6 416.6h0.6M462.1 415.6h0.6M467.6 419.2h0.6M473.9 418.7h0.6M466.5 413.3h0.6M462.9 418.1h0.6M468.4 418.1h0.6M463.0 420.9h0.6M467.1 418.3h0.6M470.5 413.4h0.6M465.7 414.3h0.6M461.9 411.4h0.6M462.7 417.4h0.6M463.7 418.7h0.6M470.3 417.0h0.6M460.8 414.3h0.6M466.0 415.0h0.6M467.0 418.5h0.6M460.8 412.8h0.6M464.6 411.8h0.6M478.7 412.9h0.6M479.2 420.2h0.6M463.0 420.6h0.6M458.3 421.4h0.6M470.8 419.7h0.6M464.0 415.0h0.6M463.5 411.6h0.6M472.5 414.5h0.6M475.2 415.1h0.6M466.9 413.1h0.6M471.7 421.6h0.6M472.0 413.4h0.6M466.7 412.1h0.6M459.3 416.2h0.6M462.0 419.8h0.6M467.4 421.9h0.6M465.7 414.5h0.6M461.6 420.7h0.6M469.0 413.8h0.6M470.9 418.8h0.6M463.6 412.2h0.6M470.7 415.8h0.6M467.1 417.5h0.6M469.2 414.5h0.6M466.1 416.0h0.6M458.1 417.4h0.6M474.7 416.2h0.6M458.2 418.5h0.6M466.3 411.9h0.6M477.8 417.0h0.6M465.0 416.5h0.6M459.7 412.3h0.6M459.2 414.4h0.6M463.3 420.5h0.6M467.7 411.1h0.6M459.1 416.2h0.6M462.0 413.2h0.6M457.6 421.3h0.6M463.7 421.4h0.6M471.3 422.0h0.6M466.2 418.6h0.6M471.3 418.7h0.6M464.8 411.1h0.6M469.4 412.6h0.6M473.8 415.2h0.6M467.6 422.7h0.6M467.4 413.1h0.6M461.5 418.0h0.6M477.4 420.7h0.6M464.8 417.3h0.6M461.9 411.7h0.6M456.9 417.9h0.6M474.5 423.8h0.6M467.8 419.4h0.6M468.3 417.6h0.6M463.6 416.6h0.6M472.7 421.0h0.6M470.6 415.9h0.6M464.6 419.4h0.6M467.7 414.1h0.6M460.6 414.4h0.6M466.0 414.0h0.6M467.3 417.6h0.6M467.0 414.7h0.6M457.7 416.9h0.6M463.1 416.8h0.6M471.4 413.7h0.6M473.8 413.7h0.6M464.6 419.6h0.6M480.2 419.2h0.6M463.8 415.4h0.6M461.2 416.4h0.6M467.0 418.7h0.6M460.0 416.8h0.6M468.2 420.3h0.6M466.6 416.5h0.6M460.9 415.5h0.6M458.2 413.8h0.6M461.8 413.4h0.6M466.4 416.7h0.6M458.3 414.3h0.6M459.7 409.2h0.6M468.2 416.2h0.6M466.0 414.5h0.6M468.4 415.5h0.6M470.7 417.4h0.6M474.8 422.1h0.6M465.7 422.1h0.6M459.1 419.4h0.6M472.9 414.7h0.6M466.6 421.2h0.6M462.4 418.9h0.6M466.1 414.9h0.6M461.9 418.7h0.6M467.3 411.3h0.6M468.1 418.2h0.6M471.0 417.4h0.6M458.2 414.6h0.6M475.0 420.8h0.6M470.1 421.1h0.6M465.3 417.3h0.6M463.9 417.3h0.6M469.6 418.6h0.6M464.5 418.0h0.6M467.3 419.1h0.6M470.2 415.9h0.6M462.5 421.3h0.6M464.3 413.4h0.6M469.4 416.9h0.6M477.1 411.6h0.6M468.7 412.1h0.6M464.4 418.2h0.6M467.1 423.4h0.6M466.0 418.6h0.6M473.4 415.0h0.6M474.5 418.5h0.6M474.1 416.4h0.6M468.8 415.5h0.6M458.8 413.8h0.6M463.3 414.7h0.6M465.6 420.3h0.6M464.1 415.9h0.6M464.2 411.0h0.6M472.6 416.6h0.6M463.8 411.9h0.6M466.1 412.9h0.6M458.2 423.8h0.6M470.1 413.8h0.6M464.9 417.5h0.6M468.4 415.1h0.6M465.4 416.9h0.6M467.2 413.2h0.6M467.8 418.0h0.6M471.9 414.4h0.6" stroke="#000" stroke-width="0.6" opacity="0.8" fill="none"/>
<path d="M461.8 417.2h0.55M460.1 410.2h0.55M477.9 417.1h0.55M458.6 410.0h0.55M463.1 415.3h0.55M466.9 421.2h0.55M474.2 413.5h0.55M469.4 407.4h0.55M483.1 413.3h0.55M462.9 418.1h0.55M465.4 422.2h0.55M460.2 419.7h0.55M471.1 411.8h0.55M461.0 422.6h0.55M464.4 415.4h0.55M469.9 418.3h0.55M470.2 411.9h0.55M463.4 422.3h0.55M461.9 415.1h0.55M482.4 412.5h0.55M468.0 422.6h0.55M480.7 412.8h0.55M466.0 414.9h0.55M468.9 423.0h0.55M462.8 417.8h0.55M462.7 420.7h0.55M468.0 418.4h0.55M468.8 412.0h0.55M458.8 418.1h0.55M458.8 412.6h0.55M472.9 410.1h0.55M475.9 414.8h0.55M457.6 421.3h0.55M477.2 414.6h0.55M473.5 418.8h0.55M464.4 406.1h0.55M475.1 424.1h0.55M460.3 416.1h0.55M475.8 410.2h0.55M474.0 408.9h0.55M472.6 411.1h0.55M458.7 423.6h0.55M461.9 409.9h0.55M478.4 421.0h0.55M464.0 416.1h0.55M471.6 414.0h0.55M479.6 413.6h0.55M464.5 417.8h0.55M476.1 416.8h0.55M471.1 418.1h0.55M463.8 420.9h0.55M473.6 417.7h0.55M458.2 413.2h0.55M462.7 405.4h0.55M462.4 416.3h0.55M459.6 408.7h0.55M469.0 417.3h0.55M477.6 415.2h0.55M476.7 419.9h0.55M479.2 418.7h0.55M466.7 405.4h0.55M462.0 416.6h0.55M465.0 415.8h0.55M467.8 417.0h0.55M470.3 418.3h0.55M478.2 411.5h0.55M463.6 411.4h0.55M458.8 418.9h0.55M473.4 410.6h0.55M465.5 417.5h0.55M457.8 410.8h0.55M462.1 402.0h0.55M472.5 405.8h0.55M463.7 414.2h0.55M461.0 415.7h0.55M461.7 414.5h0.55M465.3 421.7h0.55M466.0 412.4h0.55M476.3 410.1h0.55M484.7 409.2h0.55M482.4 410.5h0.55M475.0 416.3h0.55M463.0 423.9h0.55M477.6 415.3h0.55M462.6 421.0h0.55M465.6 414.0h0.55M471.8 415.2h0.55M468.3 415.8h0.55M462.7 410.4h0.55M465.2 419.6h0.55M481.7 420.0h0.55M462.4 416.1h0.55M464.9 416.9h0.55M475.0 410.0h0.55M472.5 421.2h0.55M470.9 413.8h0.55M478.9 409.5h0.55M462.3 419.3h0.55M470.1 418.2h0.55M468.7 411.3h0.55M468.7 423.7h0.55M481.0 415.3h0.55M469.5 424.9h0.55M466.1 423.3h0.55M480.5 417.6h0.55M458.2 416.8h0.55M464.7 418.1h0.55M459.3 413.3h0.55M473.9 416.1h0.55M465.7 414.4h0.55M474.6 414.6h0.55M487.5 410.9h0.55M469.3 419.1h0.55M471.5 413.4h0.55M467.8 409.3h0.55M465.1 415.5h0.55M473.3 412.6h0.55M472.6 413.2h0.55M469.0 422.4h0.55M463.6 411.1h0.55M465.1 418.8h0.55M461.4 415.8h0.55M482.9 416.1h0.55M467.0 413.0h0.55M483.3 418.5h0.55M465.0 418.3h0.55M474.8 410.5h0.55M480.4 417.4h0.55M457.0 414.9h0.55M479.5 415.7h0.55M465.2 416.2h0.55M460.8 415.0h0.55M464.1 415.7h0.55M459.1 414.2h0.55M469.3 420.7h0.55M465.7 423.9h0.55M469.9 418.1h0.55M465.9 414.9h0.55M463.8 417.6h0.55M461.3 405.1h0.55M459.0 413.8h0.55M464.1 406.8h0.55M469.8 418.6h0.55M485.2 413.1h0.55M469.9 425.1h0.55M470.0 422.5h0.55M471.3 413.9h0.55M465.2 419.5h0.55M459.1 420.5h0.55M480.0 419.4h0.55M463.6 414.4h0.55M476.4 414.0h0.55M471.3 412.0h0.55M473.0 412.7h0.55M478.9 421.4h0.55M474.7 407.7h0.55M465.3 417.9h0.55M457.3 413.8h0.55M468.4 413.2h0.55M465.7 416.2h0.55M460.9 411.1h0.55M465.0 409.8h0.55M474.2 419.6h0.55M469.8 418.0h0.55M471.4 417.8h0.55M472.8 418.9h0.55M462.1 413.1h0.55M469.6 423.8h0.55M470.9 412.1h0.55M460.1 406.7h0.55M457.3 422.4h0.55M464.0 409.5h0.55M462.7 411.6h0.55M475.4 417.7h0.55M469.8 410.7h0.55M468.3 407.5h0.55M469.7 407.5h0.55M457.4 416.0h0.55M461.3 419.0h0.55M464.3 413.8h0.55M473.0 414.1h0.55M474.6 411.1h0.55M469.0 418.9h0.55M470.7 421.0h0.55M486.0 419.7h0.55M478.1 416.2h0.55M481.5 417.6h0.55M464.5 413.5h0.55M459.8 415.9h0.55M487.1 414.3h0.55M472.1 401.6h0.55M459.5 417.1h0.55M463.2 415.2h0.55M459.1 418.7h0.55M472.7 415.7h0.55M469.5 405.7h0.55M458.8 415.2h0.55M458.1 412.9h0.55M461.1 409.9h0.55M472.8 410.3h0.55M470.7 418.5h0.55M467.3 416.0h0.55M466.3 410.9h0.55M457.9 418.9h0.55M477.9 416.0h0.55M471.1 418.8h0.55M466.7 409.4h0.55M480.4 414.8h0.55M460.5 408.8h0.55M472.6 403.0h0.55M475.5 416.2h0.55M465.6 416.7h0.55M457.7 419.4h0.55M474.5 415.0h0.55M459.9 408.1h0.55M470.4 422.0h0.55M482.2 411.1h0.55M477.7 412.9h0.55M459.5 411.7h0.55M470.4 419.9h0.55M474.7 412.7h0.55M467.4 417.8h0.55M467.9 421.5h0.55M473.0 407.2h0.55M483.8 415.3h0.55M469.9 415.1h0.55M461.6 420.9h0.55M466.8 410.5h0.55M479.5 416.8h0.55M461.5 419.1h0.55M469.4 421.5h0.55M474.7 417.0h0.55M459.3 413.3h0.55M478.9 420.1h0.55M464.5 417.6h0.55M470.8 411.7h0.55M465.0 421.6h0.55M460.7 412.2h0.55M482.7 413.9h0.55M458.8 403.4h0.55M476.4 419.5h0.55M492.7 407.1h0.55M457.2 421.6h0.55M462.8 423.9h0.55M471.4 422.0h0.55M464.0 413.5h0.55M463.9 411.3h0.55M461.4 410.5h0.55M460.2 420.3h0.55M472.3 415.9h0.55M479.0 411.8h0.55M464.5 414.7h0.55M469.1 408.0h0.55M478.5 414.6h0.55M463.0 407.9h0.55M457.3 418.5h0.55M476.3 416.0h0.55M458.8 423.5h0.55M461.7 410.0h0.55M490.8 419.5h0.55M464.5 419.0h0.55M464.8 409.3h0.55M473.1 420.0h0.55M470.7 422.8h0.55M462.2 411.9h0.55M481.6 412.2h0.55M474.5 412.2h0.55M469.6 419.3h0.55M467.5 420.1h0.55M458.4 415.1h0.55M463.1 415.8h0.55M475.8 419.5h0.55M475.1 421.9h0.55M474.1 413.5h0.55M470.6 412.1h0.55M481.4 413.9h0.55M468.0 416.0h0.55M469.7 417.4h0.55M482.2 411.6h0.55M468.7 422.4h0.55M459.1 420.8h0.55M476.5 411.3h0.55M463.9 418.1h0.55M459.7 416.5h0.55M465.3 411.4h0.55M480.3 413.5h0.55M457.7 415.9h0.55M458.2 411.3h0.55M463.2 417.8h0.55M461.6 409.7h0.55M470.8 416.4h0.55M474.1 417.2h0.55M458.8 417.5h0.55M464.0 410.7h0.55M459.9 423.1h0.55M478.4 410.4h0.55M462.9 416.1h0.55M465.0 413.8h0.55M472.1 414.6h0.55M468.4 417.2h0.55M465.5 417.9h0.55M488.7 413.9h0.55" stroke="#000" stroke-width="0.55" opacity="0.6" fill="none"/>
<path d="M469.4 408.7h0.5M476.9 424.8h0.5M469.1 400.7h0.5M467.8 414.8h0.5M475.8 413.4h0.5M464.4 418.6h0.5M475.6 407.9h0.5M462.1 410.4h0.5M476.2 422.6h0.5M466.4 401.2h0.5M480.3 395.8h0.5M480.4 407.6h0.5M487.3 403.6h0.5M493.8 417.6h0.5M468.5 406.5h0.5M480.0 400.5h0.5M468.3 418.7h0.5M467.8 418.9h0.5M470.8 415.7h0.5M477.7 418.0h0.5M479.2 418.5h0.5M482.3 402.5h0.5M469.6 414.9h0.5M473.4 409.3h0.5M459.4 408.4h0.5M457.6 412.5h0.5M480.8 416.8h0.5M466.5 410.7h0.5M473.4 408.2h0.5M479.7 406.4h0.5M484.8 423.4h0.5M482.1 423.5h0.5M458.4 412.4h0.5M493.6 401.7h0.5M468.5 412.5h0.5M481.0 421.9h0.5M466.3 418.1h0.5M482.0 407.7h0.5M473.1 403.2h0.5M467.3 420.5h0.5M472.7 413.0h0.5M461.1 403.0h0.5M477.7 405.3h0.5M479.9 412.3h0.5M481.2 407.3h0.5M475.7 404.1h0.5M490.0 424.8h0.5M465.2 425.0h0.5M457.2 408.6h0.5M460.1 415.5h0.5M464.2 405.8h0.5M486.3 410.8h0.5M462.9 418.2h0.5M457.6 412.5h0.5M472.4 411.5h0.5M473.4 418.6h0.5M468.8 421.1h0.5M475.2 410.8h0.5M465.8 412.2h0.5M480.3 411.7h0.5M489.5 401.9h0.5M471.1 414.5h0.5M458.0 422.5h0.5M472.0 411.9h0.5M473.6 399.5h0.5M474.2 409.6h0.5M467.7 421.9h0.5M465.4 414.2h0.5M477.2 407.0h0.5M459.7 414.7h0.5M477.6 423.7h0.5M467.5 424.7h0.5M463.0 404.5h0.5M473.7 395.6h0.5M459.6 406.6h0.5M472.0 411.1h0.5M467.3 403.7h0.5M466.9 407.4h0.5M470.0 417.2h0.5M473.9 404.3h0.5M484.5 402.4h0.5M467.4 403.8h0.5M458.1 407.8h0.5M480.5 414.3h0.5M483.7 406.0h0.5M468.5 401.7h0.5M491.5 411.9h0.5M472.6 410.1h0.5M478.3 415.5h0.5M467.9 403.8h0.5M468.9 402.6h0.5M472.9 399.2h0.5M485.0 420.9h0.5M477.1 414.3h0.5M464.1 406.5h0.5M480.8 407.9h0.5M481.2 399.2h0.5M473.8 407.7h0.5M475.1 400.6h0.5M461.5 414.1h0.5M458.1 418.3h0.5M473.8 415.4h0.5M462.7 415.3h0.5M481.5 395.6h0.5M471.5 418.5h0.5M472.2 417.6h0.5M473.6 407.2h0.5M489.7 417.2h0.5M468.9 419.5h0.5M481.1 419.5h0.5M483.3 397.5h0.5M493.3 410.1h0.5M469.7 396.9h0.5M468.1 413.7h0.5M461.2 408.4h0.5M483.6 417.9h0.5M478.6 408.1h0.5M486.1 412.3h0.5M462.6 411.6h0.5M474.9 414.6h0.5M460.9 408.5h0.5M469.1 423.6h0.5M475.4 425.1h0.5M468.4 409.6h0.5M483.9 418.3h0.5M473.1 403.1h0.5M462.2 410.5h0.5M481.7 403.1h0.5M469.7 410.0h0.5M463.2 409.0h0.5M474.6 416.5h0.5M494.4 405.7h0.5M462.0 413.1h0.5M475.3 420.6h0.5M461.3 407.6h0.5M469.6 413.3h0.5M480.8 414.0h0.5M468.8 414.4h0.5M466.5 420.0h0.5M474.6 410.2h0.5M476.6 388.9h0.5M458.6 418.5h0.5M477.3 413.0h0.5M502.2 410.9h0.5M469.3 412.8h0.5M468.0 418.3h0.5M481.3 409.2h0.5M473.6 414.6h0.5M473.9 414.6h0.5M471.1 400.1h0.5M475.9 404.4h0.5M467.0 415.7h0.5M481.7 412.5h0.5M474.9 410.4h0.5M484.0 407.6h0.5M469.3 421.2h0.5M467.8 403.5h0.5M463.1 415.3h0.5M476.5 399.5h0.5M465.3 406.7h0.5M466.0 421.6h0.5M482.3 411.9h0.5M469.9 402.2h0.5M466.1 422.1h0.5M472.1 407.6h0.5M469.4 413.4h0.5M457.7 424.9h0.5M473.1 401.5h0.5M478.3 393.0h0.5M469.6 410.9h0.5M475.2 405.8h0.5M483.4 412.3h0.5M479.5 414.2h0.5M477.5 401.7h0.5M484.2 416.8h0.5M464.5 405.4h0.5M479.0 408.3h0.5M464.2 407.7h0.5M471.5 415.7h0.5M462.0 409.8h0.5M462.4 403.1h0.5M488.9 422.6h0.5M463.8 416.8h0.5M471.8 401.7h0.5M465.7 417.4h0.5M483.1 412.0h0.5M477.9 411.9h0.5M464.8 418.3h0.5M459.9 420.1h0.5M471.8 413.2h0.5M478.0 411.5h0.5M474.2 419.6h0.5M488.2 413.9h0.5M478.8 419.3h0.5M460.8 410.6h0.5M478.7 407.7h0.5M481.3 411.4h0.5M468.5 412.4h0.5M461.0 416.6h0.5M477.9 416.7h0.5M477.9 412.9h0.5M469.1 408.4h0.5M481.8 414.5h0.5M472.5 396.9h0.5M476.1 416.8h0.5M461.5 417.3h0.5M476.4 415.9h0.5M476.5 411.0h0.5M462.2 406.3h0.5M460.1 417.8h0.5M467.6 412.6h0.5M493.3 425.0h0.5M469.0 420.5h0.5M467.2 416.6h0.5M475.2 406.6h0.5M470.7 403.5h0.5M466.7 423.5h0.5M466.4 409.5h0.5M477.3 419.7h0.5M483.2 406.1h0.5M486.7 406.0h0.5M458.3 409.3h0.5M471.3 424.4h0.5M478.9 414.3h0.5M474.2 399.5h0.5M483.3 415.2h0.5M477.5 404.2h0.5M471.6 404.2h0.5M475.9 416.1h0.5M484.3 413.8h0.5M465.2 416.4h0.5M467.1 407.3h0.5M473.5 409.7h0.5M467.1 420.8h0.5M472.9 406.5h0.5M469.4 405.3h0.5M471.7 423.0h0.5M464.4 414.1h0.5M461.7 415.5h0.5M479.8 412.2h0.5M480.7 408.6h0.5M464.7 412.8h0.5M479.4 416.7h0.5M463.3 403.7h0.5M478.5 407.1h0.5" stroke="#000" stroke-width="0.5" opacity="0.4" fill="none"/>
<ellipse cx="470.20" cy="403.80" rx="6.46" ry="4.42" fill="url(#g2)" opacity="0.42"/>
<path d="M468.5 404.2h0.5M471.5 402.9h0.5M473.1 406.2h0.5M473.1 406.0h0.5M467.0 404.9h0.5M468.4 401.5h0.5M474.2 399.1h0.5M467.9 403.5h0.5M474.5 407.6h0.5M472.9 399.6h0.5M473.4 405.4h0.5M469.9 403.5h0.5M468.0 406.1h0.5M474.0 405.7h0.5M473.7 406.2h0.5M467.6 408.9h0.5M462.0 399.6h0.5M468.1 404.7h0.5M473.0 407.0h0.5M470.2 401.3h0.5M472.9 400.5h0.5M469.8 407.2h0.5M470.3 402.6h0.5M466.8 404.5h0.5M470.1 398.9h0.5M468.0 405.6h0.5M469.6 405.2h0.5M470.4 405.0h0.5M466.1 405.4h0.5M463.9 400.0h0.5M474.8 404.1h0.5M470.9 402.3h0.5M471.3 405.8h0.5M467.3 402.0h0.5M469.3 402.9h0.5M468.9 401.8h0.5M469.7 403.3h0.5M472.1 408.3h0.5M473.2 400.8h0.5M468.6 407.4h0.5M471.5 405.8h0.5M467.0 400.3h0.5M469.8 406.2h0.5M466.0 402.9h0.5M471.3 402.9h0.5M466.5 405.3h0.5M470.1 404.7h0.5M470.4 404.5h0.5M470.0 403.4h0.5M472.3 400.9h0.5M470.1 408.3h0.5M474.9 407.2h0.5M471.0 401.1h0.5M472.3 400.8h0.5M470.3 398.9h0.5M472.0 407.5h0.5M472.6 404.5h0.5M473.8 405.4h0.5M473.0 406.7h0.5M469.3 404.0h0.5M474.0 405.6h0.5M471.3 401.3h0.5M464.3 400.3h0.5M469.9 403.3h0.5M476.6 403.9h0.5M472.6 401.0h0.5M475.0 401.1h0.5M468.2 402.9h0.5M465.5 406.5h0.5M469.2 404.5h0.5M468.4 405.5h0.5M475.8 406.7h0.5M472.0 406.6h0.5M471.3 405.7h0.5M464.6 408.3h0.5M474.1 401.0h0.5M469.3 404.2h0.5M471.3 407.3h0.5M472.3 397.1h0.5M468.7 407.5h0.5M468.3 403.8h0.5M469.2 399.9h0.5M472.3 405.1h0.5M471.0 404.8h0.5M467.6 400.4h0.5M469.6 405.1h0.5M474.9 404.4h0.5M473.5 409.7h0.5M472.5 406.3h0.5M468.9 401.8h0.5M476.0 409.0h0.5M474.6 404.5h0.5M468.6 401.5h0.5M469.8 405.1h0.5M469.5 404.3h0.5M468.5 401.4h0.5M475.6 405.8h0.5M468.0 404.1h0.5M467.7 403.6h0.5M470.7 403.8h0.5" stroke="#000" stroke-width="0.5" opacity="0.55" fill="none"/>
<ellipse cx="496.60" cy="398.00" rx="10.20" ry="2.89" fill="url(#g2)" opacity="0.85" transform="rotate(-66 496.60 398.00)"/>
<path d="M494.5 401.5h0.5M494.3 404.6h0.5M496.2 398.7h0.5M498.7 393.9h0.5M493.8 402.7h0.5M495.2 398.2h0.5M498.1 388.8h0.5M498.0 398.7h0.5M497.4 397.0h0.5M497.1 402.7h0.5M500.6 392.9h0.5M497.4 392.2h0.5M494.0 402.4h0.5M498.5 399.3h0.5M495.0 401.1h0.5M499.8 393.7h0.5M494.7 398.4h0.5M496.7 400.5h0.5M492.6 405.3h0.5M496.4 402.2h0.5M496.6 400.8h0.5M503.9 383.9h0.5M500.1 395.0h0.5M498.0 393.5h0.5M492.6 398.5h0.5M496.0 403.5h0.5M493.5 413.8h0.5M495.1 401.6h0.5M498.4 394.2h0.5M496.3 402.5h0.5M500.9 390.2h0.5M500.6 389.4h0.5M496.3 400.1h0.5M496.6 395.0h0.5M495.1 399.5h0.5M496.1 405.5h0.5M493.7 406.3h0.5M494.1 400.9h0.5M496.4 400.1h0.5M498.0 400.5h0.5M491.1 403.0h0.5M499.9 396.1h0.5M493.4 403.9h0.5M495.0 410.4h0.5M496.4 400.8h0.5M499.8 394.9h0.5M493.1 404.2h0.5M494.2 402.8h0.5M492.9 407.7h0.5M502.7 389.9h0.5M496.6 398.5h0.5M497.1 397.5h0.5M499.2 394.8h0.5M494.2 402.6h0.5M499.7 398.1h0.5M498.8 394.6h0.5M498.7 393.2h0.5M494.4 404.5h0.5M496.6 394.0h0.5M495.3 398.5h0.5M499.1 391.3h0.5M498.9 390.5h0.5M496.3 403.6h0.5M492.3 401.1h0.5M500.5 392.8h0.5M493.6 396.9h0.5M494.8 402.1h0.5M494.6 399.2h0.5M491.9 407.2h0.5M495.4 396.4h0.5M497.0 395.7h0.5M494.1 402.6h0.5M492.9 399.4h0.5M497.3 396.4h0.5M496.8 397.2h0.5M494.8 399.6h0.5M497.8 398.7h0.5M497.5 393.1h0.5M499.7 392.6h0.5M496.5 392.4h0.5M497.5 394.5h0.5M498.7 399.2h0.5M494.4 403.1h0.5M498.2 392.5h0.5M495.1 400.5h0.5M497.4 399.0h0.5M495.3 397.6h0.5M494.7 403.9h0.5M498.0 398.8h0.5M493.9 402.3h0.5M501.2 387.3h0.5M493.2 399.5h0.5M499.6 398.4h0.5M498.1 401.9h0.5M493.8 398.6h0.5M496.4 385.8h0.5M499.2 393.3h0.5M495.7 401.4h0.5M495.5 403.9h0.5M497.2 396.1h0.5M497.2 397.1h0.5M492.5 404.9h0.5M495.5 397.4h0.5M498.4 397.8h0.5M497.6 392.8h0.5M495.0 398.8h0.5M498.3 396.0h0.5M498.2 397.3h0.5M500.2 391.6h0.5M496.2 392.1h0.5M495.8 397.2h0.5M502.5 391.9h0.5M500.4 387.0h0.5M493.7 403.8h0.5M501.2 387.3h0.5M498.1 390.5h0.5M494.7 400.9h0.5M501.5 389.8h0.5M497.6 397.8h0.5M495.7 400.7h0.5M492.8 408.8h0.5M494.2 407.0h0.5M493.9 400.1h0.5M492.9 402.8h0.5M496.8 400.4h0.5M492.7 406.2h0.5M495.3 397.8h0.5M498.2 402.3h0.5M495.9 394.4h0.5M496.5 397.7h0.5M497.3 395.3h0.5M502.4 385.3h0.5M496.4 394.8h0.5M500.2 396.4h0.5M497.9 396.2h0.5M493.1 402.2h0.5M494.6 400.9h0.5M494.2 401.0h0.5M500.7 391.9h0.5M493.5 401.2h0.5M493.1 401.7h0.5M498.7 396.6h0.5M493.5 399.8h0.5M498.2 393.7h0.5M495.5 396.1h0.5M494.7 400.7h0.5M495.7 394.8h0.5M496.0 399.8h0.5M497.5 396.7h0.5M495.2 398.8h0.5M495.9 400.5h0.5M497.0 396.5h0.5M495.9 399.8h0.5M495.0 404.3h0.5M496.6 402.1h0.5M496.9 389.1h0.5M496.2 399.1h0.5M496.8 398.8h0.5M494.1 400.1h0.5M499.5 396.1h0.5M498.2 397.4h0.5M499.0 395.3h0.5M498.3 396.9h0.5M495.6 398.6h0.5M500.0 395.4h0.5M496.5 401.1h0.5M492.5 406.1h0.5M496.5 399.2h0.5M492.3 400.8h0.5M498.3 403.9h0.5M495.4 399.5h0.5M494.4 403.3h0.5M491.9 409.4h0.5M498.0 398.2h0.5M495.6 404.0h0.5M493.9 399.9h0.5M497.7 397.8h0.5M494.4 399.9h0.5M496.3 401.8h0.5M498.3 394.2h0.5M499.8 391.6h0.5M495.3 399.2h0.5M496.9 397.0h0.5M495.4 403.0h0.5M495.6 402.0h0.5M500.6 392.2h0.5M497.0 395.4h0.5M491.7 404.9h0.5M496.5 396.6h0.5M495.6 396.4h0.5M498.3 396.5h0.5M496.4 401.6h0.5M496.1 402.3h0.5M495.7 396.2h0.5M494.7 398.3h0.5M498.1 392.0h0.5M496.6 407.6h0.5M498.2 392.4h0.5M494.5 405.3h0.5M497.1 396.9h0.5M493.8 404.3h0.5M493.7 405.4h0.5M497.5 394.8h0.5M494.4 400.4h0.5M501.2 388.7h0.5M498.9 398.2h0.5M500.6 395.1h0.5M494.8 398.5h0.5M502.5 397.1h0.5M498.2 403.5h0.5M498.0 400.4h0.5M499.8 386.2h0.5M494.8 403.1h0.5M495.3 397.1h0.5M498.7 390.7h0.5M498.2 406.2h0.5M494.8 406.3h0.5M500.1 395.0h0.5M498.3 391.2h0.5M495.6 397.1h0.5M493.5 400.8h0.5M497.6 397.9h0.5M497.8 403.2h0.5M495.1 399.3h0.5M496.3 400.3h0.5M496.3 387.7h0.5M491.9 403.9h0.5M496.5 398.1h0.5M495.1 402.2h0.5M496.7 396.2h0.5M496.1 401.2h0.5M495.9 393.9h0.5M494.9 399.8h0.5M497.7 394.1h0.5M494.5 402.5h0.5M498.3 398.3h0.5M496.7 397.7h0.5M492.7 400.4h0.5M498.5 397.0h0.5M499.6 392.3h0.5M496.1 403.7h0.5M500.6 393.4h0.5M496.7 396.1h0.5M494.3 400.3h0.5M499.0 392.9h0.5M495.6 397.5h0.5M494.9 396.8h0.5M498.1 394.2h0.5M497.6 397.1h0.5M499.1 395.1h0.5M498.3 398.9h0.5M501.4 386.0h0.5M496.1 397.4h0.5M490.9 405.3h0.5M492.1 405.7h0.5M494.7 399.4h0.5M497.6 394.6h0.5M499.2 393.2h0.5M497.6 397.0h0.5M496.6 402.0h0.5M495.0 395.0h0.5M495.4 402.4h0.5M494.5 401.1h0.5M492.0 407.7h0.5M496.4 402.2h0.5M496.9 396.6h0.5M495.5 395.7h0.5M491.9 404.2h0.5M494.3 393.8h0.5M498.9 390.8h0.5M492.0 407.4h0.5M498.8 389.9h0.5M498.2 399.1h0.5M498.8 398.6h0.5M495.4 402.1h0.5M498.4 396.3h0.5M496.5 398.3h0.5M496.3 396.2h0.5M498.1 395.8h0.5M497.9 397.5h0.5" stroke="#000" stroke-width="0.5" opacity="0.55" fill="none"/>
<path d="M488.7 397.1h.5M499.7 389.8h.5M493.8 395.5h.5M495.7 387.5h.5M488.7 405.9h.5M499.5 391.0h.5M498.4 383.3h.5M495.5 385.9h.5M494.9 393.7h.5M501.1 386.2h.5M479.8 415.7h.5M483.3 408.3h.5M493.9 397.6h.5M497.2 387.3h.5M499.8 385.4h.5M475.8 413.0h.5M484.3 417.5h.5M493.1 396.8h.5M489.6 401.1h.5M501.2 385.7h.5M497.8 388.2h.5M504.0 388.0h.5M487.9 406.9h.5M496.2 385.6h.5M491.8 398.8h.5M493.0 399.5h.5M481.0 415.0h.5M494.5 401.6h.5M498.4 387.8h.5M492.9 396.8h.5M483.6 411.0h.5M483.8 412.9h.5M495.1 394.9h.5M492.9 404.2h.5M499.2 393.3h.5M491.4 397.6h.5M495.9 387.9h.5M484.0 413.7h.5M483.2 406.7h.5M499.6 383.3h.5M491.8 397.2h.5M487.0 410.1h.5M494.5 397.9h.5M486.7 408.3h.5M498.0 386.8h.5M490.7 400.9h.5M483.2 409.2h.5M498.3 387.4h.5M483.0 418.9h.5M488.6 410.3h.5M498.9 387.9h.5M488.1 401.4h.5M493.9 395.5h.5M484.2 404.4h.5M483.3 415.4h.5M481.3 415.5h.5M488.7 407.4h.5M485.5 400.9h.5M492.1 398.1h.5M485.3 408.9h.5M489.1 402.8h.5M497.1 392.4h.5M484.6 411.8h.5M480.2 414.7h.5M484.1 401.2h.5M491.2 404.4h.5M496.6 399.6h.5M494.3 391.6h.5M484.5 408.7h.5M485.8 406.9h.5M489.2 408.7h.5M495.4 395.0h.5M481.3 415.0h.5M496.3 385.8h.5M479.3 417.2h.5M483.4 416.3h.5M480.8 407.5h.5M495.0 390.1h.5M485.5 401.7h.5M495.9 392.5h.5M480.6 409.1h.5M486.5 412.8h.5M480.2 414.4h.5M493.4 394.9h.5M493.2 397.0h.5M499.4 394.2h.5M490.3 402.3h.5M484.8 412.8h.5M480.0 410.7h.5M478.1 413.9h.5M494.3 398.1h.5M478.5 421.9h.5M489.4 403.0h.5M481.1 417.8h.5M490.3 400.7h.5M480.3 417.5h.5M497.0 386.7h.5M486.8 408.6h.5M492.1 400.9h.5M499.3 388.6h.5M495.2 385.3h.5M479.3 416.1h.5M499.8 390.4h.5M489.5 404.8h.5M493.5 402.8h.5M491.0 397.5h.5M473.8 415.4h.5M492.4 402.0h.5M481.4 417.6h.5M486.4 410.6h.5M493.1 396.2h.5M492.5 398.2h.5M484.2 413.7h.5M488.9 411.8h.5M497.6 385.6h.5M495.1 390.0h.5M501.4 385.1h.5M503.9 380.4h.5M498.2 390.1h.5M484.6 413.3h.5M484.2 411.8h.5M497.1 397.5h.5M483.7 411.0h.5M497.7 384.1h.5M486.2 408.1h.5M494.9 389.9h.5M490.8 405.1h.5M488.7 403.4h.5M490.5 399.2h.5M484.9 410.9h.5M496.1 397.4h.5M488.9 406.5h.5M493.5 396.7h.5M484.1 414.4h.5M497.4 396.7h.5M482.9 406.0h.5M496.4 400.0h.5M494.8 389.4h.5M480.5 418.1h.5M485.2 409.2h.5M486.0 410.6h.5M498.6 389.3h.5M495.2 394.3h.5M482.5 411.9h.5M488.7 403.8h.5M489.4 404.0h.5M497.7 392.0h.5M501.9 387.1h.5M489.2 392.3h.5M490.1 402.7h.5M490.2 405.2h.5M494.9 394.5h.5M500.9 388.0h.5M498.2 388.2h.5M486.6 407.5h.5M488.5 407.0h.5M484.4 409.8h.5M488.0 398.2h.5M491.3 398.6h.5M497.5 392.5h.5M495.6 400.6h.5M496.2 389.3h.5M484.3 413.4h.5M493.2 400.0h.5M498.5 390.2h.5M485.9 401.9h.5M495.7 397.8h.5M491.5 402.5h.5M492.6 390.7h.5M494.8 390.3h.5M483.0 411.0h.5M487.6 400.7h.5M498.6 392.5h.5M498.7 392.2h.5M494.3 394.8h.5M492.4 398.9h.5M483.7 413.9h.5M488.2 401.6h.5M486.4 406.5h.5M488.8 405.2h.5M493.1 392.6h.5M492.6 396.1h.5M492.9 399.3h.5M483.6 415.4h.5M493.0 393.7h.5M491.3 400.6h.5M493.5 397.2h.5M492.3 397.7h.5M495.3 394.9h.5M482.8 411.1h.5M500.7 388.6h.5M480.9 417.6h.5M487.1 406.2h.5M496.9 386.1h.5M494.1 389.6h.5M482.0 408.4h.5M480.0 412.3h.5M490.1 394.4h.5M503.2 385.1h.5M482.6 409.3h.5M488.8 401.3h.5M486.5 406.4h.5M491.6 388.3h.5M495.8 399.8h.5M479.0 414.2h.5M495.5 389.7h.5M483.8 411.4h.5M492.1 399.6h.5M482.7 421.0h.5M496.6 392.1h.5M486.8 404.1h.5M475.5 414.7h.5M496.2 389.9h.5M482.1 404.5h.5M492.2 395.1h.5M498.0 399.0h.5M498.4 384.7h.5M499.1 389.9h.5M493.4 396.1h.5M497.5 392.9h.5M491.8 396.9h.5M489.6 404.9h.5M487.8 405.8h.5M493.3 398.7h.5M484.3 407.3h.5M485.1 408.7h.5M486.6 407.6h.5M489.7 402.1h.5M486.0 406.7h.5M492.8 391.6h.5M495.9 388.3h.5M487.8 406.6h.5M483.9 415.9h.5M501.3 387.4h.5M499.4 390.0h.5M482.6 405.4h.5M482.4 412.6h.5M481.0 416.2h.5M480.8 416.7h.5M495.2 394.6h.5M499.1 391.7h.5M483.1 409.3h.5M484.7 409.9h.5M484.2 414.9h.5M498.7 389.5h.5M491.9 399.1h.5M490.1 411.1h.5M493.2 393.4h.5M490.7 400.2h.5M495.0 395.7h.5M484.9 412.1h.5M486.6 405.3h.5M493.6 391.1h.5M487.4 410.6h.5M493.0 397.4h.5M481.7 415.8h.5M490.7 395.4h.5M485.1 407.7h.5M493.4 389.4h.5M481.5 417.1h.5M492.6 402.9h.5M485.3 415.3h.5M498.4 387.2h.5M492.4 399.7h.5M501.0 384.3h.5M491.7 399.1h.5M487.2 415.1h.5M491.3 395.9h.5M490.6 399.8h.5M499.0 389.0h.5M484.7 406.0h.5M483.4 407.9h.5M485.1 409.4h.5M491.6 402.6h.5M484.0 407.5h.5M490.1 397.4h.5M495.2 393.2h.5M477.7 415.5h.5M494.6 391.7h.5M489.9 400.2h.5M496.2 396.6h.5M484.9 403.7h.5M492.6 393.0h.5M492.9 394.3h.5M491.6 408.0h.5M484.8 401.6h.5M488.2 404.2h.5M487.8 404.5h.5M492.5 394.8h.5M497.8 387.6h.5M497.0 389.8h.5M489.0 398.0h.5M492.0 400.0h.5M485.2 416.0h.5M481.5 413.0h.5M485.6 408.8h.5M480.8 411.2h.5M487.7 409.4h.5M482.9 416.3h.5M492.2 395.1h.5M499.0 392.1h.5M498.3 384.9h.5M484.9 403.9h.5M494.6 397.9h.5M488.4 401.6h.5M497.7 393.4h.5M494.8 396.5h.5M497.2 387.6h.5M496.8 389.3h.5M483.4 406.8h.5M495.6 395.7h.5M485.8 412.5h.5M485.6 407.6h.5M495.3 400.9h.5M487.0 405.9h.5M485.7 411.1h.5M500.3 390.4h.5M489.0 403.2h.5M490.6 398.2h.5M494.2 398.2h.5" stroke="#000" stroke-width=".5" opacity="0.25" fill="none"/>
</g>
<text x="392.60" y="327.60" font-size="10.3" textLength="11.40" lengthAdjust="spacingAndGlyphs">83</text>
<text x="459.80" y="326.60" font-size="10.3" textLength="11.40" lengthAdjust="spacingAndGlyphs">85</text>
<text x="392.60" y="400.80" font-size="10.4" textLength="10.00" lengthAdjust="spacingAndGlyphs">71</text>
<text x="460.60" y="397.90" font-size="10.3" textLength="10.80" lengthAdjust="spacingAndGlyphs">69</text>
<text x="374.00" y="323.40" font-size="10.0" text-anchor="middle" transform="rotate(-90 374.00 323.40)">Ctrl</text>
<text x="374.00" y="394.20" font-size="10.0" text-anchor="middle" transform="rotate(-90 374.00 394.20)" textLength="39.00" lengthAdjust="spacingAndGlyphs">+pp242</text>
<text x="384.60" y="390.60" font-size="8.8" text-anchor="middle" transform="rotate(-90 384.60 390.60)">PI</text>
<line x1="382.60" y1="435.00" x2="382.60" y2="404.30" stroke="#000" stroke-width="1.2"/>
<line x1="382.00" y1="434.40" x2="419.60" y2="434.40" stroke="#000" stroke-width="1.2"/>
<path d="M382.60 401.30l-2.4 4.6h4.8z"/>
<path d="M422.60 434.40l-4.6 -2.4v4.8z"/>
<text x="426.30" y="438.00" font-size="10.4" textLength="50.40" lengthAdjust="spacingAndGlyphs">Annexin-V</text>
</svg>
</body>
</html>
